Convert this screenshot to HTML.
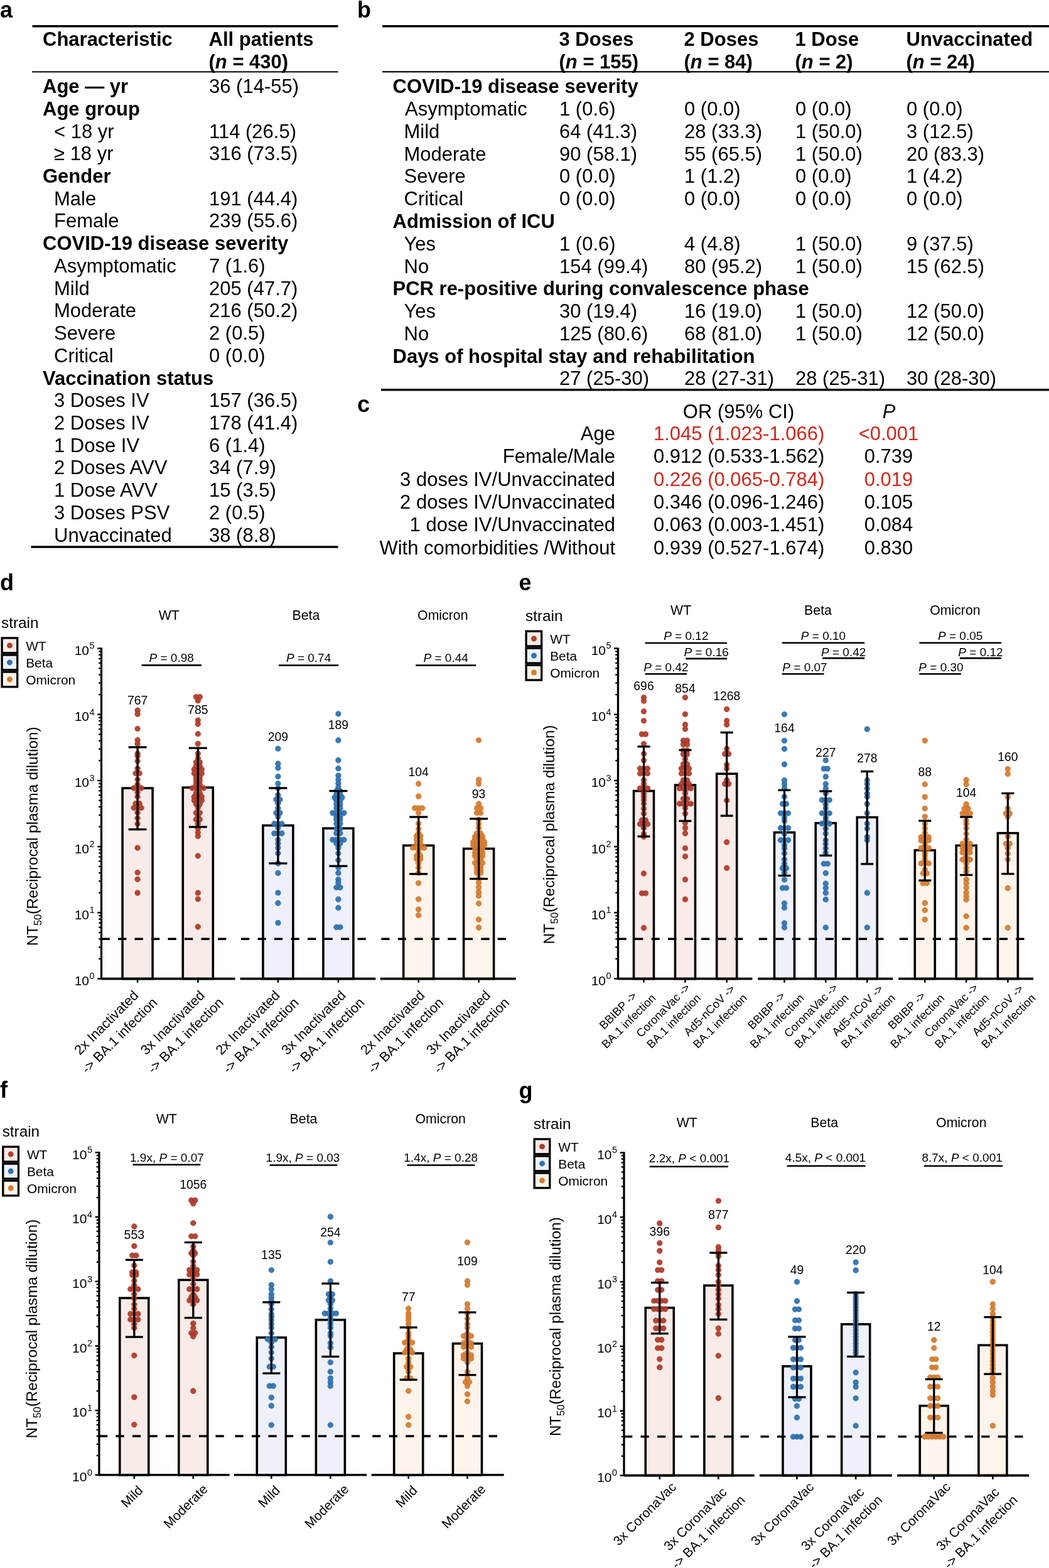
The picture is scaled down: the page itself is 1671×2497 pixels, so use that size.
<!DOCTYPE html>
<html><head><meta charset="utf-8"><title>Figure</title>
<style>
html,body{margin:0;padding:0;background:#fff;}
body{width:1671px;height:2497px;overflow:hidden;}
svg{display:block;}
svg text{font-family:'Liberation Sans', Arial, Helvetica, sans-serif;}
</style></head><body>
<svg width="1671" height="2497" viewBox="0 0 1671 2497">
<rect width="1671" height="2497" fill="#fff"/>
<text x="0.0" y="27.5" font-size="36" font-weight="bold">a</text>
<rect x="51.5" y="40.0" width="487.0" height="3.5" fill="#000"/>
<rect x="51.0" y="113.4" width="487.5" height="2.0" fill="#000"/>
<rect x="49.5" y="869.2" width="489.0" height="3.5" fill="#000"/>
<text x="68.0" y="72.7" font-size="31" font-weight="bold">Characteristic</text>
<text x="332.5" y="72.7" font-size="31" font-weight="bold">All patients</text>
<text x="332.5" y="108.7" font-size="31" font-weight="bold">(<tspan font-style="italic">n</tspan> = 430)</text>
<text x="68.0" y="148.1" font-size="31" font-weight="bold">Age — yr</text>
<text x="333.0" y="148.1" font-size="31">36 (14-55)</text>
<text x="68.0" y="183.8" font-size="31" font-weight="bold">Age group</text>
<text x="86.0" y="219.5" font-size="31">&lt; 18 yr</text>
<text x="333.0" y="219.5" font-size="31">114 (26.5)</text>
<text x="86.0" y="255.3" font-size="31">≥ 18 yr</text>
<text x="333.0" y="255.3" font-size="31">316 (73.5)</text>
<text x="68.0" y="291.0" font-size="31" font-weight="bold">Gender</text>
<text x="86.0" y="326.7" font-size="31">Male</text>
<text x="333.0" y="326.7" font-size="31">191 (44.4)</text>
<text x="86.0" y="362.4" font-size="31">Female</text>
<text x="333.0" y="362.4" font-size="31">239 (55.6)</text>
<text x="68.0" y="398.1" font-size="31" font-weight="bold">COVID-19 disease severity</text>
<text x="86.0" y="433.9" font-size="31">Asymptomatic</text>
<text x="333.0" y="433.9" font-size="31">7 (1.6)</text>
<text x="86.0" y="469.6" font-size="31">Mild</text>
<text x="333.0" y="469.6" font-size="31">205 (47.7)</text>
<text x="86.0" y="505.3" font-size="31">Moderate</text>
<text x="333.0" y="505.3" font-size="31">216 (50.2)</text>
<text x="86.0" y="541.0" font-size="31">Severe</text>
<text x="333.0" y="541.0" font-size="31">2 (0.5)</text>
<text x="86.0" y="576.7" font-size="31">Critical</text>
<text x="333.0" y="576.7" font-size="31">0 (0.0)</text>
<text x="68.0" y="612.5" font-size="31" font-weight="bold">Vaccination status</text>
<text x="86.0" y="648.2" font-size="31">3 Doses IV</text>
<text x="333.0" y="648.2" font-size="31">157 (36.5)</text>
<text x="86.0" y="683.9" font-size="31">2 Doses IV</text>
<text x="333.0" y="683.9" font-size="31">178 (41.4)</text>
<text x="86.0" y="719.6" font-size="31">1 Dose IV</text>
<text x="333.0" y="719.6" font-size="31">6 (1.4)</text>
<text x="86.0" y="755.3" font-size="31">2 Doses AVV</text>
<text x="333.0" y="755.3" font-size="31">34 (7.9)</text>
<text x="86.0" y="791.1" font-size="31">1 Dose AVV</text>
<text x="333.0" y="791.1" font-size="31">15 (3.5)</text>
<text x="86.0" y="826.8" font-size="31">3 Doses PSV</text>
<text x="333.0" y="826.8" font-size="31">2 (0.5)</text>
<text x="86.0" y="862.5" font-size="31">Unvaccinated</text>
<text x="333.0" y="862.5" font-size="31">38 (8.8)</text>
<text x="569.0" y="27.5" font-size="36" font-weight="bold">b</text>
<rect x="609.0" y="40.0" width="1062.0" height="3.5" fill="#000"/>
<rect x="609.0" y="113.2" width="1062.0" height="2.2" fill="#000"/>
<rect x="607.0" y="619.0" width="1064.0" height="3.5" fill="#000"/>
<text x="890.5" y="73.0" font-size="31" font-weight="bold">3 Doses</text>
<text x="890.5" y="109.0" font-size="31" font-weight="bold">(<tspan font-style="italic">n</tspan> = 155)</text>
<text x="1089.5" y="73.0" font-size="31" font-weight="bold">2 Doses</text>
<text x="1089.5" y="109.0" font-size="31" font-weight="bold">(<tspan font-style="italic">n</tspan> = 84)</text>
<text x="1266.5" y="73.0" font-size="31" font-weight="bold">1 Dose</text>
<text x="1266.5" y="109.0" font-size="31" font-weight="bold">(<tspan font-style="italic">n</tspan> = 2)</text>
<text x="1443.5" y="73.0" font-size="31" font-weight="bold">Unvaccinated</text>
<text x="1443.5" y="109.0" font-size="31" font-weight="bold">(<tspan font-style="italic">n</tspan> = 24)</text>
<text x="625.5" y="148.3" font-size="31" font-weight="bold">COVID-19 disease severity</text>
<text x="645.0" y="184.1" font-size="31">Asymptomatic</text>
<text x="891.0" y="184.1" font-size="31">1 (0.6)</text>
<text x="1090.0" y="184.1" font-size="31">0 (0.0)</text>
<text x="1267.0" y="184.1" font-size="31">0 (0.0)</text>
<text x="1444.0" y="184.1" font-size="31">0 (0.0)</text>
<text x="643.5" y="219.8" font-size="31">Mild</text>
<text x="891.0" y="219.8" font-size="31">64 (41.3)</text>
<text x="1090.0" y="219.8" font-size="31">28 (33.3)</text>
<text x="1267.0" y="219.8" font-size="31">1 (50.0)</text>
<text x="1444.0" y="219.8" font-size="31">3 (12.5)</text>
<text x="643.5" y="255.6" font-size="31">Moderate</text>
<text x="891.0" y="255.6" font-size="31">90 (58.1)</text>
<text x="1090.0" y="255.6" font-size="31">55 (65.5)</text>
<text x="1267.0" y="255.6" font-size="31">1 (50.0)</text>
<text x="1444.0" y="255.6" font-size="31">20 (83.3)</text>
<text x="643.5" y="291.4" font-size="31">Severe</text>
<text x="891.0" y="291.4" font-size="31">0 (0.0)</text>
<text x="1090.0" y="291.4" font-size="31">1 (1.2)</text>
<text x="1267.0" y="291.4" font-size="31">0 (0.0)</text>
<text x="1444.0" y="291.4" font-size="31">1 (4.2)</text>
<text x="643.5" y="327.2" font-size="31">Critical</text>
<text x="891.0" y="327.2" font-size="31">0 (0.0)</text>
<text x="1090.0" y="327.2" font-size="31">0 (0.0)</text>
<text x="1267.0" y="327.2" font-size="31">0 (0.0)</text>
<text x="1444.0" y="327.2" font-size="31">0 (0.0)</text>
<text x="625.5" y="362.9" font-size="31" font-weight="bold">Admission of ICU</text>
<text x="643.5" y="398.7" font-size="31">Yes</text>
<text x="891.0" y="398.7" font-size="31">1 (0.6)</text>
<text x="1090.0" y="398.7" font-size="31">4 (4.8)</text>
<text x="1267.0" y="398.7" font-size="31">1 (50.0)</text>
<text x="1444.0" y="398.7" font-size="31">9 (37.5)</text>
<text x="643.5" y="434.5" font-size="31">No</text>
<text x="891.0" y="434.5" font-size="31">154 (99.4)</text>
<text x="1090.0" y="434.5" font-size="31">80 (95.2)</text>
<text x="1267.0" y="434.5" font-size="31">1 (50.0)</text>
<text x="1444.0" y="434.5" font-size="31">15 (62.5)</text>
<text x="625.5" y="470.2" font-size="31" font-weight="bold">PCR re-positive during convalescence phase</text>
<text x="643.5" y="506.0" font-size="31">Yes</text>
<text x="891.0" y="506.0" font-size="31">30 (19.4)</text>
<text x="1090.0" y="506.0" font-size="31">16 (19.0)</text>
<text x="1267.0" y="506.0" font-size="31">1 (50.0)</text>
<text x="1444.0" y="506.0" font-size="31">12 (50.0)</text>
<text x="643.5" y="541.8" font-size="31">No</text>
<text x="891.0" y="541.8" font-size="31">125 (80.6)</text>
<text x="1090.0" y="541.8" font-size="31">68 (81.0)</text>
<text x="1267.0" y="541.8" font-size="31">1 (50.0)</text>
<text x="1444.0" y="541.8" font-size="31">12 (50.0)</text>
<text x="625.5" y="577.5" font-size="31" font-weight="bold">Days of hospital stay and rehabilitation</text>
<text x="891.0" y="613.3" font-size="31">27 (25-30)</text>
<text x="1090.0" y="613.3" font-size="31">28 (27-31)</text>
<text x="1267.0" y="613.3" font-size="31">28 (25-31)</text>
<text x="1444.0" y="613.3" font-size="31">30 (28-30)</text>
<text x="569.0" y="655.5" font-size="36" font-weight="bold">c</text>
<text x="1176.5" y="665.6" font-size="31" text-anchor="middle">OR (95% CI)</text>
<text x="1416.0" y="665.6" font-size="31" text-anchor="middle" font-style="italic">P</text>
<text x="980.0" y="700.6" font-size="31" text-anchor="end">Age</text>
<text x="1041.0" y="700.6" font-size="31" fill="#d0271b">1.045 (1.023-1.066)</text>
<text x="1415.5" y="700.6" font-size="31" text-anchor="middle" fill="#d0271b">&lt;0.001</text>
<text x="980.0" y="737.0" font-size="31" text-anchor="end">Female/Male</text>
<text x="1041.0" y="737.0" font-size="31">0.912 (0.533-1.562)</text>
<text x="1415.5" y="737.0" font-size="31" text-anchor="middle">0.739</text>
<text x="980.0" y="773.5" font-size="31" text-anchor="end">3 doses IV/Unvaccinated</text>
<text x="1041.0" y="773.5" font-size="31" fill="#d0271b">0.226 (0.065-0.784)</text>
<text x="1415.5" y="773.5" font-size="31" text-anchor="middle" fill="#d0271b">0.019</text>
<text x="980.0" y="809.9" font-size="31" text-anchor="end">2 doses IV/Unvaccinated</text>
<text x="1041.0" y="809.9" font-size="31">0.346 (0.096-1.246)</text>
<text x="1415.5" y="809.9" font-size="31" text-anchor="middle">0.105</text>
<text x="980.0" y="846.4" font-size="31" text-anchor="end">1 dose IV/Unvaccinated</text>
<text x="1041.0" y="846.4" font-size="31">0.063 (0.003-1.451)</text>
<text x="1415.5" y="846.4" font-size="31" text-anchor="middle">0.084</text>
<text x="980.0" y="882.8" font-size="31" text-anchor="end">With comorbidities /Without</text>
<text x="1041.0" y="882.8" font-size="31">0.939 (0.527-1.674)</text>
<text x="1415.5" y="882.8" font-size="31" text-anchor="middle">0.830</text>
<text x="0.0" y="940.0" font-size="36" font-weight="bold">d</text>
<text x="2.0" y="999.6" font-size="24.3">strain</text>
<rect x="3.1" y="1016.0" width="24.6" height="23.8" fill="#f9ebe8" stroke="#000" stroke-width="3.3"/>
<circle cx="15.5" cy="1027.9" r="4.5" fill="#ae3f2d"/>
<text x="41.2" y="1035.8" font-size="20.9">WT</text>
<rect x="3.1" y="1043.0" width="24.6" height="23.8" fill="#eef1fa" stroke="#000" stroke-width="3.3"/>
<circle cx="15.5" cy="1054.9" r="4.5" fill="#3173af"/>
<text x="41.2" y="1062.8" font-size="20.9">Beta</text>
<rect x="3.1" y="1070.0" width="24.6" height="23.8" fill="#fdf4eb" stroke="#000" stroke-width="3.3"/>
<circle cx="15.5" cy="1081.9" r="4.5" fill="#d57d33"/>
<text x="41.2" y="1089.8" font-size="20.9">Omicron</text>
<text transform="translate(59.6,1506.3) rotate(-90)" font-size="24.2">NT<tspan font-size="16.3" dy="6">50</tspan><tspan dy="-6">(Reciprocal plasma dilution)</tspan></text>
<rect x="195.1" y="1255.1" width="48.0" height="303.5" fill="#f9ebe8" stroke="#000" stroke-width="3.6"/>
<rect x="291.3" y="1254.1" width="48.0" height="304.5" fill="#f9ebe8" stroke="#000" stroke-width="3.6"/>
<line x1="161.5" y1="1495.3" x2="360.3" y2="1495.3" stroke="#000" stroke-width="3.4" stroke-dasharray="13.3 13.2"/>
<circle cx="219.1" cy="1131.4" r="4.3" fill="#ae3f2d" stroke="#a92a1a" stroke-width="0.6" fill-opacity="0.95"/>
<circle cx="219.1" cy="1137.3" r="4.3" fill="#ae3f2d" stroke="#a92a1a" stroke-width="0.6" fill-opacity="0.95"/>
<circle cx="219.1" cy="1160.5" r="4.3" fill="#ae3f2d" stroke="#a92a1a" stroke-width="0.6" fill-opacity="0.95"/>
<circle cx="219.1" cy="1178.5" r="4.3" fill="#ae3f2d" stroke="#a92a1a" stroke-width="0.6" fill-opacity="0.95"/>
<circle cx="219.1" cy="1184.4" r="4.3" fill="#ae3f2d" stroke="#a92a1a" stroke-width="0.6" fill-opacity="0.95"/>
<circle cx="219.1" cy="1200.1" r="4.3" fill="#ae3f2d" stroke="#a92a1a" stroke-width="0.6" fill-opacity="0.95"/>
<circle cx="219.1" cy="1204.0" r="4.3" fill="#ae3f2d" stroke="#a92a1a" stroke-width="0.6" fill-opacity="0.95"/>
<circle cx="219.1" cy="1212.0" r="4.3" fill="#ae3f2d" stroke="#a92a1a" stroke-width="0.6" fill-opacity="0.95"/>
<circle cx="219.1" cy="1223.6" r="4.3" fill="#ae3f2d" stroke="#a92a1a" stroke-width="0.6" fill-opacity="0.95"/>
<circle cx="216.1" cy="1231.5" r="4.3" fill="#ae3f2d" stroke="#a92a1a" stroke-width="0.6" fill-opacity="0.95"/>
<circle cx="222.1" cy="1231.5" r="4.3" fill="#ae3f2d" stroke="#a92a1a" stroke-width="0.6" fill-opacity="0.95"/>
<circle cx="219.1" cy="1241.3" r="4.3" fill="#ae3f2d" stroke="#a92a1a" stroke-width="0.6" fill-opacity="0.95"/>
<circle cx="219.1" cy="1249.2" r="4.3" fill="#ae3f2d" stroke="#a92a1a" stroke-width="0.6" fill-opacity="0.95"/>
<circle cx="213.1" cy="1255.0" r="4.3" fill="#ae3f2d" stroke="#a92a1a" stroke-width="0.6" fill-opacity="0.95"/>
<circle cx="219.1" cy="1255.0" r="4.3" fill="#ae3f2d" stroke="#a92a1a" stroke-width="0.6" fill-opacity="0.95"/>
<circle cx="225.1" cy="1255.0" r="4.3" fill="#ae3f2d" stroke="#a92a1a" stroke-width="0.6" fill-opacity="0.95"/>
<circle cx="219.1" cy="1262.0" r="4.3" fill="#ae3f2d" stroke="#a92a1a" stroke-width="0.6" fill-opacity="0.95"/>
<circle cx="219.1" cy="1268.8" r="4.3" fill="#ae3f2d" stroke="#a92a1a" stroke-width="0.6" fill-opacity="0.95"/>
<circle cx="216.1" cy="1279.6" r="4.3" fill="#ae3f2d" stroke="#a92a1a" stroke-width="0.6" fill-opacity="0.95"/>
<circle cx="222.1" cy="1279.6" r="4.3" fill="#ae3f2d" stroke="#a92a1a" stroke-width="0.6" fill-opacity="0.95"/>
<circle cx="213.1" cy="1286.5" r="4.3" fill="#ae3f2d" stroke="#a92a1a" stroke-width="0.6" fill-opacity="0.95"/>
<circle cx="219.1" cy="1286.5" r="4.3" fill="#ae3f2d" stroke="#a92a1a" stroke-width="0.6" fill-opacity="0.95"/>
<circle cx="225.1" cy="1286.5" r="4.3" fill="#ae3f2d" stroke="#a92a1a" stroke-width="0.6" fill-opacity="0.95"/>
<circle cx="219.1" cy="1294.3" r="4.3" fill="#ae3f2d" stroke="#a92a1a" stroke-width="0.6" fill-opacity="0.95"/>
<circle cx="219.1" cy="1303.0" r="4.3" fill="#ae3f2d" stroke="#a92a1a" stroke-width="0.6" fill-opacity="0.95"/>
<circle cx="219.1" cy="1312.0" r="4.3" fill="#ae3f2d" stroke="#a92a1a" stroke-width="0.6" fill-opacity="0.95"/>
<circle cx="219.1" cy="1350.2" r="4.3" fill="#ae3f2d" stroke="#a92a1a" stroke-width="0.6" fill-opacity="0.95"/>
<circle cx="219.1" cy="1389.5" r="4.3" fill="#ae3f2d" stroke="#a92a1a" stroke-width="0.6" fill-opacity="0.95"/>
<circle cx="219.1" cy="1400.3" r="4.3" fill="#ae3f2d" stroke="#a92a1a" stroke-width="0.6" fill-opacity="0.95"/>
<circle cx="219.1" cy="1421.9" r="4.3" fill="#ae3f2d" stroke="#a92a1a" stroke-width="0.6" fill-opacity="0.95"/>
<circle cx="312.3" cy="1109.8" r="4.3" fill="#ae3f2d" stroke="#a92a1a" stroke-width="0.6" fill-opacity="0.95"/>
<circle cx="318.3" cy="1109.8" r="4.3" fill="#ae3f2d" stroke="#a92a1a" stroke-width="0.6" fill-opacity="0.95"/>
<circle cx="315.3" cy="1115.7" r="4.3" fill="#ae3f2d" stroke="#a92a1a" stroke-width="0.6" fill-opacity="0.95"/>
<circle cx="315.3" cy="1147.1" r="4.3" fill="#ae3f2d" stroke="#a92a1a" stroke-width="0.6" fill-opacity="0.95"/>
<circle cx="315.3" cy="1153.0" r="4.3" fill="#ae3f2d" stroke="#a92a1a" stroke-width="0.6" fill-opacity="0.95"/>
<circle cx="315.3" cy="1168.7" r="4.3" fill="#ae3f2d" stroke="#a92a1a" stroke-width="0.6" fill-opacity="0.95"/>
<circle cx="315.3" cy="1184.4" r="4.3" fill="#ae3f2d" stroke="#a92a1a" stroke-width="0.6" fill-opacity="0.95"/>
<circle cx="315.3" cy="1200.1" r="4.3" fill="#ae3f2d" stroke="#a92a1a" stroke-width="0.6" fill-opacity="0.95"/>
<circle cx="315.3" cy="1207.0" r="4.3" fill="#ae3f2d" stroke="#a92a1a" stroke-width="0.6" fill-opacity="0.95"/>
<circle cx="312.3" cy="1213.8" r="4.3" fill="#ae3f2d" stroke="#a92a1a" stroke-width="0.6" fill-opacity="0.95"/>
<circle cx="318.3" cy="1213.8" r="4.3" fill="#ae3f2d" stroke="#a92a1a" stroke-width="0.6" fill-opacity="0.95"/>
<circle cx="312.3" cy="1220.0" r="4.3" fill="#ae3f2d" stroke="#a92a1a" stroke-width="0.6" fill-opacity="0.95"/>
<circle cx="318.3" cy="1220.0" r="4.3" fill="#ae3f2d" stroke="#a92a1a" stroke-width="0.6" fill-opacity="0.95"/>
<circle cx="309.3" cy="1225.0" r="4.3" fill="#ae3f2d" stroke="#a92a1a" stroke-width="0.6" fill-opacity="0.95"/>
<circle cx="315.3" cy="1225.0" r="4.3" fill="#ae3f2d" stroke="#a92a1a" stroke-width="0.6" fill-opacity="0.95"/>
<circle cx="321.3" cy="1225.0" r="4.3" fill="#ae3f2d" stroke="#a92a1a" stroke-width="0.6" fill-opacity="0.95"/>
<circle cx="309.3" cy="1231.5" r="4.3" fill="#ae3f2d" stroke="#a92a1a" stroke-width="0.6" fill-opacity="0.95"/>
<circle cx="315.3" cy="1231.5" r="4.3" fill="#ae3f2d" stroke="#a92a1a" stroke-width="0.6" fill-opacity="0.95"/>
<circle cx="321.3" cy="1231.5" r="4.3" fill="#ae3f2d" stroke="#a92a1a" stroke-width="0.6" fill-opacity="0.95"/>
<circle cx="312.3" cy="1237.4" r="4.3" fill="#ae3f2d" stroke="#a92a1a" stroke-width="0.6" fill-opacity="0.95"/>
<circle cx="318.3" cy="1237.4" r="4.3" fill="#ae3f2d" stroke="#a92a1a" stroke-width="0.6" fill-opacity="0.95"/>
<circle cx="312.3" cy="1243.0" r="4.3" fill="#ae3f2d" stroke="#a92a1a" stroke-width="0.6" fill-opacity="0.95"/>
<circle cx="318.3" cy="1243.0" r="4.3" fill="#ae3f2d" stroke="#a92a1a" stroke-width="0.6" fill-opacity="0.95"/>
<circle cx="312.3" cy="1249.0" r="4.3" fill="#ae3f2d" stroke="#a92a1a" stroke-width="0.6" fill-opacity="0.95"/>
<circle cx="318.3" cy="1249.0" r="4.3" fill="#ae3f2d" stroke="#a92a1a" stroke-width="0.6" fill-opacity="0.95"/>
<circle cx="306.3" cy="1255.0" r="4.3" fill="#ae3f2d" stroke="#a92a1a" stroke-width="0.6" fill-opacity="0.95"/>
<circle cx="312.3" cy="1255.0" r="4.3" fill="#ae3f2d" stroke="#a92a1a" stroke-width="0.6" fill-opacity="0.95"/>
<circle cx="318.3" cy="1255.0" r="4.3" fill="#ae3f2d" stroke="#a92a1a" stroke-width="0.6" fill-opacity="0.95"/>
<circle cx="324.3" cy="1255.0" r="4.3" fill="#ae3f2d" stroke="#a92a1a" stroke-width="0.6" fill-opacity="0.95"/>
<circle cx="312.3" cy="1263.0" r="4.3" fill="#ae3f2d" stroke="#a92a1a" stroke-width="0.6" fill-opacity="0.95"/>
<circle cx="318.3" cy="1263.0" r="4.3" fill="#ae3f2d" stroke="#a92a1a" stroke-width="0.6" fill-opacity="0.95"/>
<circle cx="309.3" cy="1268.8" r="4.3" fill="#ae3f2d" stroke="#a92a1a" stroke-width="0.6" fill-opacity="0.95"/>
<circle cx="315.3" cy="1268.8" r="4.3" fill="#ae3f2d" stroke="#a92a1a" stroke-width="0.6" fill-opacity="0.95"/>
<circle cx="321.3" cy="1268.8" r="4.3" fill="#ae3f2d" stroke="#a92a1a" stroke-width="0.6" fill-opacity="0.95"/>
<circle cx="309.3" cy="1274.6" r="4.3" fill="#ae3f2d" stroke="#a92a1a" stroke-width="0.6" fill-opacity="0.95"/>
<circle cx="315.3" cy="1274.6" r="4.3" fill="#ae3f2d" stroke="#a92a1a" stroke-width="0.6" fill-opacity="0.95"/>
<circle cx="321.3" cy="1274.6" r="4.3" fill="#ae3f2d" stroke="#a92a1a" stroke-width="0.6" fill-opacity="0.95"/>
<circle cx="312.3" cy="1280.6" r="4.3" fill="#ae3f2d" stroke="#a92a1a" stroke-width="0.6" fill-opacity="0.95"/>
<circle cx="318.3" cy="1280.6" r="4.3" fill="#ae3f2d" stroke="#a92a1a" stroke-width="0.6" fill-opacity="0.95"/>
<circle cx="315.3" cy="1286.0" r="4.3" fill="#ae3f2d" stroke="#a92a1a" stroke-width="0.6" fill-opacity="0.95"/>
<circle cx="312.3" cy="1294.3" r="4.3" fill="#ae3f2d" stroke="#a92a1a" stroke-width="0.6" fill-opacity="0.95"/>
<circle cx="318.3" cy="1294.3" r="4.3" fill="#ae3f2d" stroke="#a92a1a" stroke-width="0.6" fill-opacity="0.95"/>
<circle cx="315.3" cy="1300.0" r="4.3" fill="#ae3f2d" stroke="#a92a1a" stroke-width="0.6" fill-opacity="0.95"/>
<circle cx="312.3" cy="1305.0" r="4.3" fill="#ae3f2d" stroke="#a92a1a" stroke-width="0.6" fill-opacity="0.95"/>
<circle cx="318.3" cy="1305.0" r="4.3" fill="#ae3f2d" stroke="#a92a1a" stroke-width="0.6" fill-opacity="0.95"/>
<circle cx="315.3" cy="1312.0" r="4.3" fill="#ae3f2d" stroke="#a92a1a" stroke-width="0.6" fill-opacity="0.95"/>
<circle cx="315.3" cy="1319.0" r="4.3" fill="#ae3f2d" stroke="#a92a1a" stroke-width="0.6" fill-opacity="0.95"/>
<circle cx="315.3" cy="1325.7" r="4.3" fill="#ae3f2d" stroke="#a92a1a" stroke-width="0.6" fill-opacity="0.95"/>
<circle cx="315.3" cy="1331.6" r="4.3" fill="#ae3f2d" stroke="#a92a1a" stroke-width="0.6" fill-opacity="0.95"/>
<circle cx="315.3" cy="1363.0" r="4.3" fill="#ae3f2d" stroke="#a92a1a" stroke-width="0.6" fill-opacity="0.95"/>
<circle cx="315.3" cy="1421.9" r="4.3" fill="#ae3f2d" stroke="#a92a1a" stroke-width="0.6" fill-opacity="0.95"/>
<circle cx="315.3" cy="1431.7" r="4.3" fill="#ae3f2d" stroke="#a92a1a" stroke-width="0.6" fill-opacity="0.95"/>
<circle cx="315.3" cy="1475.9" r="4.3" fill="#ae3f2d" stroke="#a92a1a" stroke-width="0.6" fill-opacity="0.95"/>
<line x1="219.1" y1="1189.9" x2="219.1" y2="1320.8" stroke="#000" stroke-width="3.3" />
<line x1="204.6" y1="1189.9" x2="233.6" y2="1189.9" stroke="#000" stroke-width="3.3" />
<line x1="204.6" y1="1320.8" x2="233.6" y2="1320.8" stroke="#000" stroke-width="3.3" />
<text x="219.1" y="1122.3" font-size="19.4" text-anchor="middle">767</text>
<line x1="315.3" y1="1191.3" x2="315.3" y2="1316.9" stroke="#000" stroke-width="3.3" />
<line x1="300.8" y1="1191.3" x2="329.8" y2="1191.3" stroke="#000" stroke-width="3.3" />
<line x1="300.8" y1="1316.9" x2="329.8" y2="1316.9" stroke="#000" stroke-width="3.3" />
<text x="315.3" y="1137.0" font-size="19.4" text-anchor="middle">785</text>
<line x1="161.5" y1="1558.6" x2="374.5" y2="1558.6" stroke="#000" stroke-width="3.6" />
<line x1="219.1" y1="1558.6" x2="219.1" y2="1564.8" stroke="#000" stroke-width="2.6" />
<text transform="translate(174.5,1633.7) rotate(-45)" font-size="21.7" text-anchor="middle">2x Inactivated</text>
<text transform="translate(195.3,1654.4) rotate(-45)" font-size="21.7" text-anchor="middle">-&gt; BA.1 infection</text>
<line x1="315.3" y1="1558.6" x2="315.3" y2="1564.8" stroke="#000" stroke-width="2.6" />
<text transform="translate(280.0,1633.7) rotate(-45)" font-size="21.7" text-anchor="middle">3x Inactivated</text>
<text transform="translate(300.8,1654.4) rotate(-45)" font-size="21.7" text-anchor="middle">-&gt; BA.1 infection</text>
<text x="269.2" y="987.0" font-size="21.3" text-anchor="middle">WT</text>
<line x1="225.6" y1="1059.4" x2="320.9" y2="1059.4" stroke="#000" stroke-width="2.6" />
<text x="273.2" y="1054.0" font-size="19.0" text-anchor="middle"><tspan font-style="italic">P</tspan> = 0.98</text>
<rect x="418.9" y="1314.5" width="48.0" height="244.1" fill="#eef1fa" stroke="#000" stroke-width="3.6"/>
<rect x="514.9" y="1319.1" width="48.0" height="239.5" fill="#eef1fa" stroke="#000" stroke-width="3.6"/>
<line x1="384.0" y1="1495.3" x2="582.8" y2="1495.3" stroke="#000" stroke-width="3.4" stroke-dasharray="13.3 13.2"/>
<circle cx="442.9" cy="1192.2" r="4.3" fill="#3173af" stroke="#1f62a3" stroke-width="0.6" fill-opacity="0.95"/>
<circle cx="442.9" cy="1216.1" r="4.3" fill="#3173af" stroke="#1f62a3" stroke-width="0.6" fill-opacity="0.95"/>
<circle cx="442.9" cy="1222.9" r="4.3" fill="#3173af" stroke="#1f62a3" stroke-width="0.6" fill-opacity="0.95"/>
<circle cx="442.9" cy="1236.6" r="4.3" fill="#3173af" stroke="#1f62a3" stroke-width="0.6" fill-opacity="0.95"/>
<circle cx="442.9" cy="1247.7" r="4.3" fill="#3173af" stroke="#1f62a3" stroke-width="0.6" fill-opacity="0.95"/>
<circle cx="442.9" cy="1255.4" r="4.3" fill="#3173af" stroke="#1f62a3" stroke-width="0.6" fill-opacity="0.95"/>
<circle cx="442.9" cy="1266.0" r="4.3" fill="#3173af" stroke="#1f62a3" stroke-width="0.6" fill-opacity="0.95"/>
<circle cx="439.9" cy="1273.3" r="4.3" fill="#3173af" stroke="#1f62a3" stroke-width="0.6" fill-opacity="0.95"/>
<circle cx="445.9" cy="1273.3" r="4.3" fill="#3173af" stroke="#1f62a3" stroke-width="0.6" fill-opacity="0.95"/>
<circle cx="442.9" cy="1279.3" r="4.3" fill="#3173af" stroke="#1f62a3" stroke-width="0.6" fill-opacity="0.95"/>
<circle cx="442.9" cy="1287.0" r="4.3" fill="#3173af" stroke="#1f62a3" stroke-width="0.6" fill-opacity="0.95"/>
<circle cx="439.9" cy="1294.6" r="4.3" fill="#3173af" stroke="#1f62a3" stroke-width="0.6" fill-opacity="0.95"/>
<circle cx="445.9" cy="1294.6" r="4.3" fill="#3173af" stroke="#1f62a3" stroke-width="0.6" fill-opacity="0.95"/>
<circle cx="442.9" cy="1300.6" r="4.3" fill="#3173af" stroke="#1f62a3" stroke-width="0.6" fill-opacity="0.95"/>
<circle cx="436.9" cy="1311.7" r="4.3" fill="#3173af" stroke="#1f62a3" stroke-width="0.6" fill-opacity="0.95"/>
<circle cx="442.9" cy="1311.7" r="4.3" fill="#3173af" stroke="#1f62a3" stroke-width="0.6" fill-opacity="0.95"/>
<circle cx="448.9" cy="1311.7" r="4.3" fill="#3173af" stroke="#1f62a3" stroke-width="0.6" fill-opacity="0.95"/>
<circle cx="442.9" cy="1318.5" r="4.3" fill="#3173af" stroke="#1f62a3" stroke-width="0.6" fill-opacity="0.95"/>
<circle cx="436.9" cy="1327.1" r="4.3" fill="#3173af" stroke="#1f62a3" stroke-width="0.6" fill-opacity="0.95"/>
<circle cx="442.9" cy="1327.1" r="4.3" fill="#3173af" stroke="#1f62a3" stroke-width="0.6" fill-opacity="0.95"/>
<circle cx="448.9" cy="1327.1" r="4.3" fill="#3173af" stroke="#1f62a3" stroke-width="0.6" fill-opacity="0.95"/>
<circle cx="442.9" cy="1337.3" r="4.3" fill="#3173af" stroke="#1f62a3" stroke-width="0.6" fill-opacity="0.95"/>
<circle cx="442.9" cy="1343.3" r="4.3" fill="#3173af" stroke="#1f62a3" stroke-width="0.6" fill-opacity="0.95"/>
<circle cx="442.9" cy="1350.1" r="4.3" fill="#3173af" stroke="#1f62a3" stroke-width="0.6" fill-opacity="0.95"/>
<circle cx="442.9" cy="1358.7" r="4.3" fill="#3173af" stroke="#1f62a3" stroke-width="0.6" fill-opacity="0.95"/>
<circle cx="442.9" cy="1374.9" r="4.3" fill="#3173af" stroke="#1f62a3" stroke-width="0.6" fill-opacity="0.95"/>
<circle cx="442.9" cy="1390.3" r="4.3" fill="#3173af" stroke="#1f62a3" stroke-width="0.6" fill-opacity="0.95"/>
<circle cx="442.9" cy="1421.8" r="4.3" fill="#3173af" stroke="#1f62a3" stroke-width="0.6" fill-opacity="0.95"/>
<circle cx="442.9" cy="1438.1" r="4.3" fill="#3173af" stroke="#1f62a3" stroke-width="0.6" fill-opacity="0.95"/>
<circle cx="442.9" cy="1469.6" r="4.3" fill="#3173af" stroke="#1f62a3" stroke-width="0.6" fill-opacity="0.95"/>
<circle cx="538.9" cy="1136.7" r="4.3" fill="#3173af" stroke="#1f62a3" stroke-width="0.6" fill-opacity="0.95"/>
<circle cx="538.9" cy="1178.9" r="4.3" fill="#3173af" stroke="#1f62a3" stroke-width="0.6" fill-opacity="0.95"/>
<circle cx="538.9" cy="1210.6" r="4.3" fill="#3173af" stroke="#1f62a3" stroke-width="0.6" fill-opacity="0.95"/>
<circle cx="538.9" cy="1223.8" r="4.3" fill="#3173af" stroke="#1f62a3" stroke-width="0.6" fill-opacity="0.95"/>
<circle cx="538.9" cy="1235.0" r="4.3" fill="#3173af" stroke="#1f62a3" stroke-width="0.6" fill-opacity="0.95"/>
<circle cx="538.9" cy="1241.7" r="4.3" fill="#3173af" stroke="#1f62a3" stroke-width="0.6" fill-opacity="0.95"/>
<circle cx="538.9" cy="1247.7" r="4.3" fill="#3173af" stroke="#1f62a3" stroke-width="0.6" fill-opacity="0.95"/>
<circle cx="538.9" cy="1253.7" r="4.3" fill="#3173af" stroke="#1f62a3" stroke-width="0.6" fill-opacity="0.95"/>
<circle cx="535.9" cy="1259.6" r="4.3" fill="#3173af" stroke="#1f62a3" stroke-width="0.6" fill-opacity="0.95"/>
<circle cx="541.9" cy="1259.6" r="4.3" fill="#3173af" stroke="#1f62a3" stroke-width="0.6" fill-opacity="0.95"/>
<circle cx="535.9" cy="1265.0" r="4.3" fill="#3173af" stroke="#1f62a3" stroke-width="0.6" fill-opacity="0.95"/>
<circle cx="541.9" cy="1265.0" r="4.3" fill="#3173af" stroke="#1f62a3" stroke-width="0.6" fill-opacity="0.95"/>
<circle cx="532.9" cy="1270.0" r="4.3" fill="#3173af" stroke="#1f62a3" stroke-width="0.6" fill-opacity="0.95"/>
<circle cx="538.9" cy="1270.0" r="4.3" fill="#3173af" stroke="#1f62a3" stroke-width="0.6" fill-opacity="0.95"/>
<circle cx="544.9" cy="1270.0" r="4.3" fill="#3173af" stroke="#1f62a3" stroke-width="0.6" fill-opacity="0.95"/>
<circle cx="535.9" cy="1275.0" r="4.3" fill="#3173af" stroke="#1f62a3" stroke-width="0.6" fill-opacity="0.95"/>
<circle cx="541.9" cy="1275.0" r="4.3" fill="#3173af" stroke="#1f62a3" stroke-width="0.6" fill-opacity="0.95"/>
<circle cx="535.9" cy="1281.0" r="4.3" fill="#3173af" stroke="#1f62a3" stroke-width="0.6" fill-opacity="0.95"/>
<circle cx="541.9" cy="1281.0" r="4.3" fill="#3173af" stroke="#1f62a3" stroke-width="0.6" fill-opacity="0.95"/>
<circle cx="535.9" cy="1287.0" r="4.3" fill="#3173af" stroke="#1f62a3" stroke-width="0.6" fill-opacity="0.95"/>
<circle cx="541.9" cy="1287.0" r="4.3" fill="#3173af" stroke="#1f62a3" stroke-width="0.6" fill-opacity="0.95"/>
<circle cx="529.9" cy="1294.6" r="4.3" fill="#3173af" stroke="#1f62a3" stroke-width="0.6" fill-opacity="0.95"/>
<circle cx="535.9" cy="1294.6" r="4.3" fill="#3173af" stroke="#1f62a3" stroke-width="0.6" fill-opacity="0.95"/>
<circle cx="541.9" cy="1294.6" r="4.3" fill="#3173af" stroke="#1f62a3" stroke-width="0.6" fill-opacity="0.95"/>
<circle cx="547.9" cy="1294.6" r="4.3" fill="#3173af" stroke="#1f62a3" stroke-width="0.6" fill-opacity="0.95"/>
<circle cx="535.9" cy="1300.0" r="4.3" fill="#3173af" stroke="#1f62a3" stroke-width="0.6" fill-opacity="0.95"/>
<circle cx="541.9" cy="1300.0" r="4.3" fill="#3173af" stroke="#1f62a3" stroke-width="0.6" fill-opacity="0.95"/>
<circle cx="535.9" cy="1304.9" r="4.3" fill="#3173af" stroke="#1f62a3" stroke-width="0.6" fill-opacity="0.95"/>
<circle cx="541.9" cy="1304.9" r="4.3" fill="#3173af" stroke="#1f62a3" stroke-width="0.6" fill-opacity="0.95"/>
<circle cx="535.9" cy="1311.7" r="4.3" fill="#3173af" stroke="#1f62a3" stroke-width="0.6" fill-opacity="0.95"/>
<circle cx="541.9" cy="1311.7" r="4.3" fill="#3173af" stroke="#1f62a3" stroke-width="0.6" fill-opacity="0.95"/>
<circle cx="535.9" cy="1320.0" r="4.3" fill="#3173af" stroke="#1f62a3" stroke-width="0.6" fill-opacity="0.95"/>
<circle cx="541.9" cy="1320.0" r="4.3" fill="#3173af" stroke="#1f62a3" stroke-width="0.6" fill-opacity="0.95"/>
<circle cx="535.9" cy="1327.0" r="4.3" fill="#3173af" stroke="#1f62a3" stroke-width="0.6" fill-opacity="0.95"/>
<circle cx="541.9" cy="1327.0" r="4.3" fill="#3173af" stroke="#1f62a3" stroke-width="0.6" fill-opacity="0.95"/>
<circle cx="529.9" cy="1337.3" r="4.3" fill="#3173af" stroke="#1f62a3" stroke-width="0.6" fill-opacity="0.95"/>
<circle cx="535.9" cy="1337.3" r="4.3" fill="#3173af" stroke="#1f62a3" stroke-width="0.6" fill-opacity="0.95"/>
<circle cx="541.9" cy="1337.3" r="4.3" fill="#3173af" stroke="#1f62a3" stroke-width="0.6" fill-opacity="0.95"/>
<circle cx="547.9" cy="1337.3" r="4.3" fill="#3173af" stroke="#1f62a3" stroke-width="0.6" fill-opacity="0.95"/>
<circle cx="535.9" cy="1343.0" r="4.3" fill="#3173af" stroke="#1f62a3" stroke-width="0.6" fill-opacity="0.95"/>
<circle cx="541.9" cy="1343.0" r="4.3" fill="#3173af" stroke="#1f62a3" stroke-width="0.6" fill-opacity="0.95"/>
<circle cx="538.9" cy="1350.1" r="4.3" fill="#3173af" stroke="#1f62a3" stroke-width="0.6" fill-opacity="0.95"/>
<circle cx="538.9" cy="1358.7" r="4.3" fill="#3173af" stroke="#1f62a3" stroke-width="0.6" fill-opacity="0.95"/>
<circle cx="538.9" cy="1369.8" r="4.3" fill="#3173af" stroke="#1f62a3" stroke-width="0.6" fill-opacity="0.95"/>
<circle cx="538.9" cy="1381.7" r="4.3" fill="#3173af" stroke="#1f62a3" stroke-width="0.6" fill-opacity="0.95"/>
<circle cx="538.9" cy="1390.3" r="4.3" fill="#3173af" stroke="#1f62a3" stroke-width="0.6" fill-opacity="0.95"/>
<circle cx="538.9" cy="1400.5" r="4.3" fill="#3173af" stroke="#1f62a3" stroke-width="0.6" fill-opacity="0.95"/>
<circle cx="538.9" cy="1405.6" r="4.3" fill="#3173af" stroke="#1f62a3" stroke-width="0.6" fill-opacity="0.95"/>
<circle cx="535.9" cy="1413.3" r="4.3" fill="#3173af" stroke="#1f62a3" stroke-width="0.6" fill-opacity="0.95"/>
<circle cx="541.9" cy="1413.3" r="4.3" fill="#3173af" stroke="#1f62a3" stroke-width="0.6" fill-opacity="0.95"/>
<circle cx="538.9" cy="1432.1" r="4.3" fill="#3173af" stroke="#1f62a3" stroke-width="0.6" fill-opacity="0.95"/>
<circle cx="538.9" cy="1445.7" r="4.3" fill="#3173af" stroke="#1f62a3" stroke-width="0.6" fill-opacity="0.95"/>
<circle cx="535.9" cy="1476.5" r="4.3" fill="#3173af" stroke="#1f62a3" stroke-width="0.6" fill-opacity="0.95"/>
<circle cx="541.9" cy="1476.5" r="4.3" fill="#3173af" stroke="#1f62a3" stroke-width="0.6" fill-opacity="0.95"/>
<line x1="442.9" y1="1255.0" x2="442.9" y2="1374.9" stroke="#000" stroke-width="3.3" />
<line x1="428.4" y1="1255.0" x2="457.4" y2="1255.0" stroke="#000" stroke-width="3.3" />
<line x1="428.4" y1="1374.9" x2="457.4" y2="1374.9" stroke="#000" stroke-width="3.3" />
<text x="442.9" y="1180.3" font-size="19.4" text-anchor="middle">209</text>
<line x1="538.9" y1="1259.6" x2="538.9" y2="1379.2" stroke="#000" stroke-width="3.3" />
<line x1="524.4" y1="1259.6" x2="553.4" y2="1259.6" stroke="#000" stroke-width="3.3" />
<line x1="524.4" y1="1379.2" x2="553.4" y2="1379.2" stroke="#000" stroke-width="3.3" />
<text x="538.9" y="1161.4" font-size="19.4" text-anchor="middle">189</text>
<line x1="382.5" y1="1558.6" x2="598.3" y2="1558.6" stroke="#000" stroke-width="3.6" />
<line x1="442.9" y1="1558.6" x2="442.9" y2="1564.8" stroke="#000" stroke-width="2.6" />
<text transform="translate(399.7,1633.7) rotate(-45)" font-size="21.7" text-anchor="middle">2x Inactivated</text>
<text transform="translate(420.5,1654.4) rotate(-45)" font-size="21.7" text-anchor="middle">-&gt; BA.1 infection</text>
<line x1="538.9" y1="1558.6" x2="538.9" y2="1564.8" stroke="#000" stroke-width="2.6" />
<text transform="translate(504.6,1633.7) rotate(-45)" font-size="21.7" text-anchor="middle">3x Inactivated</text>
<text transform="translate(525.4,1654.4) rotate(-45)" font-size="21.7" text-anchor="middle">-&gt; BA.1 infection</text>
<text x="487.4" y="987.0" font-size="21.3" text-anchor="middle">Beta</text>
<line x1="443.9" y1="1059.5" x2="539.3" y2="1059.5" stroke="#000" stroke-width="2.6" />
<text x="491.6" y="1054.0" font-size="19.0" text-anchor="middle"><tspan font-style="italic">P</tspan> = 0.74</text>
<rect x="642.7" y="1346.4" width="48.0" height="212.2" fill="#fdf4eb" stroke="#000" stroke-width="3.6"/>
<rect x="738.6" y="1351.5" width="48.0" height="207.1" fill="#fdf4eb" stroke="#000" stroke-width="3.6"/>
<line x1="607.3" y1="1495.3" x2="806.1" y2="1495.3" stroke="#000" stroke-width="3.4" stroke-dasharray="13.3 13.2"/>
<circle cx="666.7" cy="1248.1" r="4.3" fill="#d57d33" stroke="#c9691c" stroke-width="0.6" fill-opacity="0.95"/>
<circle cx="666.7" cy="1268.1" r="4.3" fill="#d57d33" stroke="#c9691c" stroke-width="0.6" fill-opacity="0.95"/>
<circle cx="660.7" cy="1286.9" r="4.3" fill="#d57d33" stroke="#c9691c" stroke-width="0.6" fill-opacity="0.95"/>
<circle cx="666.7" cy="1286.9" r="4.3" fill="#d57d33" stroke="#c9691c" stroke-width="0.6" fill-opacity="0.95"/>
<circle cx="672.7" cy="1286.9" r="4.3" fill="#d57d33" stroke="#c9691c" stroke-width="0.6" fill-opacity="0.95"/>
<circle cx="666.7" cy="1294.5" r="4.3" fill="#d57d33" stroke="#c9691c" stroke-width="0.6" fill-opacity="0.95"/>
<circle cx="666.7" cy="1311.6" r="4.3" fill="#d57d33" stroke="#c9691c" stroke-width="0.6" fill-opacity="0.95"/>
<circle cx="666.7" cy="1320.0" r="4.3" fill="#d57d33" stroke="#c9691c" stroke-width="0.6" fill-opacity="0.95"/>
<circle cx="666.7" cy="1327.0" r="4.3" fill="#d57d33" stroke="#c9691c" stroke-width="0.6" fill-opacity="0.95"/>
<circle cx="663.7" cy="1331.2" r="4.3" fill="#d57d33" stroke="#c9691c" stroke-width="0.6" fill-opacity="0.95"/>
<circle cx="669.7" cy="1331.2" r="4.3" fill="#d57d33" stroke="#c9691c" stroke-width="0.6" fill-opacity="0.95"/>
<circle cx="663.7" cy="1337.2" r="4.3" fill="#d57d33" stroke="#c9691c" stroke-width="0.6" fill-opacity="0.95"/>
<circle cx="669.7" cy="1337.2" r="4.3" fill="#d57d33" stroke="#c9691c" stroke-width="0.6" fill-opacity="0.95"/>
<circle cx="663.7" cy="1344.0" r="4.3" fill="#d57d33" stroke="#c9691c" stroke-width="0.6" fill-opacity="0.95"/>
<circle cx="669.7" cy="1344.0" r="4.3" fill="#d57d33" stroke="#c9691c" stroke-width="0.6" fill-opacity="0.95"/>
<circle cx="657.7" cy="1350.0" r="4.3" fill="#d57d33" stroke="#c9691c" stroke-width="0.6" fill-opacity="0.95"/>
<circle cx="663.7" cy="1350.0" r="4.3" fill="#d57d33" stroke="#c9691c" stroke-width="0.6" fill-opacity="0.95"/>
<circle cx="669.7" cy="1350.0" r="4.3" fill="#d57d33" stroke="#c9691c" stroke-width="0.6" fill-opacity="0.95"/>
<circle cx="675.7" cy="1350.0" r="4.3" fill="#d57d33" stroke="#c9691c" stroke-width="0.6" fill-opacity="0.95"/>
<circle cx="666.7" cy="1357.7" r="4.3" fill="#d57d33" stroke="#c9691c" stroke-width="0.6" fill-opacity="0.95"/>
<circle cx="663.7" cy="1362.8" r="4.3" fill="#d57d33" stroke="#c9691c" stroke-width="0.6" fill-opacity="0.95"/>
<circle cx="669.7" cy="1362.8" r="4.3" fill="#d57d33" stroke="#c9691c" stroke-width="0.6" fill-opacity="0.95"/>
<circle cx="663.7" cy="1368.0" r="4.3" fill="#d57d33" stroke="#c9691c" stroke-width="0.6" fill-opacity="0.95"/>
<circle cx="669.7" cy="1368.0" r="4.3" fill="#d57d33" stroke="#c9691c" stroke-width="0.6" fill-opacity="0.95"/>
<circle cx="666.7" cy="1374.7" r="4.3" fill="#d57d33" stroke="#c9691c" stroke-width="0.6" fill-opacity="0.95"/>
<circle cx="666.7" cy="1381.6" r="4.3" fill="#d57d33" stroke="#c9691c" stroke-width="0.6" fill-opacity="0.95"/>
<circle cx="666.7" cy="1390.1" r="4.3" fill="#d57d33" stroke="#c9691c" stroke-width="0.6" fill-opacity="0.95"/>
<circle cx="666.7" cy="1406.3" r="4.3" fill="#d57d33" stroke="#c9691c" stroke-width="0.6" fill-opacity="0.95"/>
<circle cx="666.7" cy="1431.9" r="4.3" fill="#d57d33" stroke="#c9691c" stroke-width="0.6" fill-opacity="0.95"/>
<circle cx="666.7" cy="1448.1" r="4.3" fill="#d57d33" stroke="#c9691c" stroke-width="0.6" fill-opacity="0.95"/>
<circle cx="666.7" cy="1457.5" r="4.3" fill="#d57d33" stroke="#c9691c" stroke-width="0.6" fill-opacity="0.95"/>
<circle cx="762.6" cy="1178.8" r="4.3" fill="#d57d33" stroke="#c9691c" stroke-width="0.6" fill-opacity="0.95"/>
<circle cx="762.6" cy="1241.6" r="4.3" fill="#d57d33" stroke="#c9691c" stroke-width="0.6" fill-opacity="0.95"/>
<circle cx="762.6" cy="1248.1" r="4.3" fill="#d57d33" stroke="#c9691c" stroke-width="0.6" fill-opacity="0.95"/>
<circle cx="762.6" cy="1280.0" r="4.3" fill="#d57d33" stroke="#c9691c" stroke-width="0.6" fill-opacity="0.95"/>
<circle cx="759.6" cy="1286.9" r="4.3" fill="#d57d33" stroke="#c9691c" stroke-width="0.6" fill-opacity="0.95"/>
<circle cx="765.6" cy="1286.9" r="4.3" fill="#d57d33" stroke="#c9691c" stroke-width="0.6" fill-opacity="0.95"/>
<circle cx="759.6" cy="1294.5" r="4.3" fill="#d57d33" stroke="#c9691c" stroke-width="0.6" fill-opacity="0.95"/>
<circle cx="765.6" cy="1294.5" r="4.3" fill="#d57d33" stroke="#c9691c" stroke-width="0.6" fill-opacity="0.95"/>
<circle cx="762.6" cy="1305.0" r="4.3" fill="#d57d33" stroke="#c9691c" stroke-width="0.6" fill-opacity="0.95"/>
<circle cx="762.6" cy="1311.6" r="4.3" fill="#d57d33" stroke="#c9691c" stroke-width="0.6" fill-opacity="0.95"/>
<circle cx="762.6" cy="1318.4" r="4.3" fill="#d57d33" stroke="#c9691c" stroke-width="0.6" fill-opacity="0.95"/>
<circle cx="759.6" cy="1327.0" r="4.3" fill="#d57d33" stroke="#c9691c" stroke-width="0.6" fill-opacity="0.95"/>
<circle cx="765.6" cy="1327.0" r="4.3" fill="#d57d33" stroke="#c9691c" stroke-width="0.6" fill-opacity="0.95"/>
<circle cx="756.6" cy="1332.0" r="4.3" fill="#d57d33" stroke="#c9691c" stroke-width="0.6" fill-opacity="0.95"/>
<circle cx="762.6" cy="1332.0" r="4.3" fill="#d57d33" stroke="#c9691c" stroke-width="0.6" fill-opacity="0.95"/>
<circle cx="768.6" cy="1332.0" r="4.3" fill="#d57d33" stroke="#c9691c" stroke-width="0.6" fill-opacity="0.95"/>
<circle cx="756.6" cy="1336.0" r="4.3" fill="#d57d33" stroke="#c9691c" stroke-width="0.6" fill-opacity="0.95"/>
<circle cx="762.6" cy="1336.0" r="4.3" fill="#d57d33" stroke="#c9691c" stroke-width="0.6" fill-opacity="0.95"/>
<circle cx="768.6" cy="1336.0" r="4.3" fill="#d57d33" stroke="#c9691c" stroke-width="0.6" fill-opacity="0.95"/>
<circle cx="753.6" cy="1341.0" r="4.3" fill="#d57d33" stroke="#c9691c" stroke-width="0.6" fill-opacity="0.95"/>
<circle cx="759.6" cy="1341.0" r="4.3" fill="#d57d33" stroke="#c9691c" stroke-width="0.6" fill-opacity="0.95"/>
<circle cx="765.6" cy="1341.0" r="4.3" fill="#d57d33" stroke="#c9691c" stroke-width="0.6" fill-opacity="0.95"/>
<circle cx="771.6" cy="1341.0" r="4.3" fill="#d57d33" stroke="#c9691c" stroke-width="0.6" fill-opacity="0.95"/>
<circle cx="753.6" cy="1346.0" r="4.3" fill="#d57d33" stroke="#c9691c" stroke-width="0.6" fill-opacity="0.95"/>
<circle cx="759.6" cy="1346.0" r="4.3" fill="#d57d33" stroke="#c9691c" stroke-width="0.6" fill-opacity="0.95"/>
<circle cx="765.6" cy="1346.0" r="4.3" fill="#d57d33" stroke="#c9691c" stroke-width="0.6" fill-opacity="0.95"/>
<circle cx="771.6" cy="1346.0" r="4.3" fill="#d57d33" stroke="#c9691c" stroke-width="0.6" fill-opacity="0.95"/>
<circle cx="756.6" cy="1351.0" r="4.3" fill="#d57d33" stroke="#c9691c" stroke-width="0.6" fill-opacity="0.95"/>
<circle cx="762.6" cy="1351.0" r="4.3" fill="#d57d33" stroke="#c9691c" stroke-width="0.6" fill-opacity="0.95"/>
<circle cx="768.6" cy="1351.0" r="4.3" fill="#d57d33" stroke="#c9691c" stroke-width="0.6" fill-opacity="0.95"/>
<circle cx="756.6" cy="1357.7" r="4.3" fill="#d57d33" stroke="#c9691c" stroke-width="0.6" fill-opacity="0.95"/>
<circle cx="762.6" cy="1357.7" r="4.3" fill="#d57d33" stroke="#c9691c" stroke-width="0.6" fill-opacity="0.95"/>
<circle cx="768.6" cy="1357.7" r="4.3" fill="#d57d33" stroke="#c9691c" stroke-width="0.6" fill-opacity="0.95"/>
<circle cx="756.6" cy="1363.0" r="4.3" fill="#d57d33" stroke="#c9691c" stroke-width="0.6" fill-opacity="0.95"/>
<circle cx="762.6" cy="1363.0" r="4.3" fill="#d57d33" stroke="#c9691c" stroke-width="0.6" fill-opacity="0.95"/>
<circle cx="768.6" cy="1363.0" r="4.3" fill="#d57d33" stroke="#c9691c" stroke-width="0.6" fill-opacity="0.95"/>
<circle cx="759.6" cy="1368.0" r="4.3" fill="#d57d33" stroke="#c9691c" stroke-width="0.6" fill-opacity="0.95"/>
<circle cx="765.6" cy="1368.0" r="4.3" fill="#d57d33" stroke="#c9691c" stroke-width="0.6" fill-opacity="0.95"/>
<circle cx="756.6" cy="1374.0" r="4.3" fill="#d57d33" stroke="#c9691c" stroke-width="0.6" fill-opacity="0.95"/>
<circle cx="762.6" cy="1374.0" r="4.3" fill="#d57d33" stroke="#c9691c" stroke-width="0.6" fill-opacity="0.95"/>
<circle cx="768.6" cy="1374.0" r="4.3" fill="#d57d33" stroke="#c9691c" stroke-width="0.6" fill-opacity="0.95"/>
<circle cx="759.6" cy="1380.0" r="4.3" fill="#d57d33" stroke="#c9691c" stroke-width="0.6" fill-opacity="0.95"/>
<circle cx="765.6" cy="1380.0" r="4.3" fill="#d57d33" stroke="#c9691c" stroke-width="0.6" fill-opacity="0.95"/>
<circle cx="759.6" cy="1385.0" r="4.3" fill="#d57d33" stroke="#c9691c" stroke-width="0.6" fill-opacity="0.95"/>
<circle cx="765.6" cy="1385.0" r="4.3" fill="#d57d33" stroke="#c9691c" stroke-width="0.6" fill-opacity="0.95"/>
<circle cx="759.6" cy="1390.0" r="4.3" fill="#d57d33" stroke="#c9691c" stroke-width="0.6" fill-opacity="0.95"/>
<circle cx="765.6" cy="1390.0" r="4.3" fill="#d57d33" stroke="#c9691c" stroke-width="0.6" fill-opacity="0.95"/>
<circle cx="762.6" cy="1399.0" r="4.3" fill="#d57d33" stroke="#c9691c" stroke-width="0.6" fill-opacity="0.95"/>
<circle cx="762.6" cy="1405.5" r="4.3" fill="#d57d33" stroke="#c9691c" stroke-width="0.6" fill-opacity="0.95"/>
<circle cx="762.6" cy="1413.1" r="4.3" fill="#d57d33" stroke="#c9691c" stroke-width="0.6" fill-opacity="0.95"/>
<circle cx="762.6" cy="1420.8" r="4.3" fill="#d57d33" stroke="#c9691c" stroke-width="0.6" fill-opacity="0.95"/>
<circle cx="762.6" cy="1426.8" r="4.3" fill="#d57d33" stroke="#c9691c" stroke-width="0.6" fill-opacity="0.95"/>
<circle cx="762.6" cy="1438.7" r="4.3" fill="#d57d33" stroke="#c9691c" stroke-width="0.6" fill-opacity="0.95"/>
<circle cx="762.6" cy="1464.3" r="4.3" fill="#d57d33" stroke="#c9691c" stroke-width="0.6" fill-opacity="0.95"/>
<circle cx="762.6" cy="1477.1" r="4.3" fill="#d57d33" stroke="#c9691c" stroke-width="0.6" fill-opacity="0.95"/>
<line x1="666.7" y1="1301.0" x2="666.7" y2="1391.8" stroke="#000" stroke-width="3.3" />
<line x1="652.2" y1="1301.0" x2="681.2" y2="1301.0" stroke="#000" stroke-width="3.3" />
<line x1="652.2" y1="1391.8" x2="681.2" y2="1391.8" stroke="#000" stroke-width="3.3" />
<text x="666.7" y="1235.7" font-size="19.4" text-anchor="middle">104</text>
<line x1="762.6" y1="1303.9" x2="762.6" y2="1399.5" stroke="#000" stroke-width="3.3" />
<line x1="748.1" y1="1303.9" x2="777.1" y2="1303.9" stroke="#000" stroke-width="3.3" />
<line x1="748.1" y1="1399.5" x2="777.1" y2="1399.5" stroke="#000" stroke-width="3.3" />
<text x="762.6" y="1270.6" font-size="19.4" text-anchor="middle">93</text>
<line x1="605.8" y1="1558.6" x2="821.6" y2="1558.6" stroke="#000" stroke-width="3.6" />
<line x1="666.7" y1="1558.6" x2="666.7" y2="1564.8" stroke="#000" stroke-width="2.6" />
<text transform="translate(630.5,1633.7) rotate(-45)" font-size="21.7" text-anchor="middle">2x Inactivated</text>
<text transform="translate(651.3,1654.4) rotate(-45)" font-size="21.7" text-anchor="middle">-&gt; BA.1 infection</text>
<line x1="762.6" y1="1558.6" x2="762.6" y2="1564.8" stroke="#000" stroke-width="2.6" />
<text transform="translate(735.2,1633.7) rotate(-45)" font-size="21.7" text-anchor="middle">3x Inactivated</text>
<text transform="translate(756.0,1654.4) rotate(-45)" font-size="21.7" text-anchor="middle">-&gt; BA.1 infection</text>
<text x="705.3" y="987.0" font-size="21.3" text-anchor="middle">Omicron</text>
<line x1="662.2" y1="1059.5" x2="758.1" y2="1059.5" stroke="#000" stroke-width="2.6" />
<text x="710.2" y="1054.0" font-size="19.0" text-anchor="middle"><tspan font-style="italic">P</tspan> = 0.44</text>
<line x1="161.5" y1="1031.4" x2="161.5" y2="1560.1" stroke="#000" stroke-width="3.3" />
<line x1="155.2" y1="1558.6" x2="161.5" y2="1558.6" stroke="#000" stroke-width="2.5" />
<text x="142.0" y="1568.9" font-size="21" text-anchor="end">10</text>
<text x="142.6" y="1559.4" font-size="14.5">0</text>
<line x1="157.2" y1="1526.9" x2="161.5" y2="1526.9" stroke="#000" stroke-width="2.3" />
<line x1="157.2" y1="1508.4" x2="161.5" y2="1508.4" stroke="#000" stroke-width="2.3" />
<line x1="157.2" y1="1495.3" x2="161.5" y2="1495.3" stroke="#000" stroke-width="2.3" />
<line x1="157.2" y1="1485.1" x2="161.5" y2="1485.1" stroke="#000" stroke-width="2.3" />
<line x1="157.2" y1="1476.7" x2="161.5" y2="1476.7" stroke="#000" stroke-width="2.3" />
<line x1="157.2" y1="1469.7" x2="161.5" y2="1469.7" stroke="#000" stroke-width="2.3" />
<line x1="157.2" y1="1463.6" x2="161.5" y2="1463.6" stroke="#000" stroke-width="2.3" />
<line x1="157.2" y1="1458.2" x2="161.5" y2="1458.2" stroke="#000" stroke-width="2.3" />
<line x1="155.2" y1="1453.4" x2="161.5" y2="1453.4" stroke="#000" stroke-width="2.5" />
<text x="142.0" y="1463.7" font-size="21" text-anchor="end">10</text>
<text x="142.6" y="1454.2" font-size="14.5">1</text>
<line x1="157.2" y1="1421.7" x2="161.5" y2="1421.7" stroke="#000" stroke-width="2.3" />
<line x1="157.2" y1="1403.2" x2="161.5" y2="1403.2" stroke="#000" stroke-width="2.3" />
<line x1="157.2" y1="1390.1" x2="161.5" y2="1390.1" stroke="#000" stroke-width="2.3" />
<line x1="157.2" y1="1379.9" x2="161.5" y2="1379.9" stroke="#000" stroke-width="2.3" />
<line x1="157.2" y1="1371.5" x2="161.5" y2="1371.5" stroke="#000" stroke-width="2.3" />
<line x1="157.2" y1="1364.5" x2="161.5" y2="1364.5" stroke="#000" stroke-width="2.3" />
<line x1="157.2" y1="1358.4" x2="161.5" y2="1358.4" stroke="#000" stroke-width="2.3" />
<line x1="157.2" y1="1353.0" x2="161.5" y2="1353.0" stroke="#000" stroke-width="2.3" />
<line x1="155.2" y1="1348.2" x2="161.5" y2="1348.2" stroke="#000" stroke-width="2.5" />
<text x="142.0" y="1358.5" font-size="21" text-anchor="end">10</text>
<text x="142.6" y="1349.0" font-size="14.5">2</text>
<line x1="157.2" y1="1316.5" x2="161.5" y2="1316.5" stroke="#000" stroke-width="2.3" />
<line x1="157.2" y1="1298.0" x2="161.5" y2="1298.0" stroke="#000" stroke-width="2.3" />
<line x1="157.2" y1="1284.9" x2="161.5" y2="1284.9" stroke="#000" stroke-width="2.3" />
<line x1="157.2" y1="1274.7" x2="161.5" y2="1274.7" stroke="#000" stroke-width="2.3" />
<line x1="157.2" y1="1266.3" x2="161.5" y2="1266.3" stroke="#000" stroke-width="2.3" />
<line x1="157.2" y1="1259.3" x2="161.5" y2="1259.3" stroke="#000" stroke-width="2.3" />
<line x1="157.2" y1="1253.2" x2="161.5" y2="1253.2" stroke="#000" stroke-width="2.3" />
<line x1="157.2" y1="1247.8" x2="161.5" y2="1247.8" stroke="#000" stroke-width="2.3" />
<line x1="155.2" y1="1243.0" x2="161.5" y2="1243.0" stroke="#000" stroke-width="2.5" />
<text x="142.0" y="1253.3" font-size="21" text-anchor="end">10</text>
<text x="142.6" y="1243.8" font-size="14.5">3</text>
<line x1="157.2" y1="1211.3" x2="161.5" y2="1211.3" stroke="#000" stroke-width="2.3" />
<line x1="157.2" y1="1192.8" x2="161.5" y2="1192.8" stroke="#000" stroke-width="2.3" />
<line x1="157.2" y1="1179.7" x2="161.5" y2="1179.7" stroke="#000" stroke-width="2.3" />
<line x1="157.2" y1="1169.5" x2="161.5" y2="1169.5" stroke="#000" stroke-width="2.3" />
<line x1="157.2" y1="1161.1" x2="161.5" y2="1161.1" stroke="#000" stroke-width="2.3" />
<line x1="157.2" y1="1154.1" x2="161.5" y2="1154.1" stroke="#000" stroke-width="2.3" />
<line x1="157.2" y1="1148.0" x2="161.5" y2="1148.0" stroke="#000" stroke-width="2.3" />
<line x1="157.2" y1="1142.6" x2="161.5" y2="1142.6" stroke="#000" stroke-width="2.3" />
<line x1="155.2" y1="1137.8" x2="161.5" y2="1137.8" stroke="#000" stroke-width="2.5" />
<text x="142.0" y="1148.1" font-size="21" text-anchor="end">10</text>
<text x="142.6" y="1138.6" font-size="14.5">4</text>
<line x1="157.2" y1="1106.1" x2="161.5" y2="1106.1" stroke="#000" stroke-width="2.3" />
<line x1="157.2" y1="1087.6" x2="161.5" y2="1087.6" stroke="#000" stroke-width="2.3" />
<line x1="157.2" y1="1074.5" x2="161.5" y2="1074.5" stroke="#000" stroke-width="2.3" />
<line x1="157.2" y1="1064.3" x2="161.5" y2="1064.3" stroke="#000" stroke-width="2.3" />
<line x1="157.2" y1="1055.9" x2="161.5" y2="1055.9" stroke="#000" stroke-width="2.3" />
<line x1="157.2" y1="1048.9" x2="161.5" y2="1048.9" stroke="#000" stroke-width="2.3" />
<line x1="157.2" y1="1042.8" x2="161.5" y2="1042.8" stroke="#000" stroke-width="2.3" />
<line x1="157.2" y1="1037.4" x2="161.5" y2="1037.4" stroke="#000" stroke-width="2.3" />
<line x1="155.2" y1="1032.6" x2="161.5" y2="1032.6" stroke="#000" stroke-width="2.5" />
<text x="142.0" y="1042.9" font-size="21" text-anchor="end">10</text>
<text x="142.6" y="1033.4" font-size="14.5">5</text>
<text x="826.5" y="939.8" font-size="36" font-weight="bold">e</text>
<text x="837.0" y="988.8" font-size="24.3">strain</text>
<rect x="838.1" y="1005.2" width="24.6" height="23.8" fill="#f9ebe8" stroke="#000" stroke-width="3.3"/>
<circle cx="850.5" cy="1017.1" r="4.5" fill="#ae3f2d"/>
<text x="876.2" y="1025.0" font-size="20.9">WT</text>
<rect x="838.1" y="1032.2" width="24.6" height="23.8" fill="#eef1fa" stroke="#000" stroke-width="3.3"/>
<circle cx="850.5" cy="1044.1" r="4.5" fill="#3173af"/>
<text x="876.2" y="1052.0" font-size="20.9">Beta</text>
<rect x="838.1" y="1059.2" width="24.6" height="23.8" fill="#fdf4eb" stroke="#000" stroke-width="3.3"/>
<circle cx="850.5" cy="1071.1" r="4.5" fill="#d57d33"/>
<text x="876.2" y="1079.0" font-size="20.9">Omicron</text>
<text transform="translate(883.3,1503.4) rotate(-90)" font-size="24.2">NT<tspan font-size="16.3" dy="6">50</tspan><tspan dy="-6">(Reciprocal plasma dilution)</tspan></text>
<rect x="1009.5" y="1259.6" width="32.0" height="299.0" fill="#f9ebe8" stroke="#000" stroke-width="3.6"/>
<rect x="1075.5" y="1250.2" width="32.0" height="308.4" fill="#f9ebe8" stroke="#000" stroke-width="3.6"/>
<rect x="1141.7" y="1232.2" width="32.0" height="326.4" fill="#f9ebe8" stroke="#000" stroke-width="3.6"/>
<line x1="984.5" y1="1495.3" x2="1183.3" y2="1495.3" stroke="#000" stroke-width="3.4" stroke-dasharray="13.3 13.2"/>
<circle cx="1025.5" cy="1110.7" r="4.3" fill="#ae3f2d" stroke="#a92a1a" stroke-width="0.6" fill-opacity="0.95"/>
<circle cx="1025.5" cy="1116.3" r="4.3" fill="#ae3f2d" stroke="#a92a1a" stroke-width="0.6" fill-opacity="0.95"/>
<circle cx="1025.5" cy="1132.9" r="4.3" fill="#ae3f2d" stroke="#a92a1a" stroke-width="0.6" fill-opacity="0.95"/>
<circle cx="1025.5" cy="1147.8" r="4.3" fill="#ae3f2d" stroke="#a92a1a" stroke-width="0.6" fill-opacity="0.95"/>
<circle cx="1022.5" cy="1169.1" r="4.3" fill="#ae3f2d" stroke="#a92a1a" stroke-width="0.6" fill-opacity="0.95"/>
<circle cx="1028.5" cy="1169.1" r="4.3" fill="#ae3f2d" stroke="#a92a1a" stroke-width="0.6" fill-opacity="0.95"/>
<circle cx="1025.5" cy="1184.5" r="4.3" fill="#ae3f2d" stroke="#a92a1a" stroke-width="0.6" fill-opacity="0.95"/>
<circle cx="1025.5" cy="1200.6" r="4.3" fill="#ae3f2d" stroke="#a92a1a" stroke-width="0.6" fill-opacity="0.95"/>
<circle cx="1025.5" cy="1210.8" r="4.3" fill="#ae3f2d" stroke="#a92a1a" stroke-width="0.6" fill-opacity="0.95"/>
<circle cx="1019.5" cy="1223.9" r="4.3" fill="#ae3f2d" stroke="#a92a1a" stroke-width="0.6" fill-opacity="0.95"/>
<circle cx="1025.5" cy="1223.9" r="4.3" fill="#ae3f2d" stroke="#a92a1a" stroke-width="0.6" fill-opacity="0.95"/>
<circle cx="1031.5" cy="1223.9" r="4.3" fill="#ae3f2d" stroke="#a92a1a" stroke-width="0.6" fill-opacity="0.95"/>
<circle cx="1019.5" cy="1231.8" r="4.3" fill="#ae3f2d" stroke="#a92a1a" stroke-width="0.6" fill-opacity="0.95"/>
<circle cx="1025.5" cy="1231.8" r="4.3" fill="#ae3f2d" stroke="#a92a1a" stroke-width="0.6" fill-opacity="0.95"/>
<circle cx="1031.5" cy="1231.8" r="4.3" fill="#ae3f2d" stroke="#a92a1a" stroke-width="0.6" fill-opacity="0.95"/>
<circle cx="1025.5" cy="1242.3" r="4.3" fill="#ae3f2d" stroke="#a92a1a" stroke-width="0.6" fill-opacity="0.95"/>
<circle cx="1025.5" cy="1248.4" r="4.3" fill="#ae3f2d" stroke="#a92a1a" stroke-width="0.6" fill-opacity="0.95"/>
<circle cx="1019.5" cy="1255.4" r="4.3" fill="#ae3f2d" stroke="#a92a1a" stroke-width="0.6" fill-opacity="0.95"/>
<circle cx="1025.5" cy="1255.4" r="4.3" fill="#ae3f2d" stroke="#a92a1a" stroke-width="0.6" fill-opacity="0.95"/>
<circle cx="1031.5" cy="1255.4" r="4.3" fill="#ae3f2d" stroke="#a92a1a" stroke-width="0.6" fill-opacity="0.95"/>
<circle cx="1025.5" cy="1263.3" r="4.3" fill="#ae3f2d" stroke="#a92a1a" stroke-width="0.6" fill-opacity="0.95"/>
<circle cx="1025.5" cy="1268.5" r="4.3" fill="#ae3f2d" stroke="#a92a1a" stroke-width="0.6" fill-opacity="0.95"/>
<circle cx="1025.5" cy="1273.8" r="4.3" fill="#ae3f2d" stroke="#a92a1a" stroke-width="0.6" fill-opacity="0.95"/>
<circle cx="1025.5" cy="1279.9" r="4.3" fill="#ae3f2d" stroke="#a92a1a" stroke-width="0.6" fill-opacity="0.95"/>
<circle cx="1025.5" cy="1287.8" r="4.3" fill="#ae3f2d" stroke="#a92a1a" stroke-width="0.6" fill-opacity="0.95"/>
<circle cx="1025.5" cy="1295.6" r="4.3" fill="#ae3f2d" stroke="#a92a1a" stroke-width="0.6" fill-opacity="0.95"/>
<circle cx="1022.5" cy="1306.1" r="4.3" fill="#ae3f2d" stroke="#a92a1a" stroke-width="0.6" fill-opacity="0.95"/>
<circle cx="1028.5" cy="1306.1" r="4.3" fill="#ae3f2d" stroke="#a92a1a" stroke-width="0.6" fill-opacity="0.95"/>
<circle cx="1019.5" cy="1312.3" r="4.3" fill="#ae3f2d" stroke="#a92a1a" stroke-width="0.6" fill-opacity="0.95"/>
<circle cx="1025.5" cy="1312.3" r="4.3" fill="#ae3f2d" stroke="#a92a1a" stroke-width="0.6" fill-opacity="0.95"/>
<circle cx="1031.5" cy="1312.3" r="4.3" fill="#ae3f2d" stroke="#a92a1a" stroke-width="0.6" fill-opacity="0.95"/>
<circle cx="1025.5" cy="1318.4" r="4.3" fill="#ae3f2d" stroke="#a92a1a" stroke-width="0.6" fill-opacity="0.95"/>
<circle cx="1025.5" cy="1328.0" r="4.3" fill="#ae3f2d" stroke="#a92a1a" stroke-width="0.6" fill-opacity="0.95"/>
<circle cx="1025.5" cy="1332.4" r="4.3" fill="#ae3f2d" stroke="#a92a1a" stroke-width="0.6" fill-opacity="0.95"/>
<circle cx="1025.5" cy="1391.0" r="4.3" fill="#ae3f2d" stroke="#a92a1a" stroke-width="0.6" fill-opacity="0.95"/>
<circle cx="1022.5" cy="1422.5" r="4.3" fill="#ae3f2d" stroke="#a92a1a" stroke-width="0.6" fill-opacity="0.95"/>
<circle cx="1028.5" cy="1422.5" r="4.3" fill="#ae3f2d" stroke="#a92a1a" stroke-width="0.6" fill-opacity="0.95"/>
<circle cx="1025.5" cy="1477.6" r="4.3" fill="#ae3f2d" stroke="#a92a1a" stroke-width="0.6" fill-opacity="0.95"/>
<circle cx="1091.5" cy="1110.7" r="4.3" fill="#ae3f2d" stroke="#a92a1a" stroke-width="0.6" fill-opacity="0.95"/>
<circle cx="1091.5" cy="1137.3" r="4.3" fill="#ae3f2d" stroke="#a92a1a" stroke-width="0.6" fill-opacity="0.95"/>
<circle cx="1091.5" cy="1153.9" r="4.3" fill="#ae3f2d" stroke="#a92a1a" stroke-width="0.6" fill-opacity="0.95"/>
<circle cx="1091.5" cy="1160.9" r="4.3" fill="#ae3f2d" stroke="#a92a1a" stroke-width="0.6" fill-opacity="0.95"/>
<circle cx="1088.5" cy="1179.3" r="4.3" fill="#ae3f2d" stroke="#a92a1a" stroke-width="0.6" fill-opacity="0.95"/>
<circle cx="1094.5" cy="1179.3" r="4.3" fill="#ae3f2d" stroke="#a92a1a" stroke-width="0.6" fill-opacity="0.95"/>
<circle cx="1088.5" cy="1185.4" r="4.3" fill="#ae3f2d" stroke="#a92a1a" stroke-width="0.6" fill-opacity="0.95"/>
<circle cx="1094.5" cy="1185.4" r="4.3" fill="#ae3f2d" stroke="#a92a1a" stroke-width="0.6" fill-opacity="0.95"/>
<circle cx="1088.5" cy="1195.0" r="4.3" fill="#ae3f2d" stroke="#a92a1a" stroke-width="0.6" fill-opacity="0.95"/>
<circle cx="1094.5" cy="1195.0" r="4.3" fill="#ae3f2d" stroke="#a92a1a" stroke-width="0.6" fill-opacity="0.95"/>
<circle cx="1088.5" cy="1201.1" r="4.3" fill="#ae3f2d" stroke="#a92a1a" stroke-width="0.6" fill-opacity="0.95"/>
<circle cx="1094.5" cy="1201.1" r="4.3" fill="#ae3f2d" stroke="#a92a1a" stroke-width="0.6" fill-opacity="0.95"/>
<circle cx="1091.5" cy="1209.0" r="4.3" fill="#ae3f2d" stroke="#a92a1a" stroke-width="0.6" fill-opacity="0.95"/>
<circle cx="1088.5" cy="1216.9" r="4.3" fill="#ae3f2d" stroke="#a92a1a" stroke-width="0.6" fill-opacity="0.95"/>
<circle cx="1094.5" cy="1216.9" r="4.3" fill="#ae3f2d" stroke="#a92a1a" stroke-width="0.6" fill-opacity="0.95"/>
<circle cx="1085.5" cy="1223.9" r="4.3" fill="#ae3f2d" stroke="#a92a1a" stroke-width="0.6" fill-opacity="0.95"/>
<circle cx="1091.5" cy="1223.9" r="4.3" fill="#ae3f2d" stroke="#a92a1a" stroke-width="0.6" fill-opacity="0.95"/>
<circle cx="1097.5" cy="1223.9" r="4.3" fill="#ae3f2d" stroke="#a92a1a" stroke-width="0.6" fill-opacity="0.95"/>
<circle cx="1085.5" cy="1231.8" r="4.3" fill="#ae3f2d" stroke="#a92a1a" stroke-width="0.6" fill-opacity="0.95"/>
<circle cx="1091.5" cy="1231.8" r="4.3" fill="#ae3f2d" stroke="#a92a1a" stroke-width="0.6" fill-opacity="0.95"/>
<circle cx="1097.5" cy="1231.8" r="4.3" fill="#ae3f2d" stroke="#a92a1a" stroke-width="0.6" fill-opacity="0.95"/>
<circle cx="1088.5" cy="1242.3" r="4.3" fill="#ae3f2d" stroke="#a92a1a" stroke-width="0.6" fill-opacity="0.95"/>
<circle cx="1094.5" cy="1242.3" r="4.3" fill="#ae3f2d" stroke="#a92a1a" stroke-width="0.6" fill-opacity="0.95"/>
<circle cx="1085.5" cy="1248.4" r="4.3" fill="#ae3f2d" stroke="#a92a1a" stroke-width="0.6" fill-opacity="0.95"/>
<circle cx="1091.5" cy="1248.4" r="4.3" fill="#ae3f2d" stroke="#a92a1a" stroke-width="0.6" fill-opacity="0.95"/>
<circle cx="1097.5" cy="1248.4" r="4.3" fill="#ae3f2d" stroke="#a92a1a" stroke-width="0.6" fill-opacity="0.95"/>
<circle cx="1082.5" cy="1255.4" r="4.3" fill="#ae3f2d" stroke="#a92a1a" stroke-width="0.6" fill-opacity="0.95"/>
<circle cx="1088.5" cy="1255.4" r="4.3" fill="#ae3f2d" stroke="#a92a1a" stroke-width="0.6" fill-opacity="0.95"/>
<circle cx="1094.5" cy="1255.4" r="4.3" fill="#ae3f2d" stroke="#a92a1a" stroke-width="0.6" fill-opacity="0.95"/>
<circle cx="1100.5" cy="1255.4" r="4.3" fill="#ae3f2d" stroke="#a92a1a" stroke-width="0.6" fill-opacity="0.95"/>
<circle cx="1091.5" cy="1263.3" r="4.3" fill="#ae3f2d" stroke="#a92a1a" stroke-width="0.6" fill-opacity="0.95"/>
<circle cx="1088.5" cy="1272.0" r="4.3" fill="#ae3f2d" stroke="#a92a1a" stroke-width="0.6" fill-opacity="0.95"/>
<circle cx="1094.5" cy="1272.0" r="4.3" fill="#ae3f2d" stroke="#a92a1a" stroke-width="0.6" fill-opacity="0.95"/>
<circle cx="1082.5" cy="1279.9" r="4.3" fill="#ae3f2d" stroke="#a92a1a" stroke-width="0.6" fill-opacity="0.95"/>
<circle cx="1088.5" cy="1279.9" r="4.3" fill="#ae3f2d" stroke="#a92a1a" stroke-width="0.6" fill-opacity="0.95"/>
<circle cx="1094.5" cy="1279.9" r="4.3" fill="#ae3f2d" stroke="#a92a1a" stroke-width="0.6" fill-opacity="0.95"/>
<circle cx="1100.5" cy="1279.9" r="4.3" fill="#ae3f2d" stroke="#a92a1a" stroke-width="0.6" fill-opacity="0.95"/>
<circle cx="1091.5" cy="1286.9" r="4.3" fill="#ae3f2d" stroke="#a92a1a" stroke-width="0.6" fill-opacity="0.95"/>
<circle cx="1091.5" cy="1295.6" r="4.3" fill="#ae3f2d" stroke="#a92a1a" stroke-width="0.6" fill-opacity="0.95"/>
<circle cx="1091.5" cy="1310.5" r="4.3" fill="#ae3f2d" stroke="#a92a1a" stroke-width="0.6" fill-opacity="0.95"/>
<circle cx="1091.5" cy="1318.4" r="4.3" fill="#ae3f2d" stroke="#a92a1a" stroke-width="0.6" fill-opacity="0.95"/>
<circle cx="1091.5" cy="1327.1" r="4.3" fill="#ae3f2d" stroke="#a92a1a" stroke-width="0.6" fill-opacity="0.95"/>
<circle cx="1091.5" cy="1350.8" r="4.3" fill="#ae3f2d" stroke="#a92a1a" stroke-width="0.6" fill-opacity="0.95"/>
<circle cx="1091.5" cy="1363.9" r="4.3" fill="#ae3f2d" stroke="#a92a1a" stroke-width="0.6" fill-opacity="0.95"/>
<circle cx="1091.5" cy="1400.6" r="4.3" fill="#ae3f2d" stroke="#a92a1a" stroke-width="0.6" fill-opacity="0.95"/>
<circle cx="1091.5" cy="1432.1" r="4.3" fill="#ae3f2d" stroke="#a92a1a" stroke-width="0.6" fill-opacity="0.95"/>
<circle cx="1157.7" cy="1129.4" r="4.3" fill="#ae3f2d" stroke="#a92a1a" stroke-width="0.6" fill-opacity="0.95"/>
<circle cx="1157.7" cy="1147.8" r="4.3" fill="#ae3f2d" stroke="#a92a1a" stroke-width="0.6" fill-opacity="0.95"/>
<circle cx="1157.7" cy="1153.9" r="4.3" fill="#ae3f2d" stroke="#a92a1a" stroke-width="0.6" fill-opacity="0.95"/>
<circle cx="1157.7" cy="1192.4" r="4.3" fill="#ae3f2d" stroke="#a92a1a" stroke-width="0.6" fill-opacity="0.95"/>
<circle cx="1154.7" cy="1200.6" r="4.3" fill="#ae3f2d" stroke="#a92a1a" stroke-width="0.6" fill-opacity="0.95"/>
<circle cx="1160.7" cy="1200.6" r="4.3" fill="#ae3f2d" stroke="#a92a1a" stroke-width="0.6" fill-opacity="0.95"/>
<circle cx="1157.7" cy="1217.8" r="4.3" fill="#ae3f2d" stroke="#a92a1a" stroke-width="0.6" fill-opacity="0.95"/>
<circle cx="1157.7" cy="1223.9" r="4.3" fill="#ae3f2d" stroke="#a92a1a" stroke-width="0.6" fill-opacity="0.95"/>
<circle cx="1157.7" cy="1242.3" r="4.3" fill="#ae3f2d" stroke="#a92a1a" stroke-width="0.6" fill-opacity="0.95"/>
<circle cx="1154.7" cy="1248.4" r="4.3" fill="#ae3f2d" stroke="#a92a1a" stroke-width="0.6" fill-opacity="0.95"/>
<circle cx="1160.7" cy="1248.4" r="4.3" fill="#ae3f2d" stroke="#a92a1a" stroke-width="0.6" fill-opacity="0.95"/>
<circle cx="1157.7" cy="1274.6" r="4.3" fill="#ae3f2d" stroke="#a92a1a" stroke-width="0.6" fill-opacity="0.95"/>
<circle cx="1157.7" cy="1341.1" r="4.3" fill="#ae3f2d" stroke="#a92a1a" stroke-width="0.6" fill-opacity="0.95"/>
<circle cx="1157.7" cy="1382.3" r="4.3" fill="#ae3f2d" stroke="#a92a1a" stroke-width="0.6" fill-opacity="0.95"/>
<line x1="1025.5" y1="1188.9" x2="1025.5" y2="1332.0" stroke="#000" stroke-width="3.3" />
<line x1="1015.5" y1="1188.9" x2="1035.5" y2="1188.9" stroke="#000" stroke-width="3.3" />
<line x1="1015.5" y1="1332.0" x2="1035.5" y2="1332.0" stroke="#000" stroke-width="3.3" />
<text x="1025.5" y="1098.8" font-size="19.4" text-anchor="middle">696</text>
<line x1="1091.5" y1="1194.5" x2="1091.5" y2="1307.4" stroke="#000" stroke-width="3.3" />
<line x1="1081.5" y1="1194.5" x2="1101.5" y2="1194.5" stroke="#000" stroke-width="3.3" />
<line x1="1081.5" y1="1307.4" x2="1101.5" y2="1307.4" stroke="#000" stroke-width="3.3" />
<text x="1091.5" y="1102.9" font-size="19.4" text-anchor="middle">854</text>
<line x1="1157.7" y1="1166.5" x2="1157.7" y2="1299.1" stroke="#000" stroke-width="3.3" />
<line x1="1147.7" y1="1166.5" x2="1167.7" y2="1166.5" stroke="#000" stroke-width="3.3" />
<line x1="1147.7" y1="1299.1" x2="1167.7" y2="1299.1" stroke="#000" stroke-width="3.3" />
<text x="1157.7" y="1114.7" font-size="19.4" text-anchor="middle">1268</text>
<line x1="984.5" y1="1558.6" x2="1198.4" y2="1558.6" stroke="#000" stroke-width="3.6" />
<line x1="1025.5" y1="1558.6" x2="1025.5" y2="1564.8" stroke="#000" stroke-width="2.6" />
<text transform="translate(988.9,1613.5) rotate(-45)" font-size="18.3" text-anchor="middle">BBIBP -&gt;</text>
<text transform="translate(1005.8,1630.5) rotate(-45)" font-size="18.3" text-anchor="middle">BA.1 infection</text>
<line x1="1091.5" y1="1558.6" x2="1091.5" y2="1564.8" stroke="#000" stroke-width="2.6" />
<text transform="translate(1060.7,1613.5) rotate(-45)" font-size="18.3" text-anchor="middle">CoronaVac -&gt;</text>
<text transform="translate(1077.6,1630.5) rotate(-45)" font-size="18.3" text-anchor="middle">BA.1 infection</text>
<line x1="1157.7" y1="1558.6" x2="1157.7" y2="1564.8" stroke="#000" stroke-width="2.6" />
<text transform="translate(1134.4,1613.5) rotate(-45)" font-size="18.3" text-anchor="middle">Ad5-nCoV -&gt;</text>
<text transform="translate(1151.3,1630.5) rotate(-45)" font-size="18.3" text-anchor="middle">BA.1 infection</text>
<text x="1084.6" y="978.7" font-size="21.3" text-anchor="middle">WT</text>
<line x1="1027.6" y1="1024.0" x2="1158.1" y2="1024.0" stroke="#000" stroke-width="2.6" />
<text x="1092.8" y="1019.3" font-size="19.0" text-anchor="middle"><tspan font-style="italic">P</tspan> = 0.12</text>
<line x1="1092.3" y1="1048.9" x2="1158.0" y2="1048.9" stroke="#000" stroke-width="2.6" />
<text x="1125.2" y="1045.3" font-size="19.0" text-anchor="middle"><tspan font-style="italic">P</tspan> = 0.16</text>
<line x1="1027.6" y1="1073.3" x2="1094.2" y2="1073.3" stroke="#000" stroke-width="2.6" />
<text x="1060.9" y="1068.6" font-size="19.0" text-anchor="middle"><tspan font-style="italic">P</tspan> = 0.42</text>
<rect x="1233.5" y="1325.6" width="32.0" height="233.0" fill="#eef1fa" stroke="#000" stroke-width="3.6"/>
<rect x="1299.3" y="1310.7" width="32.0" height="247.9" fill="#eef1fa" stroke="#000" stroke-width="3.6"/>
<rect x="1365.3" y="1301.5" width="32.0" height="257.1" fill="#eef1fa" stroke="#000" stroke-width="3.6"/>
<line x1="1208.8" y1="1495.3" x2="1407.6" y2="1495.3" stroke="#000" stroke-width="3.4" stroke-dasharray="13.3 13.2"/>
<circle cx="1249.5" cy="1137.5" r="4.3" fill="#3173af" stroke="#1f62a3" stroke-width="0.6" fill-opacity="0.95"/>
<circle cx="1249.5" cy="1179.5" r="4.3" fill="#3173af" stroke="#1f62a3" stroke-width="0.6" fill-opacity="0.95"/>
<circle cx="1249.5" cy="1192.6" r="4.3" fill="#3173af" stroke="#1f62a3" stroke-width="0.6" fill-opacity="0.95"/>
<circle cx="1249.5" cy="1217.1" r="4.3" fill="#3173af" stroke="#1f62a3" stroke-width="0.6" fill-opacity="0.95"/>
<circle cx="1249.5" cy="1242.5" r="4.3" fill="#3173af" stroke="#1f62a3" stroke-width="0.6" fill-opacity="0.95"/>
<circle cx="1249.5" cy="1248.6" r="4.3" fill="#3173af" stroke="#1f62a3" stroke-width="0.6" fill-opacity="0.95"/>
<circle cx="1249.5" cy="1254.8" r="4.3" fill="#3173af" stroke="#1f62a3" stroke-width="0.6" fill-opacity="0.95"/>
<circle cx="1249.5" cy="1268.8" r="4.3" fill="#3173af" stroke="#1f62a3" stroke-width="0.6" fill-opacity="0.95"/>
<circle cx="1246.5" cy="1280.1" r="4.3" fill="#3173af" stroke="#1f62a3" stroke-width="0.6" fill-opacity="0.95"/>
<circle cx="1252.5" cy="1280.1" r="4.3" fill="#3173af" stroke="#1f62a3" stroke-width="0.6" fill-opacity="0.95"/>
<circle cx="1243.5" cy="1295.0" r="4.3" fill="#3173af" stroke="#1f62a3" stroke-width="0.6" fill-opacity="0.95"/>
<circle cx="1249.5" cy="1295.0" r="4.3" fill="#3173af" stroke="#1f62a3" stroke-width="0.6" fill-opacity="0.95"/>
<circle cx="1255.5" cy="1295.0" r="4.3" fill="#3173af" stroke="#1f62a3" stroke-width="0.6" fill-opacity="0.95"/>
<circle cx="1249.5" cy="1302.0" r="4.3" fill="#3173af" stroke="#1f62a3" stroke-width="0.6" fill-opacity="0.95"/>
<circle cx="1249.5" cy="1307.3" r="4.3" fill="#3173af" stroke="#1f62a3" stroke-width="0.6" fill-opacity="0.95"/>
<circle cx="1243.5" cy="1318.6" r="4.3" fill="#3173af" stroke="#1f62a3" stroke-width="0.6" fill-opacity="0.95"/>
<circle cx="1249.5" cy="1318.6" r="4.3" fill="#3173af" stroke="#1f62a3" stroke-width="0.6" fill-opacity="0.95"/>
<circle cx="1255.5" cy="1318.6" r="4.3" fill="#3173af" stroke="#1f62a3" stroke-width="0.6" fill-opacity="0.95"/>
<circle cx="1249.5" cy="1327.4" r="4.3" fill="#3173af" stroke="#1f62a3" stroke-width="0.6" fill-opacity="0.95"/>
<circle cx="1243.5" cy="1337.9" r="4.3" fill="#3173af" stroke="#1f62a3" stroke-width="0.6" fill-opacity="0.95"/>
<circle cx="1249.5" cy="1337.9" r="4.3" fill="#3173af" stroke="#1f62a3" stroke-width="0.6" fill-opacity="0.95"/>
<circle cx="1255.5" cy="1337.9" r="4.3" fill="#3173af" stroke="#1f62a3" stroke-width="0.6" fill-opacity="0.95"/>
<circle cx="1249.5" cy="1345.8" r="4.3" fill="#3173af" stroke="#1f62a3" stroke-width="0.6" fill-opacity="0.95"/>
<circle cx="1249.5" cy="1351.0" r="4.3" fill="#3173af" stroke="#1f62a3" stroke-width="0.6" fill-opacity="0.95"/>
<circle cx="1249.5" cy="1358.9" r="4.3" fill="#3173af" stroke="#1f62a3" stroke-width="0.6" fill-opacity="0.95"/>
<circle cx="1249.5" cy="1368.5" r="4.3" fill="#3173af" stroke="#1f62a3" stroke-width="0.6" fill-opacity="0.95"/>
<circle cx="1249.5" cy="1375.5" r="4.3" fill="#3173af" stroke="#1f62a3" stroke-width="0.6" fill-opacity="0.95"/>
<circle cx="1246.5" cy="1382.5" r="4.3" fill="#3173af" stroke="#1f62a3" stroke-width="0.6" fill-opacity="0.95"/>
<circle cx="1252.5" cy="1382.5" r="4.3" fill="#3173af" stroke="#1f62a3" stroke-width="0.6" fill-opacity="0.95"/>
<circle cx="1249.5" cy="1389.5" r="4.3" fill="#3173af" stroke="#1f62a3" stroke-width="0.6" fill-opacity="0.95"/>
<circle cx="1249.5" cy="1400.9" r="4.3" fill="#3173af" stroke="#1f62a3" stroke-width="0.6" fill-opacity="0.95"/>
<circle cx="1246.5" cy="1414.0" r="4.3" fill="#3173af" stroke="#1f62a3" stroke-width="0.6" fill-opacity="0.95"/>
<circle cx="1252.5" cy="1414.0" r="4.3" fill="#3173af" stroke="#1f62a3" stroke-width="0.6" fill-opacity="0.95"/>
<circle cx="1249.5" cy="1438.5" r="4.3" fill="#3173af" stroke="#1f62a3" stroke-width="0.6" fill-opacity="0.95"/>
<circle cx="1249.5" cy="1445.5" r="4.3" fill="#3173af" stroke="#1f62a3" stroke-width="0.6" fill-opacity="0.95"/>
<circle cx="1249.5" cy="1470.0" r="4.3" fill="#3173af" stroke="#1f62a3" stroke-width="0.6" fill-opacity="0.95"/>
<circle cx="1249.5" cy="1477.0" r="4.3" fill="#3173af" stroke="#1f62a3" stroke-width="0.6" fill-opacity="0.95"/>
<circle cx="1315.3" cy="1210.7" r="4.3" fill="#3173af" stroke="#1f62a3" stroke-width="0.6" fill-opacity="0.95"/>
<circle cx="1312.3" cy="1224.1" r="4.3" fill="#3173af" stroke="#1f62a3" stroke-width="0.6" fill-opacity="0.95"/>
<circle cx="1318.3" cy="1224.1" r="4.3" fill="#3173af" stroke="#1f62a3" stroke-width="0.6" fill-opacity="0.95"/>
<circle cx="1315.3" cy="1236.9" r="4.3" fill="#3173af" stroke="#1f62a3" stroke-width="0.6" fill-opacity="0.95"/>
<circle cx="1315.3" cy="1248.6" r="4.3" fill="#3173af" stroke="#1f62a3" stroke-width="0.6" fill-opacity="0.95"/>
<circle cx="1315.3" cy="1255.6" r="4.3" fill="#3173af" stroke="#1f62a3" stroke-width="0.6" fill-opacity="0.95"/>
<circle cx="1315.3" cy="1263.5" r="4.3" fill="#3173af" stroke="#1f62a3" stroke-width="0.6" fill-opacity="0.95"/>
<circle cx="1309.3" cy="1274.0" r="4.3" fill="#3173af" stroke="#1f62a3" stroke-width="0.6" fill-opacity="0.95"/>
<circle cx="1315.3" cy="1274.0" r="4.3" fill="#3173af" stroke="#1f62a3" stroke-width="0.6" fill-opacity="0.95"/>
<circle cx="1321.3" cy="1274.0" r="4.3" fill="#3173af" stroke="#1f62a3" stroke-width="0.6" fill-opacity="0.95"/>
<circle cx="1315.3" cy="1281.0" r="4.3" fill="#3173af" stroke="#1f62a3" stroke-width="0.6" fill-opacity="0.95"/>
<circle cx="1315.3" cy="1287.1" r="4.3" fill="#3173af" stroke="#1f62a3" stroke-width="0.6" fill-opacity="0.95"/>
<circle cx="1309.3" cy="1295.0" r="4.3" fill="#3173af" stroke="#1f62a3" stroke-width="0.6" fill-opacity="0.95"/>
<circle cx="1315.3" cy="1295.0" r="4.3" fill="#3173af" stroke="#1f62a3" stroke-width="0.6" fill-opacity="0.95"/>
<circle cx="1321.3" cy="1295.0" r="4.3" fill="#3173af" stroke="#1f62a3" stroke-width="0.6" fill-opacity="0.95"/>
<circle cx="1315.3" cy="1302.0" r="4.3" fill="#3173af" stroke="#1f62a3" stroke-width="0.6" fill-opacity="0.95"/>
<circle cx="1315.3" cy="1306.4" r="4.3" fill="#3173af" stroke="#1f62a3" stroke-width="0.6" fill-opacity="0.95"/>
<circle cx="1309.3" cy="1311.6" r="4.3" fill="#3173af" stroke="#1f62a3" stroke-width="0.6" fill-opacity="0.95"/>
<circle cx="1315.3" cy="1311.6" r="4.3" fill="#3173af" stroke="#1f62a3" stroke-width="0.6" fill-opacity="0.95"/>
<circle cx="1321.3" cy="1311.6" r="4.3" fill="#3173af" stroke="#1f62a3" stroke-width="0.6" fill-opacity="0.95"/>
<circle cx="1315.3" cy="1319.5" r="4.3" fill="#3173af" stroke="#1f62a3" stroke-width="0.6" fill-opacity="0.95"/>
<circle cx="1315.3" cy="1327.4" r="4.3" fill="#3173af" stroke="#1f62a3" stroke-width="0.6" fill-opacity="0.95"/>
<circle cx="1315.3" cy="1337.9" r="4.3" fill="#3173af" stroke="#1f62a3" stroke-width="0.6" fill-opacity="0.95"/>
<circle cx="1315.3" cy="1344.0" r="4.3" fill="#3173af" stroke="#1f62a3" stroke-width="0.6" fill-opacity="0.95"/>
<circle cx="1315.3" cy="1351.0" r="4.3" fill="#3173af" stroke="#1f62a3" stroke-width="0.6" fill-opacity="0.95"/>
<circle cx="1315.3" cy="1358.0" r="4.3" fill="#3173af" stroke="#1f62a3" stroke-width="0.6" fill-opacity="0.95"/>
<circle cx="1312.3" cy="1375.5" r="4.3" fill="#3173af" stroke="#1f62a3" stroke-width="0.6" fill-opacity="0.95"/>
<circle cx="1318.3" cy="1375.5" r="4.3" fill="#3173af" stroke="#1f62a3" stroke-width="0.6" fill-opacity="0.95"/>
<circle cx="1315.3" cy="1390.4" r="4.3" fill="#3173af" stroke="#1f62a3" stroke-width="0.6" fill-opacity="0.95"/>
<circle cx="1315.3" cy="1407.0" r="4.3" fill="#3173af" stroke="#1f62a3" stroke-width="0.6" fill-opacity="0.95"/>
<circle cx="1315.3" cy="1414.0" r="4.3" fill="#3173af" stroke="#1f62a3" stroke-width="0.6" fill-opacity="0.95"/>
<circle cx="1315.3" cy="1421.9" r="4.3" fill="#3173af" stroke="#1f62a3" stroke-width="0.6" fill-opacity="0.95"/>
<circle cx="1315.3" cy="1432.4" r="4.3" fill="#3173af" stroke="#1f62a3" stroke-width="0.6" fill-opacity="0.95"/>
<circle cx="1315.3" cy="1477.0" r="4.3" fill="#3173af" stroke="#1f62a3" stroke-width="0.6" fill-opacity="0.95"/>
<circle cx="1381.3" cy="1161.1" r="4.3" fill="#3173af" stroke="#1f62a3" stroke-width="0.6" fill-opacity="0.95"/>
<circle cx="1381.3" cy="1242.5" r="4.3" fill="#3173af" stroke="#1f62a3" stroke-width="0.6" fill-opacity="0.95"/>
<circle cx="1381.3" cy="1248.6" r="4.3" fill="#3173af" stroke="#1f62a3" stroke-width="0.6" fill-opacity="0.95"/>
<circle cx="1381.3" cy="1255.6" r="4.3" fill="#3173af" stroke="#1f62a3" stroke-width="0.6" fill-opacity="0.95"/>
<circle cx="1381.3" cy="1263.5" r="4.3" fill="#3173af" stroke="#1f62a3" stroke-width="0.6" fill-opacity="0.95"/>
<circle cx="1381.3" cy="1268.8" r="4.3" fill="#3173af" stroke="#1f62a3" stroke-width="0.6" fill-opacity="0.95"/>
<circle cx="1381.3" cy="1280.1" r="4.3" fill="#3173af" stroke="#1f62a3" stroke-width="0.6" fill-opacity="0.95"/>
<circle cx="1381.3" cy="1295.0" r="4.3" fill="#3173af" stroke="#1f62a3" stroke-width="0.6" fill-opacity="0.95"/>
<circle cx="1381.3" cy="1311.6" r="4.3" fill="#3173af" stroke="#1f62a3" stroke-width="0.6" fill-opacity="0.95"/>
<circle cx="1381.3" cy="1319.5" r="4.3" fill="#3173af" stroke="#1f62a3" stroke-width="0.6" fill-opacity="0.95"/>
<circle cx="1381.3" cy="1332.6" r="4.3" fill="#3173af" stroke="#1f62a3" stroke-width="0.6" fill-opacity="0.95"/>
<circle cx="1381.3" cy="1337.9" r="4.3" fill="#3173af" stroke="#1f62a3" stroke-width="0.6" fill-opacity="0.95"/>
<circle cx="1381.3" cy="1421.9" r="4.3" fill="#3173af" stroke="#1f62a3" stroke-width="0.6" fill-opacity="0.95"/>
<circle cx="1381.3" cy="1477.0" r="4.3" fill="#3173af" stroke="#1f62a3" stroke-width="0.6" fill-opacity="0.95"/>
<line x1="1249.5" y1="1258.3" x2="1249.5" y2="1394.4" stroke="#000" stroke-width="3.3" />
<line x1="1239.5" y1="1258.3" x2="1259.5" y2="1258.3" stroke="#000" stroke-width="3.3" />
<line x1="1239.5" y1="1394.4" x2="1259.5" y2="1394.4" stroke="#000" stroke-width="3.3" />
<text x="1249.5" y="1165.8" font-size="19.4" text-anchor="middle">164</text>
<line x1="1315.3" y1="1260.0" x2="1315.3" y2="1362.4" stroke="#000" stroke-width="3.3" />
<line x1="1305.3" y1="1260.0" x2="1325.3" y2="1260.0" stroke="#000" stroke-width="3.3" />
<line x1="1305.3" y1="1362.4" x2="1325.3" y2="1362.4" stroke="#000" stroke-width="3.3" />
<text x="1315.3" y="1204.9" font-size="19.4" text-anchor="middle">227</text>
<line x1="1381.3" y1="1228.5" x2="1381.3" y2="1375.9" stroke="#000" stroke-width="3.3" />
<line x1="1371.3" y1="1228.5" x2="1391.3" y2="1228.5" stroke="#000" stroke-width="3.3" />
<line x1="1371.3" y1="1375.9" x2="1391.3" y2="1375.9" stroke="#000" stroke-width="3.3" />
<text x="1381.3" y="1213.9" font-size="19.4" text-anchor="middle">278</text>
<line x1="1207.3" y1="1558.6" x2="1422.3" y2="1558.6" stroke="#000" stroke-width="3.6" />
<line x1="1249.5" y1="1558.6" x2="1249.5" y2="1564.8" stroke="#000" stroke-width="2.6" />
<text transform="translate(1225.2,1613.5) rotate(-45)" font-size="18.3" text-anchor="middle">BBIBP -&gt;</text>
<text transform="translate(1242.1,1630.5) rotate(-45)" font-size="18.3" text-anchor="middle">BA.1 infection</text>
<line x1="1315.3" y1="1558.6" x2="1315.3" y2="1564.8" stroke="#000" stroke-width="2.6" />
<text transform="translate(1296.1,1613.5) rotate(-45)" font-size="18.3" text-anchor="middle">CoronaVac -&gt;</text>
<text transform="translate(1313.0,1630.5) rotate(-45)" font-size="18.3" text-anchor="middle">BA.1 infection</text>
<line x1="1381.3" y1="1558.6" x2="1381.3" y2="1564.8" stroke="#000" stroke-width="2.6" />
<text transform="translate(1370.3,1613.5) rotate(-45)" font-size="18.3" text-anchor="middle">Ad5-nCoV -&gt;</text>
<text transform="translate(1387.2,1630.5) rotate(-45)" font-size="18.3" text-anchor="middle">BA.1 infection</text>
<text x="1303.0" y="978.7" font-size="21.3" text-anchor="middle">Beta</text>
<line x1="1245.7" y1="1023.8" x2="1377.2" y2="1023.8" stroke="#000" stroke-width="2.6" />
<text x="1311.5" y="1019.3" font-size="19.0" text-anchor="middle"><tspan font-style="italic">P</tspan> = 0.10</text>
<line x1="1310.2" y1="1048.1" x2="1377.2" y2="1048.1" stroke="#000" stroke-width="2.6" />
<text x="1343.7" y="1045.3" font-size="19.0" text-anchor="middle"><tspan font-style="italic">P</tspan> = 0.42</text>
<line x1="1245.7" y1="1073.3" x2="1312.6" y2="1073.3" stroke="#000" stroke-width="2.6" />
<text x="1282.0" y="1068.6" font-size="19.0" text-anchor="middle"><tspan font-style="italic">P</tspan> = 0.07</text>
<rect x="1457.3" y="1354.0" width="32.0" height="204.6" fill="#fdf4eb" stroke="#000" stroke-width="3.6"/>
<rect x="1523.2" y="1346.4" width="32.0" height="212.2" fill="#fdf4eb" stroke="#000" stroke-width="3.6"/>
<rect x="1589.4" y="1326.7" width="32.0" height="231.9" fill="#fdf4eb" stroke="#000" stroke-width="3.6"/>
<line x1="1432.8" y1="1495.3" x2="1631.6" y2="1495.3" stroke="#000" stroke-width="3.4" stroke-dasharray="13.3 13.2"/>
<circle cx="1473.3" cy="1179.4" r="4.3" fill="#d57d33" stroke="#c9691c" stroke-width="0.6" fill-opacity="0.95"/>
<circle cx="1473.3" cy="1249.0" r="4.3" fill="#d57d33" stroke="#c9691c" stroke-width="0.6" fill-opacity="0.95"/>
<circle cx="1473.3" cy="1269.1" r="4.3" fill="#d57d33" stroke="#c9691c" stroke-width="0.6" fill-opacity="0.95"/>
<circle cx="1473.3" cy="1287.5" r="4.3" fill="#d57d33" stroke="#c9691c" stroke-width="0.6" fill-opacity="0.95"/>
<circle cx="1473.3" cy="1300.6" r="4.3" fill="#d57d33" stroke="#c9691c" stroke-width="0.6" fill-opacity="0.95"/>
<circle cx="1473.3" cy="1312.0" r="4.3" fill="#d57d33" stroke="#c9691c" stroke-width="0.6" fill-opacity="0.95"/>
<circle cx="1473.3" cy="1319.0" r="4.3" fill="#d57d33" stroke="#c9691c" stroke-width="0.6" fill-opacity="0.95"/>
<circle cx="1473.3" cy="1326.0" r="4.3" fill="#d57d33" stroke="#c9691c" stroke-width="0.6" fill-opacity="0.95"/>
<circle cx="1467.3" cy="1333.0" r="4.3" fill="#d57d33" stroke="#c9691c" stroke-width="0.6" fill-opacity="0.95"/>
<circle cx="1473.3" cy="1333.0" r="4.3" fill="#d57d33" stroke="#c9691c" stroke-width="0.6" fill-opacity="0.95"/>
<circle cx="1479.3" cy="1333.0" r="4.3" fill="#d57d33" stroke="#c9691c" stroke-width="0.6" fill-opacity="0.95"/>
<circle cx="1467.3" cy="1338.3" r="4.3" fill="#d57d33" stroke="#c9691c" stroke-width="0.6" fill-opacity="0.95"/>
<circle cx="1473.3" cy="1338.3" r="4.3" fill="#d57d33" stroke="#c9691c" stroke-width="0.6" fill-opacity="0.95"/>
<circle cx="1479.3" cy="1338.3" r="4.3" fill="#d57d33" stroke="#c9691c" stroke-width="0.6" fill-opacity="0.95"/>
<circle cx="1473.3" cy="1344.4" r="4.3" fill="#d57d33" stroke="#c9691c" stroke-width="0.6" fill-opacity="0.95"/>
<circle cx="1467.3" cy="1350.5" r="4.3" fill="#d57d33" stroke="#c9691c" stroke-width="0.6" fill-opacity="0.95"/>
<circle cx="1473.3" cy="1350.5" r="4.3" fill="#d57d33" stroke="#c9691c" stroke-width="0.6" fill-opacity="0.95"/>
<circle cx="1479.3" cy="1350.5" r="4.3" fill="#d57d33" stroke="#c9691c" stroke-width="0.6" fill-opacity="0.95"/>
<circle cx="1473.3" cy="1358.4" r="4.3" fill="#d57d33" stroke="#c9691c" stroke-width="0.6" fill-opacity="0.95"/>
<circle cx="1473.3" cy="1363.0" r="4.3" fill="#d57d33" stroke="#c9691c" stroke-width="0.6" fill-opacity="0.95"/>
<circle cx="1473.3" cy="1368.9" r="4.3" fill="#d57d33" stroke="#c9691c" stroke-width="0.6" fill-opacity="0.95"/>
<circle cx="1467.3" cy="1375.0" r="4.3" fill="#d57d33" stroke="#c9691c" stroke-width="0.6" fill-opacity="0.95"/>
<circle cx="1473.3" cy="1375.0" r="4.3" fill="#d57d33" stroke="#c9691c" stroke-width="0.6" fill-opacity="0.95"/>
<circle cx="1479.3" cy="1375.0" r="4.3" fill="#d57d33" stroke="#c9691c" stroke-width="0.6" fill-opacity="0.95"/>
<circle cx="1473.3" cy="1384.6" r="4.3" fill="#d57d33" stroke="#c9691c" stroke-width="0.6" fill-opacity="0.95"/>
<circle cx="1470.3" cy="1390.8" r="4.3" fill="#d57d33" stroke="#c9691c" stroke-width="0.6" fill-opacity="0.95"/>
<circle cx="1476.3" cy="1390.8" r="4.3" fill="#d57d33" stroke="#c9691c" stroke-width="0.6" fill-opacity="0.95"/>
<circle cx="1470.3" cy="1406.5" r="4.3" fill="#d57d33" stroke="#c9691c" stroke-width="0.6" fill-opacity="0.95"/>
<circle cx="1476.3" cy="1406.5" r="4.3" fill="#d57d33" stroke="#c9691c" stroke-width="0.6" fill-opacity="0.95"/>
<circle cx="1473.3" cy="1438.0" r="4.3" fill="#d57d33" stroke="#c9691c" stroke-width="0.6" fill-opacity="0.95"/>
<circle cx="1473.3" cy="1449.4" r="4.3" fill="#d57d33" stroke="#c9691c" stroke-width="0.6" fill-opacity="0.95"/>
<circle cx="1473.3" cy="1464.3" r="4.3" fill="#d57d33" stroke="#c9691c" stroke-width="0.6" fill-opacity="0.95"/>
<circle cx="1539.2" cy="1242.0" r="4.3" fill="#d57d33" stroke="#c9691c" stroke-width="0.6" fill-opacity="0.95"/>
<circle cx="1539.2" cy="1249.0" r="4.3" fill="#d57d33" stroke="#c9691c" stroke-width="0.6" fill-opacity="0.95"/>
<circle cx="1539.2" cy="1280.5" r="4.3" fill="#d57d33" stroke="#c9691c" stroke-width="0.6" fill-opacity="0.95"/>
<circle cx="1536.2" cy="1287.5" r="4.3" fill="#d57d33" stroke="#c9691c" stroke-width="0.6" fill-opacity="0.95"/>
<circle cx="1542.2" cy="1287.5" r="4.3" fill="#d57d33" stroke="#c9691c" stroke-width="0.6" fill-opacity="0.95"/>
<circle cx="1533.2" cy="1295.4" r="4.3" fill="#d57d33" stroke="#c9691c" stroke-width="0.6" fill-opacity="0.95"/>
<circle cx="1539.2" cy="1295.4" r="4.3" fill="#d57d33" stroke="#c9691c" stroke-width="0.6" fill-opacity="0.95"/>
<circle cx="1545.2" cy="1295.4" r="4.3" fill="#d57d33" stroke="#c9691c" stroke-width="0.6" fill-opacity="0.95"/>
<circle cx="1539.2" cy="1306.8" r="4.3" fill="#d57d33" stroke="#c9691c" stroke-width="0.6" fill-opacity="0.95"/>
<circle cx="1539.2" cy="1312.0" r="4.3" fill="#d57d33" stroke="#c9691c" stroke-width="0.6" fill-opacity="0.95"/>
<circle cx="1539.2" cy="1319.0" r="4.3" fill="#d57d33" stroke="#c9691c" stroke-width="0.6" fill-opacity="0.95"/>
<circle cx="1539.2" cy="1327.8" r="4.3" fill="#d57d33" stroke="#c9691c" stroke-width="0.6" fill-opacity="0.95"/>
<circle cx="1539.2" cy="1336.5" r="4.3" fill="#d57d33" stroke="#c9691c" stroke-width="0.6" fill-opacity="0.95"/>
<circle cx="1533.2" cy="1343.5" r="4.3" fill="#d57d33" stroke="#c9691c" stroke-width="0.6" fill-opacity="0.95"/>
<circle cx="1539.2" cy="1343.5" r="4.3" fill="#d57d33" stroke="#c9691c" stroke-width="0.6" fill-opacity="0.95"/>
<circle cx="1545.2" cy="1343.5" r="4.3" fill="#d57d33" stroke="#c9691c" stroke-width="0.6" fill-opacity="0.95"/>
<circle cx="1533.2" cy="1350.5" r="4.3" fill="#d57d33" stroke="#c9691c" stroke-width="0.6" fill-opacity="0.95"/>
<circle cx="1539.2" cy="1350.5" r="4.3" fill="#d57d33" stroke="#c9691c" stroke-width="0.6" fill-opacity="0.95"/>
<circle cx="1545.2" cy="1350.5" r="4.3" fill="#d57d33" stroke="#c9691c" stroke-width="0.6" fill-opacity="0.95"/>
<circle cx="1533.2" cy="1357.5" r="4.3" fill="#d57d33" stroke="#c9691c" stroke-width="0.6" fill-opacity="0.95"/>
<circle cx="1539.2" cy="1357.5" r="4.3" fill="#d57d33" stroke="#c9691c" stroke-width="0.6" fill-opacity="0.95"/>
<circle cx="1545.2" cy="1357.5" r="4.3" fill="#d57d33" stroke="#c9691c" stroke-width="0.6" fill-opacity="0.95"/>
<circle cx="1539.2" cy="1364.5" r="4.3" fill="#d57d33" stroke="#c9691c" stroke-width="0.6" fill-opacity="0.95"/>
<circle cx="1533.2" cy="1368.9" r="4.3" fill="#d57d33" stroke="#c9691c" stroke-width="0.6" fill-opacity="0.95"/>
<circle cx="1539.2" cy="1368.9" r="4.3" fill="#d57d33" stroke="#c9691c" stroke-width="0.6" fill-opacity="0.95"/>
<circle cx="1545.2" cy="1368.9" r="4.3" fill="#d57d33" stroke="#c9691c" stroke-width="0.6" fill-opacity="0.95"/>
<circle cx="1539.2" cy="1375.0" r="4.3" fill="#d57d33" stroke="#c9691c" stroke-width="0.6" fill-opacity="0.95"/>
<circle cx="1539.2" cy="1382.0" r="4.3" fill="#d57d33" stroke="#c9691c" stroke-width="0.6" fill-opacity="0.95"/>
<circle cx="1539.2" cy="1388.1" r="4.3" fill="#d57d33" stroke="#c9691c" stroke-width="0.6" fill-opacity="0.95"/>
<circle cx="1539.2" cy="1400.4" r="4.3" fill="#d57d33" stroke="#c9691c" stroke-width="0.6" fill-opacity="0.95"/>
<circle cx="1539.2" cy="1406.5" r="4.3" fill="#d57d33" stroke="#c9691c" stroke-width="0.6" fill-opacity="0.95"/>
<circle cx="1539.2" cy="1413.5" r="4.3" fill="#d57d33" stroke="#c9691c" stroke-width="0.6" fill-opacity="0.95"/>
<circle cx="1539.2" cy="1421.4" r="4.3" fill="#d57d33" stroke="#c9691c" stroke-width="0.6" fill-opacity="0.95"/>
<circle cx="1539.2" cy="1427.5" r="4.3" fill="#d57d33" stroke="#c9691c" stroke-width="0.6" fill-opacity="0.95"/>
<circle cx="1539.2" cy="1432.8" r="4.3" fill="#d57d33" stroke="#c9691c" stroke-width="0.6" fill-opacity="0.95"/>
<circle cx="1539.2" cy="1459.0" r="4.3" fill="#d57d33" stroke="#c9691c" stroke-width="0.6" fill-opacity="0.95"/>
<circle cx="1539.2" cy="1477.4" r="4.3" fill="#d57d33" stroke="#c9691c" stroke-width="0.6" fill-opacity="0.95"/>
<circle cx="1605.4" cy="1224.5" r="4.3" fill="#d57d33" stroke="#c9691c" stroke-width="0.6" fill-opacity="0.95"/>
<circle cx="1605.4" cy="1232.4" r="4.3" fill="#d57d33" stroke="#c9691c" stroke-width="0.6" fill-opacity="0.95"/>
<circle cx="1605.4" cy="1269.1" r="4.3" fill="#d57d33" stroke="#c9691c" stroke-width="0.6" fill-opacity="0.95"/>
<circle cx="1605.4" cy="1287.5" r="4.3" fill="#d57d33" stroke="#c9691c" stroke-width="0.6" fill-opacity="0.95"/>
<circle cx="1602.4" cy="1295.4" r="4.3" fill="#d57d33" stroke="#c9691c" stroke-width="0.6" fill-opacity="0.95"/>
<circle cx="1608.4" cy="1295.4" r="4.3" fill="#d57d33" stroke="#c9691c" stroke-width="0.6" fill-opacity="0.95"/>
<circle cx="1605.4" cy="1300.6" r="4.3" fill="#d57d33" stroke="#c9691c" stroke-width="0.6" fill-opacity="0.95"/>
<circle cx="1605.4" cy="1332.1" r="4.3" fill="#d57d33" stroke="#c9691c" stroke-width="0.6" fill-opacity="0.95"/>
<circle cx="1602.4" cy="1343.5" r="4.3" fill="#d57d33" stroke="#c9691c" stroke-width="0.6" fill-opacity="0.95"/>
<circle cx="1608.4" cy="1343.5" r="4.3" fill="#d57d33" stroke="#c9691c" stroke-width="0.6" fill-opacity="0.95"/>
<circle cx="1605.4" cy="1350.5" r="4.3" fill="#d57d33" stroke="#c9691c" stroke-width="0.6" fill-opacity="0.95"/>
<circle cx="1605.4" cy="1359.3" r="4.3" fill="#d57d33" stroke="#c9691c" stroke-width="0.6" fill-opacity="0.95"/>
<circle cx="1605.4" cy="1368.9" r="4.3" fill="#d57d33" stroke="#c9691c" stroke-width="0.6" fill-opacity="0.95"/>
<circle cx="1605.4" cy="1414.4" r="4.3" fill="#d57d33" stroke="#c9691c" stroke-width="0.6" fill-opacity="0.95"/>
<circle cx="1605.4" cy="1477.4" r="4.3" fill="#d57d33" stroke="#c9691c" stroke-width="0.6" fill-opacity="0.95"/>
<line x1="1473.3" y1="1307.1" x2="1473.3" y2="1402.1" stroke="#000" stroke-width="3.3" />
<line x1="1463.3" y1="1307.1" x2="1483.3" y2="1307.1" stroke="#000" stroke-width="3.3" />
<line x1="1463.3" y1="1402.1" x2="1483.3" y2="1402.1" stroke="#000" stroke-width="3.3" />
<text x="1473.3" y="1236.4" font-size="19.4" text-anchor="middle">88</text>
<line x1="1539.2" y1="1301.0" x2="1539.2" y2="1393.4" stroke="#000" stroke-width="3.3" />
<line x1="1529.2" y1="1301.0" x2="1549.2" y2="1301.0" stroke="#000" stroke-width="3.3" />
<line x1="1529.2" y1="1393.4" x2="1549.2" y2="1393.4" stroke="#000" stroke-width="3.3" />
<text x="1539.2" y="1269.0" font-size="19.4" text-anchor="middle">104</text>
<line x1="1605.4" y1="1263.4" x2="1605.4" y2="1391.6" stroke="#000" stroke-width="3.3" />
<line x1="1595.4" y1="1263.4" x2="1615.4" y2="1263.4" stroke="#000" stroke-width="3.3" />
<line x1="1595.4" y1="1391.6" x2="1615.4" y2="1391.6" stroke="#000" stroke-width="3.3" />
<text x="1605.4" y="1212.4" font-size="19.4" text-anchor="middle">160</text>
<line x1="1431.3" y1="1558.6" x2="1646.1" y2="1558.6" stroke="#000" stroke-width="3.6" />
<line x1="1473.3" y1="1558.6" x2="1473.3" y2="1564.8" stroke="#000" stroke-width="2.6" />
<text transform="translate(1448.7,1613.5) rotate(-45)" font-size="18.3" text-anchor="middle">BBIBP -&gt;</text>
<text transform="translate(1465.6,1630.5) rotate(-45)" font-size="18.3" text-anchor="middle">BA.1 infection</text>
<line x1="1539.2" y1="1558.6" x2="1539.2" y2="1564.8" stroke="#000" stroke-width="2.6" />
<text transform="translate(1519.6,1613.5) rotate(-45)" font-size="18.3" text-anchor="middle">CoronaVac -&gt;</text>
<text transform="translate(1536.5,1630.5) rotate(-45)" font-size="18.3" text-anchor="middle">BA.1 infection</text>
<line x1="1605.4" y1="1558.6" x2="1605.4" y2="1564.8" stroke="#000" stroke-width="2.6" />
<text transform="translate(1593.8,1613.5) rotate(-45)" font-size="18.3" text-anchor="middle">Ad5-nCoV -&gt;</text>
<text transform="translate(1610.7,1630.5) rotate(-45)" font-size="18.3" text-anchor="middle">BA.1 infection</text>
<text x="1521.4" y="978.7" font-size="21.3" text-anchor="middle">Omicron</text>
<line x1="1464.3" y1="1023.8" x2="1595.0" y2="1023.8" stroke="#000" stroke-width="2.6" />
<text x="1529.7" y="1019.3" font-size="19.0" text-anchor="middle"><tspan font-style="italic">P</tspan> = 0.05</text>
<line x1="1528.9" y1="1048.1" x2="1595.0" y2="1048.1" stroke="#000" stroke-width="2.6" />
<text x="1562.0" y="1045.3" font-size="19.0" text-anchor="middle"><tspan font-style="italic">P</tspan> = 0.12</text>
<line x1="1464.3" y1="1073.3" x2="1531.0" y2="1073.3" stroke="#000" stroke-width="2.6" />
<text x="1499.0" y="1068.6" font-size="19.0" text-anchor="middle"><tspan font-style="italic">P</tspan> = 0.30</text>
<line x1="984.5" y1="1031.4" x2="984.5" y2="1560.1" stroke="#000" stroke-width="3.3" />
<line x1="978.2" y1="1558.6" x2="984.5" y2="1558.6" stroke="#000" stroke-width="2.5" />
<text x="965.0" y="1568.9" font-size="21" text-anchor="end">10</text>
<text x="965.6" y="1559.4" font-size="14.5">0</text>
<line x1="980.2" y1="1526.9" x2="984.5" y2="1526.9" stroke="#000" stroke-width="2.3" />
<line x1="980.2" y1="1508.4" x2="984.5" y2="1508.4" stroke="#000" stroke-width="2.3" />
<line x1="980.2" y1="1495.3" x2="984.5" y2="1495.3" stroke="#000" stroke-width="2.3" />
<line x1="980.2" y1="1485.1" x2="984.5" y2="1485.1" stroke="#000" stroke-width="2.3" />
<line x1="980.2" y1="1476.7" x2="984.5" y2="1476.7" stroke="#000" stroke-width="2.3" />
<line x1="980.2" y1="1469.7" x2="984.5" y2="1469.7" stroke="#000" stroke-width="2.3" />
<line x1="980.2" y1="1463.6" x2="984.5" y2="1463.6" stroke="#000" stroke-width="2.3" />
<line x1="980.2" y1="1458.2" x2="984.5" y2="1458.2" stroke="#000" stroke-width="2.3" />
<line x1="978.2" y1="1453.4" x2="984.5" y2="1453.4" stroke="#000" stroke-width="2.5" />
<text x="965.0" y="1463.7" font-size="21" text-anchor="end">10</text>
<text x="965.6" y="1454.2" font-size="14.5">1</text>
<line x1="980.2" y1="1421.7" x2="984.5" y2="1421.7" stroke="#000" stroke-width="2.3" />
<line x1="980.2" y1="1403.2" x2="984.5" y2="1403.2" stroke="#000" stroke-width="2.3" />
<line x1="980.2" y1="1390.1" x2="984.5" y2="1390.1" stroke="#000" stroke-width="2.3" />
<line x1="980.2" y1="1379.9" x2="984.5" y2="1379.9" stroke="#000" stroke-width="2.3" />
<line x1="980.2" y1="1371.5" x2="984.5" y2="1371.5" stroke="#000" stroke-width="2.3" />
<line x1="980.2" y1="1364.5" x2="984.5" y2="1364.5" stroke="#000" stroke-width="2.3" />
<line x1="980.2" y1="1358.4" x2="984.5" y2="1358.4" stroke="#000" stroke-width="2.3" />
<line x1="980.2" y1="1353.0" x2="984.5" y2="1353.0" stroke="#000" stroke-width="2.3" />
<line x1="978.2" y1="1348.2" x2="984.5" y2="1348.2" stroke="#000" stroke-width="2.5" />
<text x="965.0" y="1358.5" font-size="21" text-anchor="end">10</text>
<text x="965.6" y="1349.0" font-size="14.5">2</text>
<line x1="980.2" y1="1316.5" x2="984.5" y2="1316.5" stroke="#000" stroke-width="2.3" />
<line x1="980.2" y1="1298.0" x2="984.5" y2="1298.0" stroke="#000" stroke-width="2.3" />
<line x1="980.2" y1="1284.9" x2="984.5" y2="1284.9" stroke="#000" stroke-width="2.3" />
<line x1="980.2" y1="1274.7" x2="984.5" y2="1274.7" stroke="#000" stroke-width="2.3" />
<line x1="980.2" y1="1266.3" x2="984.5" y2="1266.3" stroke="#000" stroke-width="2.3" />
<line x1="980.2" y1="1259.3" x2="984.5" y2="1259.3" stroke="#000" stroke-width="2.3" />
<line x1="980.2" y1="1253.2" x2="984.5" y2="1253.2" stroke="#000" stroke-width="2.3" />
<line x1="980.2" y1="1247.8" x2="984.5" y2="1247.8" stroke="#000" stroke-width="2.3" />
<line x1="978.2" y1="1243.0" x2="984.5" y2="1243.0" stroke="#000" stroke-width="2.5" />
<text x="965.0" y="1253.3" font-size="21" text-anchor="end">10</text>
<text x="965.6" y="1243.8" font-size="14.5">3</text>
<line x1="980.2" y1="1211.3" x2="984.5" y2="1211.3" stroke="#000" stroke-width="2.3" />
<line x1="980.2" y1="1192.8" x2="984.5" y2="1192.8" stroke="#000" stroke-width="2.3" />
<line x1="980.2" y1="1179.7" x2="984.5" y2="1179.7" stroke="#000" stroke-width="2.3" />
<line x1="980.2" y1="1169.5" x2="984.5" y2="1169.5" stroke="#000" stroke-width="2.3" />
<line x1="980.2" y1="1161.1" x2="984.5" y2="1161.1" stroke="#000" stroke-width="2.3" />
<line x1="980.2" y1="1154.1" x2="984.5" y2="1154.1" stroke="#000" stroke-width="2.3" />
<line x1="980.2" y1="1148.0" x2="984.5" y2="1148.0" stroke="#000" stroke-width="2.3" />
<line x1="980.2" y1="1142.6" x2="984.5" y2="1142.6" stroke="#000" stroke-width="2.3" />
<line x1="978.2" y1="1137.8" x2="984.5" y2="1137.8" stroke="#000" stroke-width="2.5" />
<text x="965.0" y="1148.1" font-size="21" text-anchor="end">10</text>
<text x="965.6" y="1138.6" font-size="14.5">4</text>
<line x1="980.2" y1="1106.1" x2="984.5" y2="1106.1" stroke="#000" stroke-width="2.3" />
<line x1="980.2" y1="1087.6" x2="984.5" y2="1087.6" stroke="#000" stroke-width="2.3" />
<line x1="980.2" y1="1074.5" x2="984.5" y2="1074.5" stroke="#000" stroke-width="2.3" />
<line x1="980.2" y1="1064.3" x2="984.5" y2="1064.3" stroke="#000" stroke-width="2.3" />
<line x1="980.2" y1="1055.9" x2="984.5" y2="1055.9" stroke="#000" stroke-width="2.3" />
<line x1="980.2" y1="1048.9" x2="984.5" y2="1048.9" stroke="#000" stroke-width="2.3" />
<line x1="980.2" y1="1042.8" x2="984.5" y2="1042.8" stroke="#000" stroke-width="2.3" />
<line x1="980.2" y1="1037.4" x2="984.5" y2="1037.4" stroke="#000" stroke-width="2.3" />
<line x1="978.2" y1="1032.6" x2="984.5" y2="1032.6" stroke="#000" stroke-width="2.5" />
<text x="965.0" y="1042.9" font-size="21" text-anchor="end">10</text>
<text x="965.6" y="1033.4" font-size="14.5">5</text>
<text x="0.0" y="1748.2" font-size="36" font-weight="bold">f</text>
<text x="3.7" y="1809.8" font-size="24.3">strain</text>
<rect x="4.8" y="1826.2" width="24.6" height="23.8" fill="#f9ebe8" stroke="#000" stroke-width="3.3"/>
<circle cx="17.2" cy="1838.1" r="4.5" fill="#ae3f2d"/>
<text x="42.9" y="1846.0" font-size="20.9">WT</text>
<rect x="4.8" y="1853.2" width="24.6" height="23.8" fill="#eef1fa" stroke="#000" stroke-width="3.3"/>
<circle cx="17.2" cy="1865.1" r="4.5" fill="#3173af"/>
<text x="42.9" y="1873.0" font-size="20.9">Beta</text>
<rect x="4.8" y="1880.2" width="24.6" height="23.8" fill="#fdf4eb" stroke="#000" stroke-width="3.3"/>
<circle cx="17.2" cy="1892.1" r="4.5" fill="#d57d33"/>
<text x="42.9" y="1900.0" font-size="20.9">Omicron</text>
<text transform="translate(58.9,2290.6) rotate(-90)" font-size="24.2">NT<tspan font-size="16.3" dy="6">50</tspan><tspan dy="-6">(Reciprocal plasma dilution)</tspan></text>
<rect x="190.8" y="2067.1" width="46.0" height="281.7" fill="#f9ebe8" stroke="#000" stroke-width="3.6"/>
<rect x="284.8" y="2038.3" width="46.0" height="310.5" fill="#f9ebe8" stroke="#000" stroke-width="3.6"/>
<line x1="157.9" y1="2287.0" x2="365.7" y2="2287.0" stroke="#000" stroke-width="3.4" stroke-dasharray="13.3 13.2"/>
<circle cx="213.8" cy="1953.1" r="4.3" fill="#ae3f2d" stroke="#a92a1a" stroke-width="0.6" fill-opacity="0.95"/>
<circle cx="213.8" cy="1984.3" r="4.3" fill="#ae3f2d" stroke="#a92a1a" stroke-width="0.6" fill-opacity="0.95"/>
<circle cx="210.8" cy="1999.2" r="4.3" fill="#ae3f2d" stroke="#a92a1a" stroke-width="0.6" fill-opacity="0.95"/>
<circle cx="216.8" cy="1999.2" r="4.3" fill="#ae3f2d" stroke="#a92a1a" stroke-width="0.6" fill-opacity="0.95"/>
<circle cx="213.8" cy="2015.3" r="4.3" fill="#ae3f2d" stroke="#a92a1a" stroke-width="0.6" fill-opacity="0.95"/>
<circle cx="210.8" cy="2026.0" r="4.3" fill="#ae3f2d" stroke="#a92a1a" stroke-width="0.6" fill-opacity="0.95"/>
<circle cx="216.8" cy="2026.0" r="4.3" fill="#ae3f2d" stroke="#a92a1a" stroke-width="0.6" fill-opacity="0.95"/>
<circle cx="210.8" cy="2030.5" r="4.3" fill="#ae3f2d" stroke="#a92a1a" stroke-width="0.6" fill-opacity="0.95"/>
<circle cx="216.8" cy="2030.5" r="4.3" fill="#ae3f2d" stroke="#a92a1a" stroke-width="0.6" fill-opacity="0.95"/>
<circle cx="213.8" cy="2039.5" r="4.3" fill="#ae3f2d" stroke="#a92a1a" stroke-width="0.6" fill-opacity="0.95"/>
<circle cx="213.8" cy="2046.6" r="4.3" fill="#ae3f2d" stroke="#a92a1a" stroke-width="0.6" fill-opacity="0.95"/>
<circle cx="207.8" cy="2052.9" r="4.3" fill="#ae3f2d" stroke="#a92a1a" stroke-width="0.6" fill-opacity="0.95"/>
<circle cx="213.8" cy="2052.9" r="4.3" fill="#ae3f2d" stroke="#a92a1a" stroke-width="0.6" fill-opacity="0.95"/>
<circle cx="219.8" cy="2052.9" r="4.3" fill="#ae3f2d" stroke="#a92a1a" stroke-width="0.6" fill-opacity="0.95"/>
<circle cx="213.8" cy="2061.0" r="4.3" fill="#ae3f2d" stroke="#a92a1a" stroke-width="0.6" fill-opacity="0.95"/>
<circle cx="213.8" cy="2068.1" r="4.3" fill="#ae3f2d" stroke="#a92a1a" stroke-width="0.6" fill-opacity="0.95"/>
<circle cx="213.8" cy="2077.1" r="4.3" fill="#ae3f2d" stroke="#a92a1a" stroke-width="0.6" fill-opacity="0.95"/>
<circle cx="213.8" cy="2084.3" r="4.3" fill="#ae3f2d" stroke="#a92a1a" stroke-width="0.6" fill-opacity="0.95"/>
<circle cx="207.8" cy="2092.3" r="4.3" fill="#ae3f2d" stroke="#a92a1a" stroke-width="0.6" fill-opacity="0.95"/>
<circle cx="213.8" cy="2092.3" r="4.3" fill="#ae3f2d" stroke="#a92a1a" stroke-width="0.6" fill-opacity="0.95"/>
<circle cx="219.8" cy="2092.3" r="4.3" fill="#ae3f2d" stroke="#a92a1a" stroke-width="0.6" fill-opacity="0.95"/>
<circle cx="207.8" cy="2101.3" r="4.3" fill="#ae3f2d" stroke="#a92a1a" stroke-width="0.6" fill-opacity="0.95"/>
<circle cx="213.8" cy="2101.3" r="4.3" fill="#ae3f2d" stroke="#a92a1a" stroke-width="0.6" fill-opacity="0.95"/>
<circle cx="219.8" cy="2101.3" r="4.3" fill="#ae3f2d" stroke="#a92a1a" stroke-width="0.6" fill-opacity="0.95"/>
<circle cx="213.8" cy="2108.5" r="4.3" fill="#ae3f2d" stroke="#a92a1a" stroke-width="0.6" fill-opacity="0.95"/>
<circle cx="213.8" cy="2114.7" r="4.3" fill="#ae3f2d" stroke="#a92a1a" stroke-width="0.6" fill-opacity="0.95"/>
<circle cx="213.8" cy="2158.6" r="4.3" fill="#ae3f2d" stroke="#a92a1a" stroke-width="0.6" fill-opacity="0.95"/>
<circle cx="213.8" cy="2224.9" r="4.3" fill="#ae3f2d" stroke="#a92a1a" stroke-width="0.6" fill-opacity="0.95"/>
<circle cx="213.8" cy="2268.8" r="4.3" fill="#ae3f2d" stroke="#a92a1a" stroke-width="0.6" fill-opacity="0.95"/>
<circle cx="304.8" cy="1911.4" r="4.3" fill="#ae3f2d" stroke="#a92a1a" stroke-width="0.6" fill-opacity="0.95"/>
<circle cx="310.8" cy="1911.4" r="4.3" fill="#ae3f2d" stroke="#a92a1a" stroke-width="0.6" fill-opacity="0.95"/>
<circle cx="307.8" cy="1916.7" r="4.3" fill="#ae3f2d" stroke="#a92a1a" stroke-width="0.6" fill-opacity="0.95"/>
<circle cx="307.8" cy="1947.7" r="4.3" fill="#ae3f2d" stroke="#a92a1a" stroke-width="0.6" fill-opacity="0.95"/>
<circle cx="304.8" cy="1968.7" r="4.3" fill="#ae3f2d" stroke="#a92a1a" stroke-width="0.6" fill-opacity="0.95"/>
<circle cx="310.8" cy="1968.7" r="4.3" fill="#ae3f2d" stroke="#a92a1a" stroke-width="0.6" fill-opacity="0.95"/>
<circle cx="307.8" cy="1984.8" r="4.3" fill="#ae3f2d" stroke="#a92a1a" stroke-width="0.6" fill-opacity="0.95"/>
<circle cx="307.8" cy="1991.1" r="4.3" fill="#ae3f2d" stroke="#a92a1a" stroke-width="0.6" fill-opacity="0.95"/>
<circle cx="304.8" cy="1995.6" r="4.3" fill="#ae3f2d" stroke="#a92a1a" stroke-width="0.6" fill-opacity="0.95"/>
<circle cx="310.8" cy="1995.6" r="4.3" fill="#ae3f2d" stroke="#a92a1a" stroke-width="0.6" fill-opacity="0.95"/>
<circle cx="307.8" cy="1999.2" r="4.3" fill="#ae3f2d" stroke="#a92a1a" stroke-width="0.6" fill-opacity="0.95"/>
<circle cx="307.8" cy="2009.0" r="4.3" fill="#ae3f2d" stroke="#a92a1a" stroke-width="0.6" fill-opacity="0.95"/>
<circle cx="307.8" cy="2016.2" r="4.3" fill="#ae3f2d" stroke="#a92a1a" stroke-width="0.6" fill-opacity="0.95"/>
<circle cx="301.8" cy="2022.4" r="4.3" fill="#ae3f2d" stroke="#a92a1a" stroke-width="0.6" fill-opacity="0.95"/>
<circle cx="307.8" cy="2022.4" r="4.3" fill="#ae3f2d" stroke="#a92a1a" stroke-width="0.6" fill-opacity="0.95"/>
<circle cx="313.8" cy="2022.4" r="4.3" fill="#ae3f2d" stroke="#a92a1a" stroke-width="0.6" fill-opacity="0.95"/>
<circle cx="301.8" cy="2029.6" r="4.3" fill="#ae3f2d" stroke="#a92a1a" stroke-width="0.6" fill-opacity="0.95"/>
<circle cx="307.8" cy="2029.6" r="4.3" fill="#ae3f2d" stroke="#a92a1a" stroke-width="0.6" fill-opacity="0.95"/>
<circle cx="313.8" cy="2029.6" r="4.3" fill="#ae3f2d" stroke="#a92a1a" stroke-width="0.6" fill-opacity="0.95"/>
<circle cx="307.8" cy="2036.8" r="4.3" fill="#ae3f2d" stroke="#a92a1a" stroke-width="0.6" fill-opacity="0.95"/>
<circle cx="307.8" cy="2044.8" r="4.3" fill="#ae3f2d" stroke="#a92a1a" stroke-width="0.6" fill-opacity="0.95"/>
<circle cx="301.8" cy="2052.9" r="4.3" fill="#ae3f2d" stroke="#a92a1a" stroke-width="0.6" fill-opacity="0.95"/>
<circle cx="307.8" cy="2052.9" r="4.3" fill="#ae3f2d" stroke="#a92a1a" stroke-width="0.6" fill-opacity="0.95"/>
<circle cx="313.8" cy="2052.9" r="4.3" fill="#ae3f2d" stroke="#a92a1a" stroke-width="0.6" fill-opacity="0.95"/>
<circle cx="307.8" cy="2061.0" r="4.3" fill="#ae3f2d" stroke="#a92a1a" stroke-width="0.6" fill-opacity="0.95"/>
<circle cx="304.8" cy="2065.5" r="4.3" fill="#ae3f2d" stroke="#a92a1a" stroke-width="0.6" fill-opacity="0.95"/>
<circle cx="310.8" cy="2065.5" r="4.3" fill="#ae3f2d" stroke="#a92a1a" stroke-width="0.6" fill-opacity="0.95"/>
<circle cx="301.8" cy="2070.8" r="4.3" fill="#ae3f2d" stroke="#a92a1a" stroke-width="0.6" fill-opacity="0.95"/>
<circle cx="307.8" cy="2070.8" r="4.3" fill="#ae3f2d" stroke="#a92a1a" stroke-width="0.6" fill-opacity="0.95"/>
<circle cx="313.8" cy="2070.8" r="4.3" fill="#ae3f2d" stroke="#a92a1a" stroke-width="0.6" fill-opacity="0.95"/>
<circle cx="307.8" cy="2077.1" r="4.3" fill="#ae3f2d" stroke="#a92a1a" stroke-width="0.6" fill-opacity="0.95"/>
<circle cx="307.8" cy="2107.6" r="4.3" fill="#ae3f2d" stroke="#a92a1a" stroke-width="0.6" fill-opacity="0.95"/>
<circle cx="307.8" cy="2114.7" r="4.3" fill="#ae3f2d" stroke="#a92a1a" stroke-width="0.6" fill-opacity="0.95"/>
<circle cx="304.8" cy="2122.8" r="4.3" fill="#ae3f2d" stroke="#a92a1a" stroke-width="0.6" fill-opacity="0.95"/>
<circle cx="310.8" cy="2122.8" r="4.3" fill="#ae3f2d" stroke="#a92a1a" stroke-width="0.6" fill-opacity="0.95"/>
<circle cx="307.8" cy="2128.2" r="4.3" fill="#ae3f2d" stroke="#a92a1a" stroke-width="0.6" fill-opacity="0.95"/>
<circle cx="307.8" cy="2215.1" r="4.3" fill="#ae3f2d" stroke="#a92a1a" stroke-width="0.6" fill-opacity="0.95"/>
<line x1="213.8" y1="2006.3" x2="213.8" y2="2129.1" stroke="#000" stroke-width="3.3" />
<line x1="199.8" y1="2006.3" x2="227.8" y2="2006.3" stroke="#000" stroke-width="3.3" />
<line x1="199.8" y1="2129.1" x2="227.8" y2="2129.1" stroke="#000" stroke-width="3.3" />
<text x="213.8" y="1972.7" font-size="19.4" text-anchor="middle">553</text>
<line x1="307.8" y1="1978.5" x2="307.8" y2="2098.6" stroke="#000" stroke-width="3.3" />
<line x1="293.8" y1="1978.5" x2="321.8" y2="1978.5" stroke="#000" stroke-width="3.3" />
<line x1="293.8" y1="2098.6" x2="321.8" y2="2098.6" stroke="#000" stroke-width="3.3" />
<text x="307.8" y="1893.4" font-size="19.4" text-anchor="middle">1056</text>
<line x1="157.9" y1="2348.8" x2="365.7" y2="2348.8" stroke="#000" stroke-width="3.6" />
<line x1="213.8" y1="2348.8" x2="213.8" y2="2355.0" stroke="#000" stroke-width="2.6" />
<text transform="translate(215.1,2388.3) rotate(-45)" font-size="21" text-anchor="middle">Mild</text>
<line x1="307.8" y1="2348.8" x2="307.8" y2="2355.0" stroke="#000" stroke-width="2.6" />
<text transform="translate(300.7,2404.0) rotate(-45)" font-size="21" text-anchor="middle">Moderate</text>
<text x="265.2" y="1788.7" font-size="21.3" text-anchor="middle">WT</text>
<line x1="211.6" y1="1854.8" x2="319.3" y2="1854.8" stroke="#000" stroke-width="2.6" />
<text x="265.9" y="1850.0" font-size="19.0" text-anchor="middle">1.9x, <tspan font-style="italic">P</tspan> = 0.07</text>
<rect x="409.3" y="2130.0" width="46.0" height="218.8" fill="#eef1fa" stroke="#000" stroke-width="3.6"/>
<rect x="503.4" y="2101.8" width="46.0" height="247.0" fill="#eef1fa" stroke="#000" stroke-width="3.6"/>
<line x1="374.4" y1="2287.0" x2="584.2" y2="2287.0" stroke="#000" stroke-width="3.4" stroke-dasharray="13.3 13.2"/>
<circle cx="432.3" cy="2022.5" r="4.3" fill="#3173af" stroke="#1f62a3" stroke-width="0.6" fill-opacity="0.95"/>
<circle cx="432.3" cy="2046.1" r="4.3" fill="#3173af" stroke="#1f62a3" stroke-width="0.6" fill-opacity="0.95"/>
<circle cx="432.3" cy="2053.1" r="4.3" fill="#3173af" stroke="#1f62a3" stroke-width="0.6" fill-opacity="0.95"/>
<circle cx="432.3" cy="2061.0" r="4.3" fill="#3173af" stroke="#1f62a3" stroke-width="0.6" fill-opacity="0.95"/>
<circle cx="432.3" cy="2066.3" r="4.3" fill="#3173af" stroke="#1f62a3" stroke-width="0.6" fill-opacity="0.95"/>
<circle cx="432.3" cy="2071.5" r="4.3" fill="#3173af" stroke="#1f62a3" stroke-width="0.6" fill-opacity="0.95"/>
<circle cx="432.3" cy="2076.8" r="4.3" fill="#3173af" stroke="#1f62a3" stroke-width="0.6" fill-opacity="0.95"/>
<circle cx="432.3" cy="2085.0" r="4.3" fill="#3173af" stroke="#1f62a3" stroke-width="0.6" fill-opacity="0.95"/>
<circle cx="432.3" cy="2092.5" r="4.3" fill="#3173af" stroke="#1f62a3" stroke-width="0.6" fill-opacity="0.95"/>
<circle cx="432.3" cy="2096.9" r="4.3" fill="#3173af" stroke="#1f62a3" stroke-width="0.6" fill-opacity="0.95"/>
<circle cx="432.3" cy="2102.1" r="4.3" fill="#3173af" stroke="#1f62a3" stroke-width="0.6" fill-opacity="0.95"/>
<circle cx="432.3" cy="2108.3" r="4.3" fill="#3173af" stroke="#1f62a3" stroke-width="0.6" fill-opacity="0.95"/>
<circle cx="432.3" cy="2114.4" r="4.3" fill="#3173af" stroke="#1f62a3" stroke-width="0.6" fill-opacity="0.95"/>
<circle cx="432.3" cy="2123.1" r="4.3" fill="#3173af" stroke="#1f62a3" stroke-width="0.6" fill-opacity="0.95"/>
<circle cx="426.3" cy="2132.8" r="4.3" fill="#3173af" stroke="#1f62a3" stroke-width="0.6" fill-opacity="0.95"/>
<circle cx="432.3" cy="2132.8" r="4.3" fill="#3173af" stroke="#1f62a3" stroke-width="0.6" fill-opacity="0.95"/>
<circle cx="438.3" cy="2132.8" r="4.3" fill="#3173af" stroke="#1f62a3" stroke-width="0.6" fill-opacity="0.95"/>
<circle cx="432.3" cy="2138.0" r="4.3" fill="#3173af" stroke="#1f62a3" stroke-width="0.6" fill-opacity="0.95"/>
<circle cx="432.3" cy="2145.0" r="4.3" fill="#3173af" stroke="#1f62a3" stroke-width="0.6" fill-opacity="0.95"/>
<circle cx="432.3" cy="2153.8" r="4.3" fill="#3173af" stroke="#1f62a3" stroke-width="0.6" fill-opacity="0.95"/>
<circle cx="432.3" cy="2163.4" r="4.3" fill="#3173af" stroke="#1f62a3" stroke-width="0.6" fill-opacity="0.95"/>
<circle cx="429.3" cy="2176.5" r="4.3" fill="#3173af" stroke="#1f62a3" stroke-width="0.6" fill-opacity="0.95"/>
<circle cx="435.3" cy="2176.5" r="4.3" fill="#3173af" stroke="#1f62a3" stroke-width="0.6" fill-opacity="0.95"/>
<circle cx="429.3" cy="2207.1" r="4.3" fill="#3173af" stroke="#1f62a3" stroke-width="0.6" fill-opacity="0.95"/>
<circle cx="435.3" cy="2207.1" r="4.3" fill="#3173af" stroke="#1f62a3" stroke-width="0.6" fill-opacity="0.95"/>
<circle cx="432.3" cy="2225.5" r="4.3" fill="#3173af" stroke="#1f62a3" stroke-width="0.6" fill-opacity="0.95"/>
<circle cx="432.3" cy="2238.6" r="4.3" fill="#3173af" stroke="#1f62a3" stroke-width="0.6" fill-opacity="0.95"/>
<circle cx="432.3" cy="2269.3" r="4.3" fill="#3173af" stroke="#1f62a3" stroke-width="0.6" fill-opacity="0.95"/>
<circle cx="526.4" cy="1937.6" r="4.3" fill="#3173af" stroke="#1f62a3" stroke-width="0.6" fill-opacity="0.95"/>
<circle cx="526.4" cy="1978.8" r="4.3" fill="#3173af" stroke="#1f62a3" stroke-width="0.6" fill-opacity="0.95"/>
<circle cx="526.4" cy="2009.4" r="4.3" fill="#3173af" stroke="#1f62a3" stroke-width="0.6" fill-opacity="0.95"/>
<circle cx="526.4" cy="2040.0" r="4.3" fill="#3173af" stroke="#1f62a3" stroke-width="0.6" fill-opacity="0.95"/>
<circle cx="523.4" cy="2061.0" r="4.3" fill="#3173af" stroke="#1f62a3" stroke-width="0.6" fill-opacity="0.95"/>
<circle cx="529.4" cy="2061.0" r="4.3" fill="#3173af" stroke="#1f62a3" stroke-width="0.6" fill-opacity="0.95"/>
<circle cx="526.4" cy="2065.4" r="4.3" fill="#3173af" stroke="#1f62a3" stroke-width="0.6" fill-opacity="0.95"/>
<circle cx="523.4" cy="2070.6" r="4.3" fill="#3173af" stroke="#1f62a3" stroke-width="0.6" fill-opacity="0.95"/>
<circle cx="529.4" cy="2070.6" r="4.3" fill="#3173af" stroke="#1f62a3" stroke-width="0.6" fill-opacity="0.95"/>
<circle cx="526.4" cy="2076.8" r="4.3" fill="#3173af" stroke="#1f62a3" stroke-width="0.6" fill-opacity="0.95"/>
<circle cx="526.4" cy="2083.8" r="4.3" fill="#3173af" stroke="#1f62a3" stroke-width="0.6" fill-opacity="0.95"/>
<circle cx="517.4" cy="2091.6" r="4.3" fill="#3173af" stroke="#1f62a3" stroke-width="0.6" fill-opacity="0.95"/>
<circle cx="523.4" cy="2091.6" r="4.3" fill="#3173af" stroke="#1f62a3" stroke-width="0.6" fill-opacity="0.95"/>
<circle cx="529.4" cy="2091.6" r="4.3" fill="#3173af" stroke="#1f62a3" stroke-width="0.6" fill-opacity="0.95"/>
<circle cx="535.4" cy="2091.6" r="4.3" fill="#3173af" stroke="#1f62a3" stroke-width="0.6" fill-opacity="0.95"/>
<circle cx="526.4" cy="2097.8" r="4.3" fill="#3173af" stroke="#1f62a3" stroke-width="0.6" fill-opacity="0.95"/>
<circle cx="526.4" cy="2103.0" r="4.3" fill="#3173af" stroke="#1f62a3" stroke-width="0.6" fill-opacity="0.95"/>
<circle cx="526.4" cy="2108.3" r="4.3" fill="#3173af" stroke="#1f62a3" stroke-width="0.6" fill-opacity="0.95"/>
<circle cx="526.4" cy="2114.4" r="4.3" fill="#3173af" stroke="#1f62a3" stroke-width="0.6" fill-opacity="0.95"/>
<circle cx="526.4" cy="2123.1" r="4.3" fill="#3173af" stroke="#1f62a3" stroke-width="0.6" fill-opacity="0.95"/>
<circle cx="526.4" cy="2127.5" r="4.3" fill="#3173af" stroke="#1f62a3" stroke-width="0.6" fill-opacity="0.95"/>
<circle cx="526.4" cy="2138.9" r="4.3" fill="#3173af" stroke="#1f62a3" stroke-width="0.6" fill-opacity="0.95"/>
<circle cx="526.4" cy="2145.9" r="4.3" fill="#3173af" stroke="#1f62a3" stroke-width="0.6" fill-opacity="0.95"/>
<circle cx="526.4" cy="2169.5" r="4.3" fill="#3173af" stroke="#1f62a3" stroke-width="0.6" fill-opacity="0.95"/>
<circle cx="526.4" cy="2184.4" r="4.3" fill="#3173af" stroke="#1f62a3" stroke-width="0.6" fill-opacity="0.95"/>
<circle cx="526.4" cy="2194.9" r="4.3" fill="#3173af" stroke="#1f62a3" stroke-width="0.6" fill-opacity="0.95"/>
<circle cx="526.4" cy="2201.0" r="4.3" fill="#3173af" stroke="#1f62a3" stroke-width="0.6" fill-opacity="0.95"/>
<circle cx="526.4" cy="2207.1" r="4.3" fill="#3173af" stroke="#1f62a3" stroke-width="0.6" fill-opacity="0.95"/>
<circle cx="526.4" cy="2269.3" r="4.3" fill="#3173af" stroke="#1f62a3" stroke-width="0.6" fill-opacity="0.95"/>
<line x1="432.3" y1="2073.8" x2="432.3" y2="2187.0" stroke="#000" stroke-width="3.3" />
<line x1="418.3" y1="2073.8" x2="446.3" y2="2073.8" stroke="#000" stroke-width="3.3" />
<line x1="418.3" y1="2187.0" x2="446.3" y2="2187.0" stroke="#000" stroke-width="3.3" />
<text x="432.3" y="2004.8" font-size="19.4" text-anchor="middle">135</text>
<line x1="526.4" y1="2044.0" x2="526.4" y2="2160.4" stroke="#000" stroke-width="3.3" />
<line x1="512.4" y1="2044.0" x2="540.4" y2="2044.0" stroke="#000" stroke-width="3.3" />
<line x1="512.4" y1="2160.4" x2="540.4" y2="2160.4" stroke="#000" stroke-width="3.3" />
<text x="526.4" y="1968.8" font-size="19.4" text-anchor="middle">254</text>
<line x1="372.9" y1="2348.8" x2="584.2" y2="2348.8" stroke="#000" stroke-width="3.6" />
<line x1="432.3" y1="2348.8" x2="432.3" y2="2355.0" stroke="#000" stroke-width="2.6" />
<text transform="translate(433.6,2388.3) rotate(-45)" font-size="21" text-anchor="middle">Mild</text>
<line x1="526.4" y1="2348.8" x2="526.4" y2="2355.0" stroke="#000" stroke-width="2.6" />
<text transform="translate(525.4,2404.0) rotate(-45)" font-size="21" text-anchor="middle">Moderate</text>
<text x="483.5" y="1788.7" font-size="21.3" text-anchor="middle">Beta</text>
<line x1="429.5" y1="1855.5" x2="537.5" y2="1855.5" stroke="#000" stroke-width="2.6" />
<text x="482.5" y="1850.4" font-size="19.0" text-anchor="middle">1.9x, <tspan font-style="italic">P</tspan> = 0.03</text>
<rect x="627.7" y="2155.1" width="46.0" height="193.7" fill="#fdf4eb" stroke="#000" stroke-width="3.6"/>
<rect x="721.5" y="2139.6" width="46.0" height="209.2" fill="#fdf4eb" stroke="#000" stroke-width="3.6"/>
<line x1="593.2" y1="2287.0" x2="802.7" y2="2287.0" stroke="#000" stroke-width="3.4" stroke-dasharray="13.3 13.2"/>
<circle cx="650.7" cy="2083.8" r="4.3" fill="#d57d33" stroke="#c9691c" stroke-width="0.6" fill-opacity="0.95"/>
<circle cx="650.7" cy="2091.6" r="4.3" fill="#d57d33" stroke="#c9691c" stroke-width="0.6" fill-opacity="0.95"/>
<circle cx="650.7" cy="2096.9" r="4.3" fill="#d57d33" stroke="#c9691c" stroke-width="0.6" fill-opacity="0.95"/>
<circle cx="650.7" cy="2102.1" r="4.3" fill="#d57d33" stroke="#c9691c" stroke-width="0.6" fill-opacity="0.95"/>
<circle cx="650.7" cy="2108.3" r="4.3" fill="#d57d33" stroke="#c9691c" stroke-width="0.6" fill-opacity="0.95"/>
<circle cx="650.7" cy="2114.4" r="4.3" fill="#d57d33" stroke="#c9691c" stroke-width="0.6" fill-opacity="0.95"/>
<circle cx="650.7" cy="2123.1" r="4.3" fill="#d57d33" stroke="#c9691c" stroke-width="0.6" fill-opacity="0.95"/>
<circle cx="650.7" cy="2127.5" r="4.3" fill="#d57d33" stroke="#c9691c" stroke-width="0.6" fill-opacity="0.95"/>
<circle cx="650.7" cy="2132.8" r="4.3" fill="#d57d33" stroke="#c9691c" stroke-width="0.6" fill-opacity="0.95"/>
<circle cx="644.7" cy="2138.0" r="4.3" fill="#d57d33" stroke="#c9691c" stroke-width="0.6" fill-opacity="0.95"/>
<circle cx="650.7" cy="2138.0" r="4.3" fill="#d57d33" stroke="#c9691c" stroke-width="0.6" fill-opacity="0.95"/>
<circle cx="656.7" cy="2138.0" r="4.3" fill="#d57d33" stroke="#c9691c" stroke-width="0.6" fill-opacity="0.95"/>
<circle cx="650.7" cy="2145.0" r="4.3" fill="#d57d33" stroke="#c9691c" stroke-width="0.6" fill-opacity="0.95"/>
<circle cx="647.7" cy="2149.4" r="4.3" fill="#d57d33" stroke="#c9691c" stroke-width="0.6" fill-opacity="0.95"/>
<circle cx="653.7" cy="2149.4" r="4.3" fill="#d57d33" stroke="#c9691c" stroke-width="0.6" fill-opacity="0.95"/>
<circle cx="644.7" cy="2153.8" r="4.3" fill="#d57d33" stroke="#c9691c" stroke-width="0.6" fill-opacity="0.95"/>
<circle cx="650.7" cy="2153.8" r="4.3" fill="#d57d33" stroke="#c9691c" stroke-width="0.6" fill-opacity="0.95"/>
<circle cx="656.7" cy="2153.8" r="4.3" fill="#d57d33" stroke="#c9691c" stroke-width="0.6" fill-opacity="0.95"/>
<circle cx="650.7" cy="2163.4" r="4.3" fill="#d57d33" stroke="#c9691c" stroke-width="0.6" fill-opacity="0.95"/>
<circle cx="650.7" cy="2169.5" r="4.3" fill="#d57d33" stroke="#c9691c" stroke-width="0.6" fill-opacity="0.95"/>
<circle cx="647.7" cy="2176.5" r="4.3" fill="#d57d33" stroke="#c9691c" stroke-width="0.6" fill-opacity="0.95"/>
<circle cx="653.7" cy="2176.5" r="4.3" fill="#d57d33" stroke="#c9691c" stroke-width="0.6" fill-opacity="0.95"/>
<circle cx="650.7" cy="2180.0" r="4.3" fill="#d57d33" stroke="#c9691c" stroke-width="0.6" fill-opacity="0.95"/>
<circle cx="650.7" cy="2184.4" r="4.3" fill="#d57d33" stroke="#c9691c" stroke-width="0.6" fill-opacity="0.95"/>
<circle cx="647.7" cy="2194.9" r="4.3" fill="#d57d33" stroke="#c9691c" stroke-width="0.6" fill-opacity="0.95"/>
<circle cx="653.7" cy="2194.9" r="4.3" fill="#d57d33" stroke="#c9691c" stroke-width="0.6" fill-opacity="0.95"/>
<circle cx="650.7" cy="2215.0" r="4.3" fill="#d57d33" stroke="#c9691c" stroke-width="0.6" fill-opacity="0.95"/>
<circle cx="650.7" cy="2256.1" r="4.3" fill="#d57d33" stroke="#c9691c" stroke-width="0.6" fill-opacity="0.95"/>
<circle cx="650.7" cy="2269.3" r="4.3" fill="#d57d33" stroke="#c9691c" stroke-width="0.6" fill-opacity="0.95"/>
<circle cx="744.5" cy="1978.4" r="4.3" fill="#d57d33" stroke="#c9691c" stroke-width="0.6" fill-opacity="0.95"/>
<circle cx="744.5" cy="2040.0" r="4.3" fill="#d57d33" stroke="#c9691c" stroke-width="0.6" fill-opacity="0.95"/>
<circle cx="744.5" cy="2046.1" r="4.3" fill="#d57d33" stroke="#c9691c" stroke-width="0.6" fill-opacity="0.95"/>
<circle cx="744.5" cy="2076.8" r="4.3" fill="#d57d33" stroke="#c9691c" stroke-width="0.6" fill-opacity="0.95"/>
<circle cx="744.5" cy="2083.8" r="4.3" fill="#d57d33" stroke="#c9691c" stroke-width="0.6" fill-opacity="0.95"/>
<circle cx="744.5" cy="2091.6" r="4.3" fill="#d57d33" stroke="#c9691c" stroke-width="0.6" fill-opacity="0.95"/>
<circle cx="744.5" cy="2100.0" r="4.3" fill="#d57d33" stroke="#c9691c" stroke-width="0.6" fill-opacity="0.95"/>
<circle cx="744.5" cy="2108.3" r="4.3" fill="#d57d33" stroke="#c9691c" stroke-width="0.6" fill-opacity="0.95"/>
<circle cx="744.5" cy="2114.4" r="4.3" fill="#d57d33" stroke="#c9691c" stroke-width="0.6" fill-opacity="0.95"/>
<circle cx="744.5" cy="2123.1" r="4.3" fill="#d57d33" stroke="#c9691c" stroke-width="0.6" fill-opacity="0.95"/>
<circle cx="738.5" cy="2127.5" r="4.3" fill="#d57d33" stroke="#c9691c" stroke-width="0.6" fill-opacity="0.95"/>
<circle cx="744.5" cy="2127.5" r="4.3" fill="#d57d33" stroke="#c9691c" stroke-width="0.6" fill-opacity="0.95"/>
<circle cx="750.5" cy="2127.5" r="4.3" fill="#d57d33" stroke="#c9691c" stroke-width="0.6" fill-opacity="0.95"/>
<circle cx="744.5" cy="2132.8" r="4.3" fill="#d57d33" stroke="#c9691c" stroke-width="0.6" fill-opacity="0.95"/>
<circle cx="738.5" cy="2138.9" r="4.3" fill="#d57d33" stroke="#c9691c" stroke-width="0.6" fill-opacity="0.95"/>
<circle cx="744.5" cy="2138.9" r="4.3" fill="#d57d33" stroke="#c9691c" stroke-width="0.6" fill-opacity="0.95"/>
<circle cx="750.5" cy="2138.9" r="4.3" fill="#d57d33" stroke="#c9691c" stroke-width="0.6" fill-opacity="0.95"/>
<circle cx="738.5" cy="2145.0" r="4.3" fill="#d57d33" stroke="#c9691c" stroke-width="0.6" fill-opacity="0.95"/>
<circle cx="744.5" cy="2145.0" r="4.3" fill="#d57d33" stroke="#c9691c" stroke-width="0.6" fill-opacity="0.95"/>
<circle cx="750.5" cy="2145.0" r="4.3" fill="#d57d33" stroke="#c9691c" stroke-width="0.6" fill-opacity="0.95"/>
<circle cx="744.5" cy="2153.8" r="4.3" fill="#d57d33" stroke="#c9691c" stroke-width="0.6" fill-opacity="0.95"/>
<circle cx="738.5" cy="2158.1" r="4.3" fill="#d57d33" stroke="#c9691c" stroke-width="0.6" fill-opacity="0.95"/>
<circle cx="744.5" cy="2158.1" r="4.3" fill="#d57d33" stroke="#c9691c" stroke-width="0.6" fill-opacity="0.95"/>
<circle cx="750.5" cy="2158.1" r="4.3" fill="#d57d33" stroke="#c9691c" stroke-width="0.6" fill-opacity="0.95"/>
<circle cx="738.5" cy="2163.4" r="4.3" fill="#d57d33" stroke="#c9691c" stroke-width="0.6" fill-opacity="0.95"/>
<circle cx="744.5" cy="2163.4" r="4.3" fill="#d57d33" stroke="#c9691c" stroke-width="0.6" fill-opacity="0.95"/>
<circle cx="750.5" cy="2163.4" r="4.3" fill="#d57d33" stroke="#c9691c" stroke-width="0.6" fill-opacity="0.95"/>
<circle cx="744.5" cy="2169.5" r="4.3" fill="#d57d33" stroke="#c9691c" stroke-width="0.6" fill-opacity="0.95"/>
<circle cx="744.5" cy="2184.4" r="4.3" fill="#d57d33" stroke="#c9691c" stroke-width="0.6" fill-opacity="0.95"/>
<circle cx="744.5" cy="2194.9" r="4.3" fill="#d57d33" stroke="#c9691c" stroke-width="0.6" fill-opacity="0.95"/>
<circle cx="741.5" cy="2201.0" r="4.3" fill="#d57d33" stroke="#c9691c" stroke-width="0.6" fill-opacity="0.95"/>
<circle cx="747.5" cy="2201.0" r="4.3" fill="#d57d33" stroke="#c9691c" stroke-width="0.6" fill-opacity="0.95"/>
<circle cx="744.5" cy="2207.1" r="4.3" fill="#d57d33" stroke="#c9691c" stroke-width="0.6" fill-opacity="0.95"/>
<circle cx="744.5" cy="2220.3" r="4.3" fill="#d57d33" stroke="#c9691c" stroke-width="0.6" fill-opacity="0.95"/>
<circle cx="744.5" cy="2231.6" r="4.3" fill="#d57d33" stroke="#c9691c" stroke-width="0.6" fill-opacity="0.95"/>
<line x1="650.7" y1="2113.9" x2="650.7" y2="2197.2" stroke="#000" stroke-width="3.3" />
<line x1="636.7" y1="2113.9" x2="664.7" y2="2113.9" stroke="#000" stroke-width="3.3" />
<line x1="636.7" y1="2197.2" x2="664.7" y2="2197.2" stroke="#000" stroke-width="3.3" />
<text x="650.7" y="2072.4" font-size="19.4" text-anchor="middle">77</text>
<line x1="744.5" y1="2089.9" x2="744.5" y2="2189.6" stroke="#000" stroke-width="3.3" />
<line x1="730.5" y1="2089.9" x2="758.5" y2="2089.9" stroke="#000" stroke-width="3.3" />
<line x1="730.5" y1="2189.6" x2="758.5" y2="2189.6" stroke="#000" stroke-width="3.3" />
<text x="744.5" y="2015.3" font-size="19.4" text-anchor="middle">109</text>
<line x1="591.7" y1="2348.8" x2="802.7" y2="2348.8" stroke="#000" stroke-width="3.6" />
<line x1="650.7" y1="2348.8" x2="650.7" y2="2355.0" stroke="#000" stroke-width="2.6" />
<text transform="translate(652.5,2388.3) rotate(-45)" font-size="21" text-anchor="middle">Mild</text>
<line x1="744.5" y1="2348.8" x2="744.5" y2="2355.0" stroke="#000" stroke-width="2.6" />
<text transform="translate(743.5,2404.0) rotate(-45)" font-size="21" text-anchor="middle">Moderate</text>
<text x="701.7" y="1788.7" font-size="21.3" text-anchor="middle">Omicron</text>
<line x1="648.4" y1="1855.5" x2="756.3" y2="1855.5" stroke="#000" stroke-width="2.6" />
<text x="702.2" y="1850.4" font-size="19.0" text-anchor="middle">1.4x, <tspan font-style="italic">P</tspan> = 0.28</text>
<line x1="157.9" y1="1834.1" x2="157.9" y2="2350.3" stroke="#000" stroke-width="3.3" />
<line x1="151.6" y1="2348.8" x2="157.9" y2="2348.8" stroke="#000" stroke-width="2.5" />
<text x="138.4" y="2359.1" font-size="21" text-anchor="end">10</text>
<text x="139.0" y="2349.6" font-size="14.5">0</text>
<line x1="153.6" y1="2317.9" x2="157.9" y2="2317.9" stroke="#000" stroke-width="2.3" />
<line x1="153.6" y1="2299.8" x2="157.9" y2="2299.8" stroke="#000" stroke-width="2.3" />
<line x1="153.6" y1="2287.0" x2="157.9" y2="2287.0" stroke="#000" stroke-width="2.3" />
<line x1="153.6" y1="2277.0" x2="157.9" y2="2277.0" stroke="#000" stroke-width="2.3" />
<line x1="153.6" y1="2268.9" x2="157.9" y2="2268.9" stroke="#000" stroke-width="2.3" />
<line x1="153.6" y1="2262.0" x2="157.9" y2="2262.0" stroke="#000" stroke-width="2.3" />
<line x1="153.6" y1="2256.1" x2="157.9" y2="2256.1" stroke="#000" stroke-width="2.3" />
<line x1="153.6" y1="2250.8" x2="157.9" y2="2250.8" stroke="#000" stroke-width="2.3" />
<line x1="151.6" y1="2246.1" x2="157.9" y2="2246.1" stroke="#000" stroke-width="2.5" />
<text x="138.4" y="2256.4" font-size="21" text-anchor="end">10</text>
<text x="139.0" y="2246.9" font-size="14.5">1</text>
<line x1="153.6" y1="2215.2" x2="157.9" y2="2215.2" stroke="#000" stroke-width="2.3" />
<line x1="153.6" y1="2197.1" x2="157.9" y2="2197.1" stroke="#000" stroke-width="2.3" />
<line x1="153.6" y1="2184.3" x2="157.9" y2="2184.3" stroke="#000" stroke-width="2.3" />
<line x1="153.6" y1="2174.3" x2="157.9" y2="2174.3" stroke="#000" stroke-width="2.3" />
<line x1="153.6" y1="2166.2" x2="157.9" y2="2166.2" stroke="#000" stroke-width="2.3" />
<line x1="153.6" y1="2159.3" x2="157.9" y2="2159.3" stroke="#000" stroke-width="2.3" />
<line x1="153.6" y1="2153.4" x2="157.9" y2="2153.4" stroke="#000" stroke-width="2.3" />
<line x1="153.6" y1="2148.1" x2="157.9" y2="2148.1" stroke="#000" stroke-width="2.3" />
<line x1="151.6" y1="2143.4" x2="157.9" y2="2143.4" stroke="#000" stroke-width="2.5" />
<text x="138.4" y="2153.7" font-size="21" text-anchor="end">10</text>
<text x="139.0" y="2144.2" font-size="14.5">2</text>
<line x1="153.6" y1="2112.5" x2="157.9" y2="2112.5" stroke="#000" stroke-width="2.3" />
<line x1="153.6" y1="2094.4" x2="157.9" y2="2094.4" stroke="#000" stroke-width="2.3" />
<line x1="153.6" y1="2081.6" x2="157.9" y2="2081.6" stroke="#000" stroke-width="2.3" />
<line x1="153.6" y1="2071.6" x2="157.9" y2="2071.6" stroke="#000" stroke-width="2.3" />
<line x1="153.6" y1="2063.5" x2="157.9" y2="2063.5" stroke="#000" stroke-width="2.3" />
<line x1="153.6" y1="2056.6" x2="157.9" y2="2056.6" stroke="#000" stroke-width="2.3" />
<line x1="153.6" y1="2050.7" x2="157.9" y2="2050.7" stroke="#000" stroke-width="2.3" />
<line x1="153.6" y1="2045.4" x2="157.9" y2="2045.4" stroke="#000" stroke-width="2.3" />
<line x1="151.6" y1="2040.7" x2="157.9" y2="2040.7" stroke="#000" stroke-width="2.5" />
<text x="138.4" y="2051.0" font-size="21" text-anchor="end">10</text>
<text x="139.0" y="2041.5" font-size="14.5">3</text>
<line x1="153.6" y1="2009.8" x2="157.9" y2="2009.8" stroke="#000" stroke-width="2.3" />
<line x1="153.6" y1="1991.7" x2="157.9" y2="1991.7" stroke="#000" stroke-width="2.3" />
<line x1="153.6" y1="1978.9" x2="157.9" y2="1978.9" stroke="#000" stroke-width="2.3" />
<line x1="153.6" y1="1968.9" x2="157.9" y2="1968.9" stroke="#000" stroke-width="2.3" />
<line x1="153.6" y1="1960.8" x2="157.9" y2="1960.8" stroke="#000" stroke-width="2.3" />
<line x1="153.6" y1="1953.9" x2="157.9" y2="1953.9" stroke="#000" stroke-width="2.3" />
<line x1="153.6" y1="1948.0" x2="157.9" y2="1948.0" stroke="#000" stroke-width="2.3" />
<line x1="153.6" y1="1942.7" x2="157.9" y2="1942.7" stroke="#000" stroke-width="2.3" />
<line x1="151.6" y1="1938.0" x2="157.9" y2="1938.0" stroke="#000" stroke-width="2.5" />
<text x="138.4" y="1948.3" font-size="21" text-anchor="end">10</text>
<text x="139.0" y="1938.8" font-size="14.5">4</text>
<line x1="153.6" y1="1907.1" x2="157.9" y2="1907.1" stroke="#000" stroke-width="2.3" />
<line x1="153.6" y1="1889.0" x2="157.9" y2="1889.0" stroke="#000" stroke-width="2.3" />
<line x1="153.6" y1="1876.2" x2="157.9" y2="1876.2" stroke="#000" stroke-width="2.3" />
<line x1="153.6" y1="1866.2" x2="157.9" y2="1866.2" stroke="#000" stroke-width="2.3" />
<line x1="153.6" y1="1858.1" x2="157.9" y2="1858.1" stroke="#000" stroke-width="2.3" />
<line x1="153.6" y1="1851.2" x2="157.9" y2="1851.2" stroke="#000" stroke-width="2.3" />
<line x1="153.6" y1="1845.3" x2="157.9" y2="1845.3" stroke="#000" stroke-width="2.3" />
<line x1="153.6" y1="1840.0" x2="157.9" y2="1840.0" stroke="#000" stroke-width="2.3" />
<line x1="151.6" y1="1835.3" x2="157.9" y2="1835.3" stroke="#000" stroke-width="2.5" />
<text x="138.4" y="1845.6" font-size="21" text-anchor="end">10</text>
<text x="139.0" y="1836.1" font-size="14.5">5</text>
<text x="826.5" y="1749.0" font-size="36" font-weight="bold">g</text>
<text x="850.1" y="1797.6" font-size="24.3">strain</text>
<rect x="851.2" y="1814.0" width="24.6" height="23.8" fill="#f9ebe8" stroke="#000" stroke-width="3.3"/>
<circle cx="863.6" cy="1825.9" r="4.5" fill="#ae3f2d"/>
<text x="889.3" y="1833.8" font-size="20.9">WT</text>
<rect x="851.2" y="1841.0" width="24.6" height="23.8" fill="#eef1fa" stroke="#000" stroke-width="3.3"/>
<circle cx="863.6" cy="1852.9" r="4.5" fill="#3173af"/>
<text x="889.3" y="1860.8" font-size="20.9">Beta</text>
<rect x="851.2" y="1868.0" width="24.6" height="23.8" fill="#fdf4eb" stroke="#000" stroke-width="3.3"/>
<circle cx="863.6" cy="1879.9" r="4.5" fill="#d57d33"/>
<text x="889.3" y="1887.8" font-size="20.9">Omicron</text>
<text transform="translate(892.7,2287.1) rotate(-90)" font-size="24.2">NT<tspan font-size="16.3" dy="6">50</tspan><tspan dy="-6">(Reciprocal plasma dilution)</tspan></text>
<rect x="1028.3" y="2082.6" width="45.0" height="267.0" fill="#f9ebe8" stroke="#000" stroke-width="3.6"/>
<rect x="1121.9" y="2047.1" width="45.0" height="302.5" fill="#f9ebe8" stroke="#000" stroke-width="3.6"/>
<line x1="994.0" y1="2287.7" x2="1201.7" y2="2287.7" stroke="#000" stroke-width="3.4" stroke-dasharray="13.3 13.2"/>
<circle cx="1050.8" cy="1948.1" r="4.3" fill="#ae3f2d" stroke="#a92a1a" stroke-width="0.6" fill-opacity="0.95"/>
<circle cx="1050.8" cy="1979.6" r="4.3" fill="#ae3f2d" stroke="#a92a1a" stroke-width="0.6" fill-opacity="0.95"/>
<circle cx="1050.8" cy="1991.9" r="4.3" fill="#ae3f2d" stroke="#a92a1a" stroke-width="0.6" fill-opacity="0.95"/>
<circle cx="1050.8" cy="2010.3" r="4.3" fill="#ae3f2d" stroke="#a92a1a" stroke-width="0.6" fill-opacity="0.95"/>
<circle cx="1047.8" cy="2022.5" r="4.3" fill="#ae3f2d" stroke="#a92a1a" stroke-width="0.6" fill-opacity="0.95"/>
<circle cx="1053.8" cy="2022.5" r="4.3" fill="#ae3f2d" stroke="#a92a1a" stroke-width="0.6" fill-opacity="0.95"/>
<circle cx="1047.8" cy="2040.0" r="4.3" fill="#ae3f2d" stroke="#a92a1a" stroke-width="0.6" fill-opacity="0.95"/>
<circle cx="1053.8" cy="2040.0" r="4.3" fill="#ae3f2d" stroke="#a92a1a" stroke-width="0.6" fill-opacity="0.95"/>
<circle cx="1047.8" cy="2054.0" r="4.3" fill="#ae3f2d" stroke="#a92a1a" stroke-width="0.6" fill-opacity="0.95"/>
<circle cx="1053.8" cy="2054.0" r="4.3" fill="#ae3f2d" stroke="#a92a1a" stroke-width="0.6" fill-opacity="0.95"/>
<circle cx="1041.8" cy="2071.5" r="4.3" fill="#ae3f2d" stroke="#a92a1a" stroke-width="0.6" fill-opacity="0.95"/>
<circle cx="1047.8" cy="2071.5" r="4.3" fill="#ae3f2d" stroke="#a92a1a" stroke-width="0.6" fill-opacity="0.95"/>
<circle cx="1053.8" cy="2071.5" r="4.3" fill="#ae3f2d" stroke="#a92a1a" stroke-width="0.6" fill-opacity="0.95"/>
<circle cx="1059.8" cy="2071.5" r="4.3" fill="#ae3f2d" stroke="#a92a1a" stroke-width="0.6" fill-opacity="0.95"/>
<circle cx="1041.8" cy="2084.6" r="4.3" fill="#ae3f2d" stroke="#a92a1a" stroke-width="0.6" fill-opacity="0.95"/>
<circle cx="1047.8" cy="2084.6" r="4.3" fill="#ae3f2d" stroke="#a92a1a" stroke-width="0.6" fill-opacity="0.95"/>
<circle cx="1053.8" cy="2084.6" r="4.3" fill="#ae3f2d" stroke="#a92a1a" stroke-width="0.6" fill-opacity="0.95"/>
<circle cx="1059.8" cy="2084.6" r="4.3" fill="#ae3f2d" stroke="#a92a1a" stroke-width="0.6" fill-opacity="0.95"/>
<circle cx="1044.8" cy="2103.0" r="4.3" fill="#ae3f2d" stroke="#a92a1a" stroke-width="0.6" fill-opacity="0.95"/>
<circle cx="1050.8" cy="2103.0" r="4.3" fill="#ae3f2d" stroke="#a92a1a" stroke-width="0.6" fill-opacity="0.95"/>
<circle cx="1056.8" cy="2103.0" r="4.3" fill="#ae3f2d" stroke="#a92a1a" stroke-width="0.6" fill-opacity="0.95"/>
<circle cx="1044.8" cy="2115.3" r="4.3" fill="#ae3f2d" stroke="#a92a1a" stroke-width="0.6" fill-opacity="0.95"/>
<circle cx="1050.8" cy="2115.3" r="4.3" fill="#ae3f2d" stroke="#a92a1a" stroke-width="0.6" fill-opacity="0.95"/>
<circle cx="1056.8" cy="2115.3" r="4.3" fill="#ae3f2d" stroke="#a92a1a" stroke-width="0.6" fill-opacity="0.95"/>
<circle cx="1047.8" cy="2133.6" r="4.3" fill="#ae3f2d" stroke="#a92a1a" stroke-width="0.6" fill-opacity="0.95"/>
<circle cx="1053.8" cy="2133.6" r="4.3" fill="#ae3f2d" stroke="#a92a1a" stroke-width="0.6" fill-opacity="0.95"/>
<circle cx="1047.8" cy="2146.8" r="4.3" fill="#ae3f2d" stroke="#a92a1a" stroke-width="0.6" fill-opacity="0.95"/>
<circle cx="1053.8" cy="2146.8" r="4.3" fill="#ae3f2d" stroke="#a92a1a" stroke-width="0.6" fill-opacity="0.95"/>
<circle cx="1050.8" cy="2164.3" r="4.3" fill="#ae3f2d" stroke="#a92a1a" stroke-width="0.6" fill-opacity="0.95"/>
<circle cx="1050.8" cy="2177.4" r="4.3" fill="#ae3f2d" stroke="#a92a1a" stroke-width="0.6" fill-opacity="0.95"/>
<circle cx="1144.4" cy="1912.3" r="4.3" fill="#ae3f2d" stroke="#a92a1a" stroke-width="0.6" fill-opacity="0.95"/>
<circle cx="1144.4" cy="1954.6" r="4.3" fill="#ae3f2d" stroke="#a92a1a" stroke-width="0.6" fill-opacity="0.95"/>
<circle cx="1144.4" cy="1985.8" r="4.3" fill="#ae3f2d" stroke="#a92a1a" stroke-width="0.6" fill-opacity="0.95"/>
<circle cx="1144.4" cy="1991.0" r="4.3" fill="#ae3f2d" stroke="#a92a1a" stroke-width="0.6" fill-opacity="0.95"/>
<circle cx="1144.4" cy="1996.0" r="4.3" fill="#ae3f2d" stroke="#a92a1a" stroke-width="0.6" fill-opacity="0.95"/>
<circle cx="1144.4" cy="2000.6" r="4.3" fill="#ae3f2d" stroke="#a92a1a" stroke-width="0.6" fill-opacity="0.95"/>
<circle cx="1144.4" cy="2015.5" r="4.3" fill="#ae3f2d" stroke="#a92a1a" stroke-width="0.6" fill-opacity="0.95"/>
<circle cx="1144.4" cy="2022.5" r="4.3" fill="#ae3f2d" stroke="#a92a1a" stroke-width="0.6" fill-opacity="0.95"/>
<circle cx="1144.4" cy="2030.4" r="4.3" fill="#ae3f2d" stroke="#a92a1a" stroke-width="0.6" fill-opacity="0.95"/>
<circle cx="1144.4" cy="2040.9" r="4.3" fill="#ae3f2d" stroke="#a92a1a" stroke-width="0.6" fill-opacity="0.95"/>
<circle cx="1144.4" cy="2047.0" r="4.3" fill="#ae3f2d" stroke="#a92a1a" stroke-width="0.6" fill-opacity="0.95"/>
<circle cx="1144.4" cy="2054.0" r="4.3" fill="#ae3f2d" stroke="#a92a1a" stroke-width="0.6" fill-opacity="0.95"/>
<circle cx="1144.4" cy="2061.0" r="4.3" fill="#ae3f2d" stroke="#a92a1a" stroke-width="0.6" fill-opacity="0.95"/>
<circle cx="1144.4" cy="2068.0" r="4.3" fill="#ae3f2d" stroke="#a92a1a" stroke-width="0.6" fill-opacity="0.95"/>
<circle cx="1144.4" cy="2077.6" r="4.3" fill="#ae3f2d" stroke="#a92a1a" stroke-width="0.6" fill-opacity="0.95"/>
<circle cx="1144.4" cy="2084.6" r="4.3" fill="#ae3f2d" stroke="#a92a1a" stroke-width="0.6" fill-opacity="0.95"/>
<circle cx="1144.4" cy="2092.5" r="4.3" fill="#ae3f2d" stroke="#a92a1a" stroke-width="0.6" fill-opacity="0.95"/>
<circle cx="1144.4" cy="2115.3" r="4.3" fill="#ae3f2d" stroke="#a92a1a" stroke-width="0.6" fill-opacity="0.95"/>
<circle cx="1144.4" cy="2124.0" r="4.3" fill="#ae3f2d" stroke="#a92a1a" stroke-width="0.6" fill-opacity="0.95"/>
<circle cx="1144.4" cy="2159.0" r="4.3" fill="#ae3f2d" stroke="#a92a1a" stroke-width="0.6" fill-opacity="0.95"/>
<circle cx="1144.4" cy="2226.4" r="4.3" fill="#ae3f2d" stroke="#a92a1a" stroke-width="0.6" fill-opacity="0.95"/>
<line x1="1050.8" y1="2042.6" x2="1050.8" y2="2123.7" stroke="#000" stroke-width="3.3" />
<line x1="1036.8" y1="2042.6" x2="1064.8" y2="2042.6" stroke="#000" stroke-width="3.3" />
<line x1="1036.8" y1="2123.7" x2="1064.8" y2="2123.7" stroke="#000" stroke-width="3.3" />
<text x="1050.8" y="1968.2" font-size="19.4" text-anchor="middle">396</text>
<line x1="1144.4" y1="1995.0" x2="1144.4" y2="2101.3" stroke="#000" stroke-width="3.3" />
<line x1="1130.4" y1="1995.0" x2="1158.4" y2="1995.0" stroke="#000" stroke-width="3.3" />
<line x1="1130.4" y1="2101.3" x2="1158.4" y2="2101.3" stroke="#000" stroke-width="3.3" />
<text x="1144.4" y="1941.3" font-size="19.4" text-anchor="middle">877</text>
<line x1="994.0" y1="2349.6" x2="1201.7" y2="2349.6" stroke="#000" stroke-width="3.6" />
<line x1="1050.8" y1="2349.6" x2="1050.8" y2="2355.8" stroke="#000" stroke-width="2.6" />
<text transform="translate(1032.0,2415.9) rotate(-45)" font-size="21" text-anchor="middle">3x CoronaVac</text>
<line x1="1144.4" y1="2349.6" x2="1144.4" y2="2355.8" stroke="#000" stroke-width="2.6" />
<text transform="translate(1112.5,2424.1) rotate(-45)" font-size="21" text-anchor="middle">3x CoronaVac</text>
<text transform="translate(1133.2,2444.8) rotate(-45)" font-size="21" text-anchor="middle">-&gt; BA.1 infection</text>
<text x="1094.2" y="1794.6" font-size="21.3" text-anchor="middle">WT</text>
<line x1="1034.7" y1="1857.7" x2="1160.0" y2="1857.7" stroke="#000" stroke-width="2.6" />
<text x="1098.0" y="1850.8" font-size="19.0" text-anchor="middle">2.2x, <tspan font-style="italic">P</tspan> &lt; 0.001</text>
<rect x="1247.0" y="2175.8" width="45.0" height="173.8" fill="#eef1fa" stroke="#000" stroke-width="3.6"/>
<rect x="1340.7" y="2108.8" width="45.0" height="240.8" fill="#eef1fa" stroke="#000" stroke-width="3.6"/>
<line x1="1211.5" y1="2287.7" x2="1420.8" y2="2287.7" stroke="#000" stroke-width="3.4" stroke-dasharray="13.3 13.2"/>
<circle cx="1269.5" cy="2041.3" r="4.3" fill="#3173af" stroke="#1f62a3" stroke-width="0.6" fill-opacity="0.95"/>
<circle cx="1269.5" cy="2071.9" r="4.3" fill="#3173af" stroke="#1f62a3" stroke-width="0.6" fill-opacity="0.95"/>
<circle cx="1266.5" cy="2085.0" r="4.3" fill="#3173af" stroke="#1f62a3" stroke-width="0.6" fill-opacity="0.95"/>
<circle cx="1272.5" cy="2085.0" r="4.3" fill="#3173af" stroke="#1f62a3" stroke-width="0.6" fill-opacity="0.95"/>
<circle cx="1266.5" cy="2102.5" r="4.3" fill="#3173af" stroke="#1f62a3" stroke-width="0.6" fill-opacity="0.95"/>
<circle cx="1272.5" cy="2102.5" r="4.3" fill="#3173af" stroke="#1f62a3" stroke-width="0.6" fill-opacity="0.95"/>
<circle cx="1266.5" cy="2115.6" r="4.3" fill="#3173af" stroke="#1f62a3" stroke-width="0.6" fill-opacity="0.95"/>
<circle cx="1272.5" cy="2115.6" r="4.3" fill="#3173af" stroke="#1f62a3" stroke-width="0.6" fill-opacity="0.95"/>
<circle cx="1266.5" cy="2134.0" r="4.3" fill="#3173af" stroke="#1f62a3" stroke-width="0.6" fill-opacity="0.95"/>
<circle cx="1272.5" cy="2134.0" r="4.3" fill="#3173af" stroke="#1f62a3" stroke-width="0.6" fill-opacity="0.95"/>
<circle cx="1263.5" cy="2146.3" r="4.3" fill="#3173af" stroke="#1f62a3" stroke-width="0.6" fill-opacity="0.95"/>
<circle cx="1269.5" cy="2146.3" r="4.3" fill="#3173af" stroke="#1f62a3" stroke-width="0.6" fill-opacity="0.95"/>
<circle cx="1275.5" cy="2146.3" r="4.3" fill="#3173af" stroke="#1f62a3" stroke-width="0.6" fill-opacity="0.95"/>
<circle cx="1263.5" cy="2164.6" r="4.3" fill="#3173af" stroke="#1f62a3" stroke-width="0.6" fill-opacity="0.95"/>
<circle cx="1269.5" cy="2164.6" r="4.3" fill="#3173af" stroke="#1f62a3" stroke-width="0.6" fill-opacity="0.95"/>
<circle cx="1275.5" cy="2164.6" r="4.3" fill="#3173af" stroke="#1f62a3" stroke-width="0.6" fill-opacity="0.95"/>
<circle cx="1263.5" cy="2177.8" r="4.3" fill="#3173af" stroke="#1f62a3" stroke-width="0.6" fill-opacity="0.95"/>
<circle cx="1269.5" cy="2177.8" r="4.3" fill="#3173af" stroke="#1f62a3" stroke-width="0.6" fill-opacity="0.95"/>
<circle cx="1275.5" cy="2177.8" r="4.3" fill="#3173af" stroke="#1f62a3" stroke-width="0.6" fill-opacity="0.95"/>
<circle cx="1263.5" cy="2195.3" r="4.3" fill="#3173af" stroke="#1f62a3" stroke-width="0.6" fill-opacity="0.95"/>
<circle cx="1269.5" cy="2195.3" r="4.3" fill="#3173af" stroke="#1f62a3" stroke-width="0.6" fill-opacity="0.95"/>
<circle cx="1275.5" cy="2195.3" r="4.3" fill="#3173af" stroke="#1f62a3" stroke-width="0.6" fill-opacity="0.95"/>
<circle cx="1263.5" cy="2208.4" r="4.3" fill="#3173af" stroke="#1f62a3" stroke-width="0.6" fill-opacity="0.95"/>
<circle cx="1269.5" cy="2208.4" r="4.3" fill="#3173af" stroke="#1f62a3" stroke-width="0.6" fill-opacity="0.95"/>
<circle cx="1275.5" cy="2208.4" r="4.3" fill="#3173af" stroke="#1f62a3" stroke-width="0.6" fill-opacity="0.95"/>
<circle cx="1266.5" cy="2227.6" r="4.3" fill="#3173af" stroke="#1f62a3" stroke-width="0.6" fill-opacity="0.95"/>
<circle cx="1272.5" cy="2227.6" r="4.3" fill="#3173af" stroke="#1f62a3" stroke-width="0.6" fill-opacity="0.95"/>
<circle cx="1269.5" cy="2239.0" r="4.3" fill="#3173af" stroke="#1f62a3" stroke-width="0.6" fill-opacity="0.95"/>
<circle cx="1269.5" cy="2257.4" r="4.3" fill="#3173af" stroke="#1f62a3" stroke-width="0.6" fill-opacity="0.95"/>
<circle cx="1263.5" cy="2288.0" r="4.3" fill="#3173af" stroke="#1f62a3" stroke-width="0.6" fill-opacity="0.95"/>
<circle cx="1269.5" cy="2288.0" r="4.3" fill="#3173af" stroke="#1f62a3" stroke-width="0.6" fill-opacity="0.95"/>
<circle cx="1275.5" cy="2288.0" r="4.3" fill="#3173af" stroke="#1f62a3" stroke-width="0.6" fill-opacity="0.95"/>
<circle cx="1363.2" cy="2010.1" r="4.3" fill="#3173af" stroke="#1f62a3" stroke-width="0.6" fill-opacity="0.95"/>
<circle cx="1363.2" cy="2022.9" r="4.3" fill="#3173af" stroke="#1f62a3" stroke-width="0.6" fill-opacity="0.95"/>
<circle cx="1363.2" cy="2060.5" r="4.3" fill="#3173af" stroke="#1f62a3" stroke-width="0.6" fill-opacity="0.95"/>
<circle cx="1363.2" cy="2065.8" r="4.3" fill="#3173af" stroke="#1f62a3" stroke-width="0.6" fill-opacity="0.95"/>
<circle cx="1363.2" cy="2071.0" r="4.3" fill="#3173af" stroke="#1f62a3" stroke-width="0.6" fill-opacity="0.95"/>
<circle cx="1363.2" cy="2076.2" r="4.3" fill="#3173af" stroke="#1f62a3" stroke-width="0.6" fill-opacity="0.95"/>
<circle cx="1363.2" cy="2081.5" r="4.3" fill="#3173af" stroke="#1f62a3" stroke-width="0.6" fill-opacity="0.95"/>
<circle cx="1363.2" cy="2086.8" r="4.3" fill="#3173af" stroke="#1f62a3" stroke-width="0.6" fill-opacity="0.95"/>
<circle cx="1363.2" cy="2092.0" r="4.3" fill="#3173af" stroke="#1f62a3" stroke-width="0.6" fill-opacity="0.95"/>
<circle cx="1363.2" cy="2097.2" r="4.3" fill="#3173af" stroke="#1f62a3" stroke-width="0.6" fill-opacity="0.95"/>
<circle cx="1363.2" cy="2102.5" r="4.3" fill="#3173af" stroke="#1f62a3" stroke-width="0.6" fill-opacity="0.95"/>
<circle cx="1363.2" cy="2107.8" r="4.3" fill="#3173af" stroke="#1f62a3" stroke-width="0.6" fill-opacity="0.95"/>
<circle cx="1363.2" cy="2113.0" r="4.3" fill="#3173af" stroke="#1f62a3" stroke-width="0.6" fill-opacity="0.95"/>
<circle cx="1363.2" cy="2118.2" r="4.3" fill="#3173af" stroke="#1f62a3" stroke-width="0.6" fill-opacity="0.95"/>
<circle cx="1363.2" cy="2123.5" r="4.3" fill="#3173af" stroke="#1f62a3" stroke-width="0.6" fill-opacity="0.95"/>
<circle cx="1363.2" cy="2128.8" r="4.3" fill="#3173af" stroke="#1f62a3" stroke-width="0.6" fill-opacity="0.95"/>
<circle cx="1363.2" cy="2134.0" r="4.3" fill="#3173af" stroke="#1f62a3" stroke-width="0.6" fill-opacity="0.95"/>
<circle cx="1363.2" cy="2139.2" r="4.3" fill="#3173af" stroke="#1f62a3" stroke-width="0.6" fill-opacity="0.95"/>
<circle cx="1363.2" cy="2144.5" r="4.3" fill="#3173af" stroke="#1f62a3" stroke-width="0.6" fill-opacity="0.95"/>
<circle cx="1363.2" cy="2149.8" r="4.3" fill="#3173af" stroke="#1f62a3" stroke-width="0.6" fill-opacity="0.95"/>
<circle cx="1363.2" cy="2155.0" r="4.3" fill="#3173af" stroke="#1f62a3" stroke-width="0.6" fill-opacity="0.95"/>
<circle cx="1363.2" cy="2185.6" r="4.3" fill="#3173af" stroke="#1f62a3" stroke-width="0.6" fill-opacity="0.95"/>
<circle cx="1363.2" cy="2201.4" r="4.3" fill="#3173af" stroke="#1f62a3" stroke-width="0.6" fill-opacity="0.95"/>
<circle cx="1363.2" cy="2208.4" r="4.3" fill="#3173af" stroke="#1f62a3" stroke-width="0.6" fill-opacity="0.95"/>
<circle cx="1363.2" cy="2226.8" r="4.3" fill="#3173af" stroke="#1f62a3" stroke-width="0.6" fill-opacity="0.95"/>
<circle cx="1363.2" cy="2270.5" r="4.3" fill="#3173af" stroke="#1f62a3" stroke-width="0.6" fill-opacity="0.95"/>
<line x1="1269.5" y1="2128.8" x2="1269.5" y2="2225.0" stroke="#000" stroke-width="3.3" />
<line x1="1255.5" y1="2128.8" x2="1283.5" y2="2128.8" stroke="#000" stroke-width="3.3" />
<line x1="1255.5" y1="2225.0" x2="1283.5" y2="2225.0" stroke="#000" stroke-width="3.3" />
<text x="1269.5" y="2028.9" font-size="19.4" text-anchor="middle">49</text>
<line x1="1363.2" y1="2058.4" x2="1363.2" y2="2160.3" stroke="#000" stroke-width="3.3" />
<line x1="1349.2" y1="2058.4" x2="1377.2" y2="2058.4" stroke="#000" stroke-width="3.3" />
<line x1="1349.2" y1="2160.3" x2="1377.2" y2="2160.3" stroke="#000" stroke-width="3.3" />
<text x="1363.2" y="1997.4" font-size="19.4" text-anchor="middle">220</text>
<line x1="1210.0" y1="2349.6" x2="1420.8" y2="2349.6" stroke="#000" stroke-width="3.6" />
<line x1="1269.5" y1="2349.6" x2="1269.5" y2="2355.8" stroke="#000" stroke-width="2.6" />
<text transform="translate(1251.2,2415.9) rotate(-45)" font-size="21" text-anchor="middle">3x CoronaVac</text>
<line x1="1363.2" y1="2349.6" x2="1363.2" y2="2355.8" stroke="#000" stroke-width="2.6" />
<text transform="translate(1331.3,2424.1) rotate(-45)" font-size="21" text-anchor="middle">3x CoronaVac</text>
<text transform="translate(1352.0,2444.8) rotate(-45)" font-size="21" text-anchor="middle">-&gt; BA.1 infection</text>
<text x="1313.2" y="1794.6" font-size="21.3" text-anchor="middle">Beta</text>
<line x1="1253.5" y1="1856.8" x2="1378.7" y2="1856.8" stroke="#000" stroke-width="2.6" />
<text x="1315.0" y="1850.2" font-size="19.0" text-anchor="middle">4.5x, <tspan font-style="italic">P</tspan> &lt; 0.001</text>
<rect x="1465.3" y="2238.7" width="45.0" height="110.9" fill="#fdf4eb" stroke="#000" stroke-width="3.6"/>
<rect x="1558.9" y="2142.2" width="45.0" height="207.4" fill="#fdf4eb" stroke="#000" stroke-width="3.6"/>
<line x1="1430.7" y1="2287.7" x2="1639.2" y2="2287.7" stroke="#000" stroke-width="3.4" stroke-dasharray="13.3 13.2"/>
<circle cx="1487.8" cy="2133.9" r="4.3" fill="#d57d33" stroke="#c9691c" stroke-width="0.6" fill-opacity="0.95"/>
<circle cx="1487.8" cy="2146.7" r="4.3" fill="#d57d33" stroke="#c9691c" stroke-width="0.6" fill-opacity="0.95"/>
<circle cx="1484.8" cy="2164.5" r="4.3" fill="#d57d33" stroke="#c9691c" stroke-width="0.6" fill-opacity="0.95"/>
<circle cx="1490.8" cy="2164.5" r="4.3" fill="#d57d33" stroke="#c9691c" stroke-width="0.6" fill-opacity="0.95"/>
<circle cx="1484.8" cy="2177.6" r="4.3" fill="#d57d33" stroke="#c9691c" stroke-width="0.6" fill-opacity="0.95"/>
<circle cx="1490.8" cy="2177.6" r="4.3" fill="#d57d33" stroke="#c9691c" stroke-width="0.6" fill-opacity="0.95"/>
<circle cx="1481.8" cy="2193.4" r="4.3" fill="#d57d33" stroke="#c9691c" stroke-width="0.6" fill-opacity="0.95"/>
<circle cx="1487.8" cy="2193.4" r="4.3" fill="#d57d33" stroke="#c9691c" stroke-width="0.6" fill-opacity="0.95"/>
<circle cx="1493.8" cy="2193.4" r="4.3" fill="#d57d33" stroke="#c9691c" stroke-width="0.6" fill-opacity="0.95"/>
<circle cx="1481.8" cy="2208.3" r="4.3" fill="#d57d33" stroke="#c9691c" stroke-width="0.6" fill-opacity="0.95"/>
<circle cx="1487.8" cy="2208.3" r="4.3" fill="#d57d33" stroke="#c9691c" stroke-width="0.6" fill-opacity="0.95"/>
<circle cx="1493.8" cy="2208.3" r="4.3" fill="#d57d33" stroke="#c9691c" stroke-width="0.6" fill-opacity="0.95"/>
<circle cx="1481.8" cy="2226.6" r="4.3" fill="#d57d33" stroke="#c9691c" stroke-width="0.6" fill-opacity="0.95"/>
<circle cx="1487.8" cy="2226.6" r="4.3" fill="#d57d33" stroke="#c9691c" stroke-width="0.6" fill-opacity="0.95"/>
<circle cx="1493.8" cy="2226.6" r="4.3" fill="#d57d33" stroke="#c9691c" stroke-width="0.6" fill-opacity="0.95"/>
<circle cx="1481.8" cy="2238.9" r="4.3" fill="#d57d33" stroke="#c9691c" stroke-width="0.6" fill-opacity="0.95"/>
<circle cx="1487.8" cy="2238.9" r="4.3" fill="#d57d33" stroke="#c9691c" stroke-width="0.6" fill-opacity="0.95"/>
<circle cx="1493.8" cy="2238.9" r="4.3" fill="#d57d33" stroke="#c9691c" stroke-width="0.6" fill-opacity="0.95"/>
<circle cx="1481.8" cy="2257.3" r="4.3" fill="#d57d33" stroke="#c9691c" stroke-width="0.6" fill-opacity="0.95"/>
<circle cx="1487.8" cy="2257.3" r="4.3" fill="#d57d33" stroke="#c9691c" stroke-width="0.6" fill-opacity="0.95"/>
<circle cx="1493.8" cy="2257.3" r="4.3" fill="#d57d33" stroke="#c9691c" stroke-width="0.6" fill-opacity="0.95"/>
<circle cx="1472.8" cy="2287.9" r="4.3" fill="#d57d33" stroke="#c9691c" stroke-width="0.6" fill-opacity="0.95"/>
<circle cx="1478.8" cy="2287.9" r="4.3" fill="#d57d33" stroke="#c9691c" stroke-width="0.6" fill-opacity="0.95"/>
<circle cx="1484.8" cy="2287.9" r="4.3" fill="#d57d33" stroke="#c9691c" stroke-width="0.6" fill-opacity="0.95"/>
<circle cx="1490.8" cy="2287.9" r="4.3" fill="#d57d33" stroke="#c9691c" stroke-width="0.6" fill-opacity="0.95"/>
<circle cx="1496.8" cy="2287.9" r="4.3" fill="#d57d33" stroke="#c9691c" stroke-width="0.6" fill-opacity="0.95"/>
<circle cx="1502.8" cy="2287.9" r="4.3" fill="#d57d33" stroke="#c9691c" stroke-width="0.6" fill-opacity="0.95"/>
<circle cx="1581.4" cy="2041.1" r="4.3" fill="#d57d33" stroke="#c9691c" stroke-width="0.6" fill-opacity="0.95"/>
<circle cx="1581.4" cy="2077.0" r="4.3" fill="#d57d33" stroke="#c9691c" stroke-width="0.6" fill-opacity="0.95"/>
<circle cx="1581.4" cy="2084.0" r="4.3" fill="#d57d33" stroke="#c9691c" stroke-width="0.6" fill-opacity="0.95"/>
<circle cx="1581.4" cy="2091.9" r="4.3" fill="#d57d33" stroke="#c9691c" stroke-width="0.6" fill-opacity="0.95"/>
<circle cx="1581.4" cy="2098.0" r="4.3" fill="#d57d33" stroke="#c9691c" stroke-width="0.6" fill-opacity="0.95"/>
<circle cx="1581.4" cy="2103.8" r="4.3" fill="#d57d33" stroke="#c9691c" stroke-width="0.6" fill-opacity="0.95"/>
<circle cx="1581.4" cy="2109.6" r="4.3" fill="#d57d33" stroke="#c9691c" stroke-width="0.6" fill-opacity="0.95"/>
<circle cx="1581.4" cy="2115.4" r="4.3" fill="#d57d33" stroke="#c9691c" stroke-width="0.6" fill-opacity="0.95"/>
<circle cx="1581.4" cy="2121.2" r="4.3" fill="#d57d33" stroke="#c9691c" stroke-width="0.6" fill-opacity="0.95"/>
<circle cx="1581.4" cy="2127.0" r="4.3" fill="#d57d33" stroke="#c9691c" stroke-width="0.6" fill-opacity="0.95"/>
<circle cx="1581.4" cy="2132.8" r="4.3" fill="#d57d33" stroke="#c9691c" stroke-width="0.6" fill-opacity="0.95"/>
<circle cx="1581.4" cy="2138.6" r="4.3" fill="#d57d33" stroke="#c9691c" stroke-width="0.6" fill-opacity="0.95"/>
<circle cx="1581.4" cy="2144.4" r="4.3" fill="#d57d33" stroke="#c9691c" stroke-width="0.6" fill-opacity="0.95"/>
<circle cx="1581.4" cy="2150.2" r="4.3" fill="#d57d33" stroke="#c9691c" stroke-width="0.6" fill-opacity="0.95"/>
<circle cx="1581.4" cy="2156.0" r="4.3" fill="#d57d33" stroke="#c9691c" stroke-width="0.6" fill-opacity="0.95"/>
<circle cx="1581.4" cy="2161.8" r="4.3" fill="#d57d33" stroke="#c9691c" stroke-width="0.6" fill-opacity="0.95"/>
<circle cx="1581.4" cy="2167.6" r="4.3" fill="#d57d33" stroke="#c9691c" stroke-width="0.6" fill-opacity="0.95"/>
<circle cx="1581.4" cy="2173.4" r="4.3" fill="#d57d33" stroke="#c9691c" stroke-width="0.6" fill-opacity="0.95"/>
<circle cx="1581.4" cy="2179.2" r="4.3" fill="#d57d33" stroke="#c9691c" stroke-width="0.6" fill-opacity="0.95"/>
<circle cx="1581.4" cy="2185.0" r="4.3" fill="#d57d33" stroke="#c9691c" stroke-width="0.6" fill-opacity="0.95"/>
<circle cx="1581.4" cy="2194.3" r="4.3" fill="#d57d33" stroke="#c9691c" stroke-width="0.6" fill-opacity="0.95"/>
<circle cx="1581.4" cy="2201.3" r="4.3" fill="#d57d33" stroke="#c9691c" stroke-width="0.6" fill-opacity="0.95"/>
<circle cx="1581.4" cy="2208.3" r="4.3" fill="#d57d33" stroke="#c9691c" stroke-width="0.6" fill-opacity="0.95"/>
<circle cx="1581.4" cy="2215.3" r="4.3" fill="#d57d33" stroke="#c9691c" stroke-width="0.6" fill-opacity="0.95"/>
<circle cx="1581.4" cy="2221.4" r="4.3" fill="#d57d33" stroke="#c9691c" stroke-width="0.6" fill-opacity="0.95"/>
<circle cx="1581.4" cy="2270.4" r="4.3" fill="#d57d33" stroke="#c9691c" stroke-width="0.6" fill-opacity="0.95"/>
<line x1="1487.8" y1="2196.4" x2="1487.8" y2="2281.8" stroke="#000" stroke-width="3.3" />
<line x1="1473.8" y1="2196.4" x2="1501.8" y2="2196.4" stroke="#000" stroke-width="3.3" />
<line x1="1473.8" y1="2281.8" x2="1501.8" y2="2281.8" stroke="#000" stroke-width="3.3" />
<text x="1487.8" y="2119.0" font-size="19.4" text-anchor="middle">12</text>
<line x1="1581.4" y1="2097.5" x2="1581.4" y2="2188.1" stroke="#000" stroke-width="3.3" />
<line x1="1567.4" y1="2097.5" x2="1595.4" y2="2097.5" stroke="#000" stroke-width="3.3" />
<line x1="1567.4" y1="2188.1" x2="1595.4" y2="2188.1" stroke="#000" stroke-width="3.3" />
<text x="1581.4" y="2028.9" font-size="19.4" text-anchor="middle">104</text>
<line x1="1429.2" y1="2349.6" x2="1639.2" y2="2349.6" stroke="#000" stroke-width="3.6" />
<line x1="1487.8" y1="2349.6" x2="1487.8" y2="2355.8" stroke="#000" stroke-width="2.6" />
<text transform="translate(1468.6,2415.9) rotate(-45)" font-size="21" text-anchor="middle">3x CoronaVac</text>
<line x1="1581.4" y1="2349.6" x2="1581.4" y2="2355.8" stroke="#000" stroke-width="2.6" />
<text transform="translate(1546.5,2424.1) rotate(-45)" font-size="21" text-anchor="middle">3x CoronaVac</text>
<text transform="translate(1567.2,2444.8) rotate(-45)" font-size="21" text-anchor="middle">-&gt; BA.1 infection</text>
<text x="1531.3" y="1794.6" font-size="21.3" text-anchor="middle">Omicron</text>
<line x1="1471.9" y1="1856.8" x2="1597.1" y2="1856.8" stroke="#000" stroke-width="2.6" />
<text x="1532.6" y="1850.2" font-size="19.0" text-anchor="middle">8.7x, <tspan font-style="italic">P</tspan> &lt; 0.001</text>
<line x1="994.0" y1="1834.4" x2="994.0" y2="2351.1" stroke="#000" stroke-width="3.3" />
<line x1="987.7" y1="2349.6" x2="994.0" y2="2349.6" stroke="#000" stroke-width="2.5" />
<text x="974.5" y="2359.9" font-size="21" text-anchor="end">10</text>
<text x="975.1" y="2350.4" font-size="14.5">0</text>
<line x1="989.7" y1="2318.7" x2="994.0" y2="2318.7" stroke="#000" stroke-width="2.3" />
<line x1="989.7" y1="2300.6" x2="994.0" y2="2300.6" stroke="#000" stroke-width="2.3" />
<line x1="989.7" y1="2287.7" x2="994.0" y2="2287.7" stroke="#000" stroke-width="2.3" />
<line x1="989.7" y1="2277.7" x2="994.0" y2="2277.7" stroke="#000" stroke-width="2.3" />
<line x1="989.7" y1="2269.6" x2="994.0" y2="2269.6" stroke="#000" stroke-width="2.3" />
<line x1="989.7" y1="2262.7" x2="994.0" y2="2262.7" stroke="#000" stroke-width="2.3" />
<line x1="989.7" y1="2256.8" x2="994.0" y2="2256.8" stroke="#000" stroke-width="2.3" />
<line x1="989.7" y1="2251.5" x2="994.0" y2="2251.5" stroke="#000" stroke-width="2.3" />
<line x1="987.7" y1="2246.8" x2="994.0" y2="2246.8" stroke="#000" stroke-width="2.5" />
<text x="974.5" y="2257.1" font-size="21" text-anchor="end">10</text>
<text x="975.1" y="2247.6" font-size="14.5">1</text>
<line x1="989.7" y1="2215.9" x2="994.0" y2="2215.9" stroke="#000" stroke-width="2.3" />
<line x1="989.7" y1="2197.8" x2="994.0" y2="2197.8" stroke="#000" stroke-width="2.3" />
<line x1="989.7" y1="2184.9" x2="994.0" y2="2184.9" stroke="#000" stroke-width="2.3" />
<line x1="989.7" y1="2174.9" x2="994.0" y2="2174.9" stroke="#000" stroke-width="2.3" />
<line x1="989.7" y1="2166.8" x2="994.0" y2="2166.8" stroke="#000" stroke-width="2.3" />
<line x1="989.7" y1="2159.9" x2="994.0" y2="2159.9" stroke="#000" stroke-width="2.3" />
<line x1="989.7" y1="2154.0" x2="994.0" y2="2154.0" stroke="#000" stroke-width="2.3" />
<line x1="989.7" y1="2148.7" x2="994.0" y2="2148.7" stroke="#000" stroke-width="2.3" />
<line x1="987.7" y1="2144.0" x2="994.0" y2="2144.0" stroke="#000" stroke-width="2.5" />
<text x="974.5" y="2154.3" font-size="21" text-anchor="end">10</text>
<text x="975.1" y="2144.8" font-size="14.5">2</text>
<line x1="989.7" y1="2113.1" x2="994.0" y2="2113.1" stroke="#000" stroke-width="2.3" />
<line x1="989.7" y1="2095.0" x2="994.0" y2="2095.0" stroke="#000" stroke-width="2.3" />
<line x1="989.7" y1="2082.1" x2="994.0" y2="2082.1" stroke="#000" stroke-width="2.3" />
<line x1="989.7" y1="2072.1" x2="994.0" y2="2072.1" stroke="#000" stroke-width="2.3" />
<line x1="989.7" y1="2064.0" x2="994.0" y2="2064.0" stroke="#000" stroke-width="2.3" />
<line x1="989.7" y1="2057.1" x2="994.0" y2="2057.1" stroke="#000" stroke-width="2.3" />
<line x1="989.7" y1="2051.2" x2="994.0" y2="2051.2" stroke="#000" stroke-width="2.3" />
<line x1="989.7" y1="2045.9" x2="994.0" y2="2045.9" stroke="#000" stroke-width="2.3" />
<line x1="987.7" y1="2041.2" x2="994.0" y2="2041.2" stroke="#000" stroke-width="2.5" />
<text x="974.5" y="2051.5" font-size="21" text-anchor="end">10</text>
<text x="975.1" y="2042.0" font-size="14.5">3</text>
<line x1="989.7" y1="2010.3" x2="994.0" y2="2010.3" stroke="#000" stroke-width="2.3" />
<line x1="989.7" y1="1992.2" x2="994.0" y2="1992.2" stroke="#000" stroke-width="2.3" />
<line x1="989.7" y1="1979.3" x2="994.0" y2="1979.3" stroke="#000" stroke-width="2.3" />
<line x1="989.7" y1="1969.3" x2="994.0" y2="1969.3" stroke="#000" stroke-width="2.3" />
<line x1="989.7" y1="1961.2" x2="994.0" y2="1961.2" stroke="#000" stroke-width="2.3" />
<line x1="989.7" y1="1954.3" x2="994.0" y2="1954.3" stroke="#000" stroke-width="2.3" />
<line x1="989.7" y1="1948.4" x2="994.0" y2="1948.4" stroke="#000" stroke-width="2.3" />
<line x1="989.7" y1="1943.1" x2="994.0" y2="1943.1" stroke="#000" stroke-width="2.3" />
<line x1="987.7" y1="1938.4" x2="994.0" y2="1938.4" stroke="#000" stroke-width="2.5" />
<text x="974.5" y="1948.7" font-size="21" text-anchor="end">10</text>
<text x="975.1" y="1939.2" font-size="14.5">4</text>
<line x1="989.7" y1="1907.5" x2="994.0" y2="1907.5" stroke="#000" stroke-width="2.3" />
<line x1="989.7" y1="1889.4" x2="994.0" y2="1889.4" stroke="#000" stroke-width="2.3" />
<line x1="989.7" y1="1876.5" x2="994.0" y2="1876.5" stroke="#000" stroke-width="2.3" />
<line x1="989.7" y1="1866.5" x2="994.0" y2="1866.5" stroke="#000" stroke-width="2.3" />
<line x1="989.7" y1="1858.4" x2="994.0" y2="1858.4" stroke="#000" stroke-width="2.3" />
<line x1="989.7" y1="1851.5" x2="994.0" y2="1851.5" stroke="#000" stroke-width="2.3" />
<line x1="989.7" y1="1845.6" x2="994.0" y2="1845.6" stroke="#000" stroke-width="2.3" />
<line x1="989.7" y1="1840.3" x2="994.0" y2="1840.3" stroke="#000" stroke-width="2.3" />
<line x1="987.7" y1="1835.6" x2="994.0" y2="1835.6" stroke="#000" stroke-width="2.5" />
<text x="974.5" y="1845.9" font-size="21" text-anchor="end">10</text>
<text x="975.1" y="1836.4" font-size="14.5">5</text>
</svg>
</body></html>
